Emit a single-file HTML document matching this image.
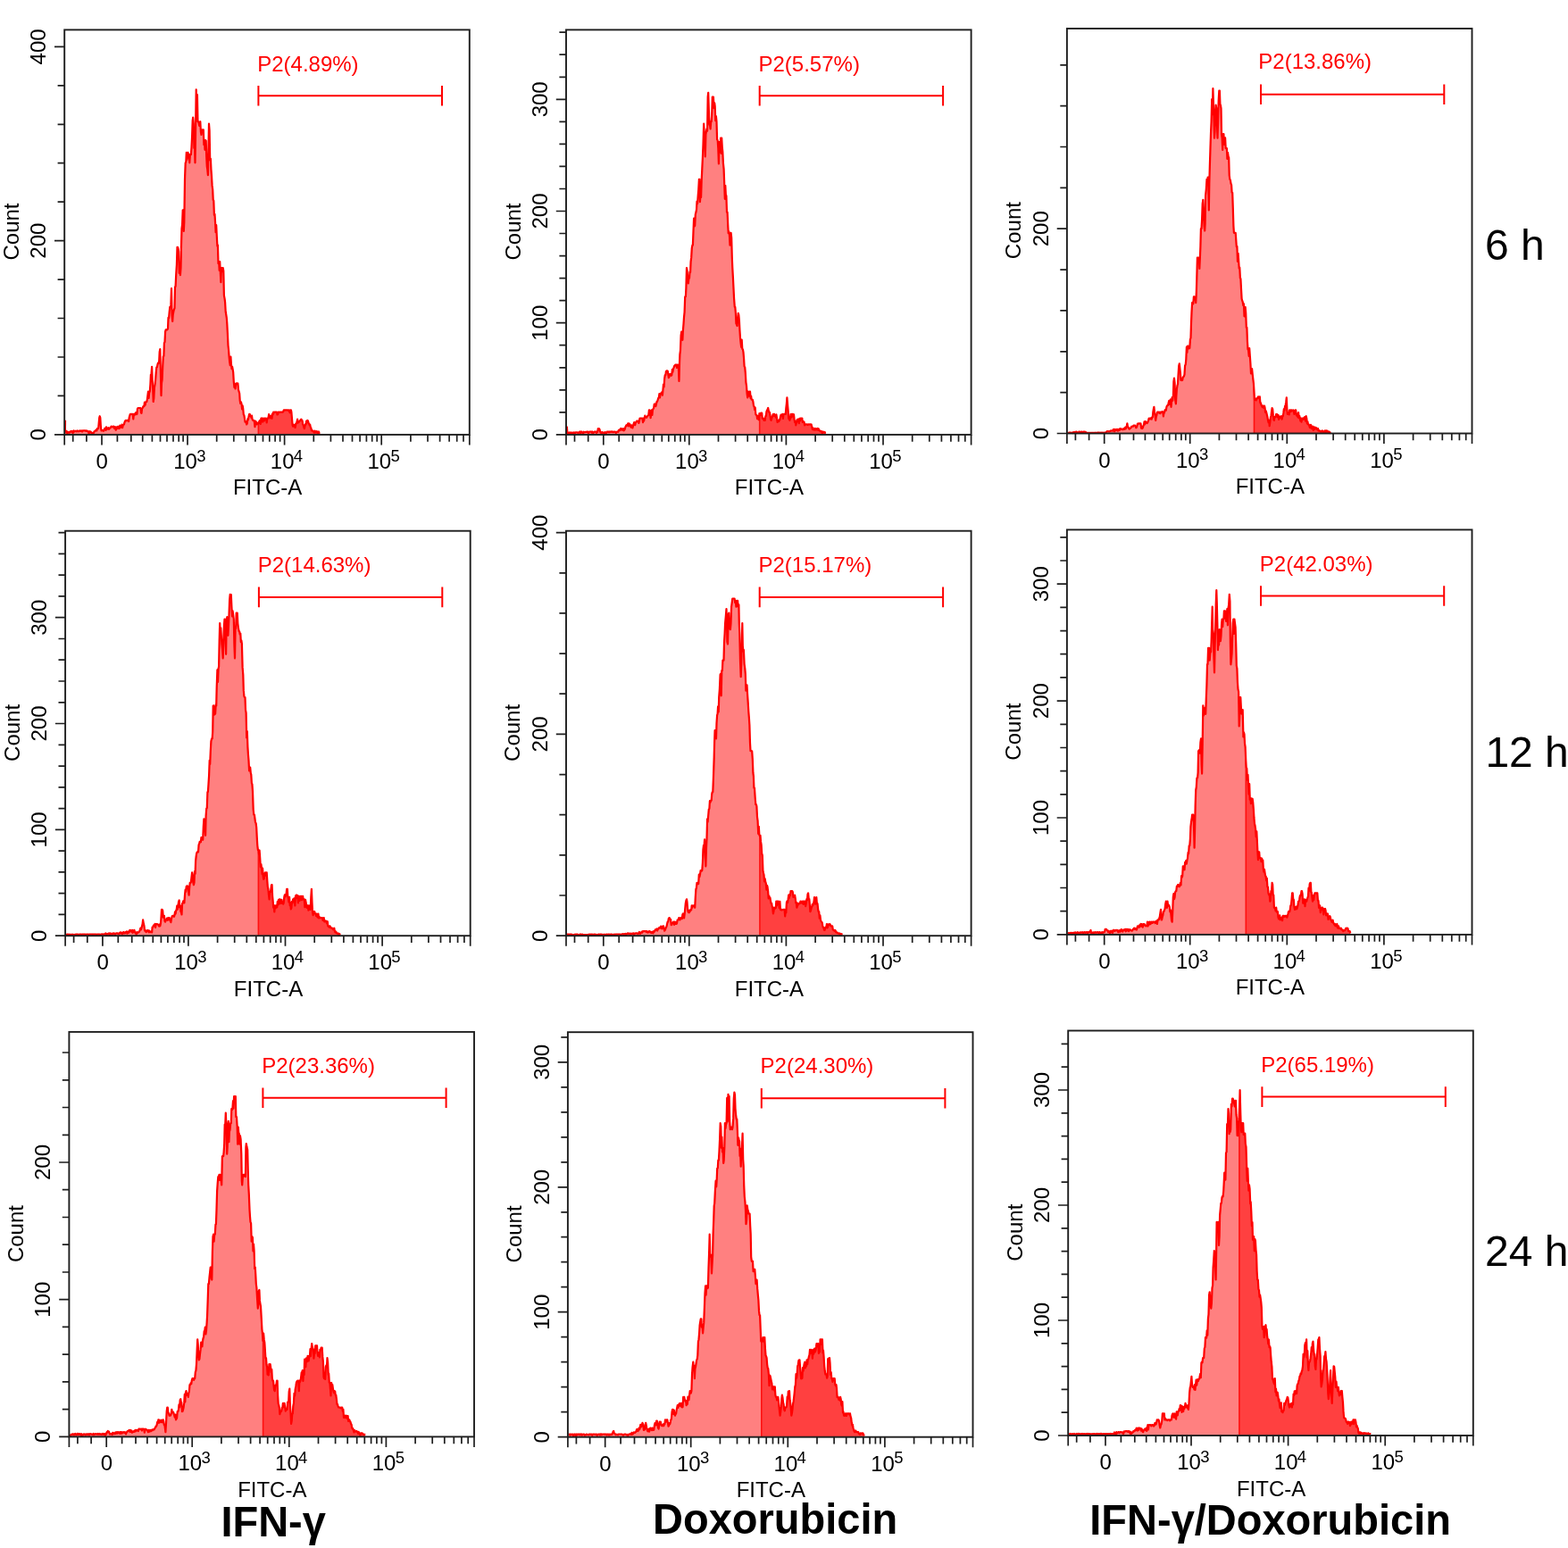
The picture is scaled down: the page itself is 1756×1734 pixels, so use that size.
<!DOCTYPE html>
<html><head><meta charset="utf-8"><title>Flow cytometry histograms</title>
<style>html,body{margin:0;padding:0;background:#fff;}svg{display:block;}.t{font-family:"Liberation Sans", Arial, sans-serif;font-size:24px;fill:#000;}.s{font-family:"Liberation Sans", Arial, sans-serif;font-size:18.5px;fill:#000;}.r{fill:#ff0000;}.b{font-family:"Liberation Sans", Arial, sans-serif;font-size:47px;font-weight:bold;fill:#000;}.h{font-family:"Liberation Sans", Arial, sans-serif;font-size:48px;fill:#000;}</style></head><body>
<svg width="1756" height="1734" viewBox="0 0 1756 1734">
<rect width="1756" height="1734" fill="#fff"/>
<!-- panel 1 -->
<clipPath id="c1"><polygon points="73,486.4 73,470.8 72.9,482.3 73.6,482.3 74.3,484.6 74.9,483.3 75.5,485.1 76.1,484 76.7,484.6 77.3,484.2 77.9,484.6 78.5,483.5 79.1,483.2 79.6,483.7 80.2,482.9 80.8,483 81.4,484.8 82,484.7 82.6,482.4 83.2,483.5 83.8,483.2 84.4,483 85,482.6 85.6,483.3 86.2,483.2 86.8,482.3 87.4,483.1 88,483.3 88.6,482.9 89.1,482.5 89.7,482.3 90.3,482.8 90.9,482.9 91.5,482.3 92.1,483.5 92.7,482.3 93.3,482.3 93.9,482.3 94.5,482.5 95.1,482.3 95.7,482.3 96.3,482.9 96.9,482.4 97.5,482.5 98.2,483.4 98.8,483.2 99.4,485.1 100,484.9 100.6,483.2 101.2,483.6 101.8,483.6 102.5,485.4 103.1,485.2 103.7,485 104.3,484.6 104.9,484.9 105.5,483.4 106,483.3 106.6,482.6 107.2,482.1 107.8,481.4 108.3,482.4 108.9,480 109.5,480.3 110.1,480 110.6,475.2 111.2,468.1 111.7,466.2 112.3,467.8 112.9,478 113.5,482.3 114.1,482.2 114.8,482 115.4,482.6 116,482.8 116.6,481.6 117.2,479.9 117.8,481.1 118.4,481.8 119,478.3 119.6,481.2 120.2,479.5 120.8,480.2 121.4,479.2 122,480.8 122.7,479.7 123.3,479.6 123.9,478.7 124.5,477.7 125.1,477.7 125.7,478.3 126.2,478.1 126.8,477.7 127.4,477.7 128,479.9 128.5,479.9 129.1,478.2 129.7,481.7 130.3,480.5 130.9,478.5 131.4,477.9 132,480 132.6,477.9 133.2,479.2 133.7,479.9 134.3,476.7 134.9,478.1 135.5,476.8 136,478.8 136.6,475.5 137.2,479.1 137.8,476.1 138.4,475.8 138.9,475.4 139.5,473.1 140.1,471.6 140.7,471 141.2,470.8 141.8,471.3 142.4,470.8 143,470.8 143.5,470.8 144.1,472 144.7,467.6 145.3,465.5 145.9,463.9 146.4,463.9 147,463.9 147.6,463.9 148.2,464 148.7,463.9 149.3,469.4 149.9,463.9 150.5,463.9 151,464.6 151.6,463 152.2,462.1 152.8,464.2 153.4,463.8 153.9,458.1 154.5,457 155.1,457 155.7,457 156.2,457 156.8,457 157.4,457 158,462.4 158.5,462.8 159.1,457.5 159.7,457 160.3,455.5 160.9,454.8 161.4,455.2 162,450.5 162.6,453.7 163.2,450.4 163.7,450 164.3,450 164.9,447.1 165.5,442.5 166,438.5 166.6,446 167.2,439.9 167.8,438.5 168.4,430.5 168.9,419.7 169.5,419.1 170.1,410.8 170.6,424.5 171.2,434.6 171.7,450 172.3,446.1 172.9,434.3 173.5,430.6 174.1,425.8 174.7,417.7 175.3,411.6 175.9,411.3 176.4,408.6 177,406.7 177.6,406.9 178.2,404.3 178.7,394.3 179.3,391.2 179.9,415.7 180.5,443.1 181,429.1 181.6,425.4 182.2,410.4 182.8,399.3 183.4,398.8 183.9,384.2 184.5,383.3 185.1,371.6 185.7,369.3 186.2,369.3 186.8,369.3 187.4,369.3 188,368.1 188.5,355.8 189.1,356.3 189.7,349.3 190.3,343.9 190.9,343.9 191.4,341.4 192,323.1 192.6,353.1 193.2,360 193.7,352.7 194.3,349.3 194.9,346.7 195.5,345.3 196,321.3 196.6,320.8 197.2,307.9 197.9,296.5 198.5,276.9 199,276.9 199.5,278.3 200.1,281.6 200.7,305.9 201.3,298.6 201.9,308.1 202.5,300 203,274.4 203.5,256.2 204.1,251.3 204.7,235.4 205.2,235.4 205.8,259 206.3,249.2 207,200.8 207.7,182.3 208.3,181.5 208.8,170.8 209.4,178.9 209.9,174.1 210.5,170.8 211.1,176.6 211.7,172.9 212.3,182.3 212.9,173.1 213.4,173.1 213.9,173.1 214.5,165.1 215.1,152.7 215.7,134.8 216.2,131.5 216.8,138.4 217.4,165.9 218,161.4 218.5,182.3 219.1,143.2 219.7,100.4 220.3,127.9 220.9,106.1 221.5,136.2 222.1,136.2 222.6,137.9 223.2,140.8 223.7,137.5 224.3,136.2 224.9,147.8 225.5,151 226.1,145.7 226.6,145.4 227.2,145.4 227.8,145.4 228.4,162.1 228.9,156.9 229.5,167.8 230.1,156.9 230.7,157.6 231.2,175.4 231.8,186.6 232.3,189.8 232.9,196.2 233.4,167.9 234,138.5 234.6,146.1 235.2,179.5 235.9,177.7 236.4,189.3 237,197.1 237.6,207.9 238.2,212.3 238.7,223.9 239.3,224.9 239.9,240.9 240.5,240 241.1,249.7 241.6,260.2 242.2,252.2 242.8,264.7 243.4,275.6 243.9,274.6 244.5,295.2 245.1,292.8 245.7,302.9 246.2,293 246.8,305 247.4,316.2 248,300 248.6,300 249.1,304.2 249.7,300 250.3,303.5 250.9,330.9 251.6,334.6 252.1,338.6 252.7,349.2 253.2,352 253.8,356 254.3,362.3 254.9,373.9 255.5,387 256.1,392.6 256.6,399.3 257.2,405.6 257.8,409.2 258.4,399.5 258.9,407.3 259.5,413.1 260.1,410.8 260.7,414 261.2,417.2 261.8,427.6 262.4,433.9 263,430.5 263.6,435.5 264.1,429.9 264.7,429.3 265.3,430 265.9,429.3 266.4,429.6 267,436.6 267.6,438.5 268.2,440.8 268.7,448.6 269.3,452 269.9,450.2 270.5,452.3 271.1,458.3 271.6,454.3 272.2,457.5 272.8,464.3 273.4,465.1 273.9,468.5 274.5,472.7 275.1,471.8 275.7,473.2 276.2,475.4 276.8,474.4 277.4,469 278,470.2 278.6,466.4 279.1,464.1 279.7,463.9 280.3,465.9 280.9,465.9 281.4,467.8 282,465.6 282.6,469.8 283.2,470.8 283.7,470.8 284.3,470.8 284.9,472.9 285.5,478.2 286.1,471.7 286.6,473.6 287.2,472.6 287.8,475.4 288.4,474.1 288.9,474.5 289.5,474.4 290.1,472.6 290.7,471.3 291.2,470.8 291.8,475 292.4,468.5 293,470.5 293.6,468.5 294.1,472.6 294.7,470.7 295.3,468.5 295.9,471.5 296.4,468.8 297,468.5 297.6,468.5 298.2,469 298.7,473.3 299.3,468.5 299.9,468.5 300.5,468.5 301.1,464.2 301.6,466.4 302.2,466.1 302.8,468.3 303.4,465.7 303.9,466.7 304.5,468.8 305.1,463.3 305.7,464.4 306.2,461.6 306.8,462.3 307.4,461.6 308,461.6 308.6,461.6 309.2,461.6 309.9,461.6 310.5,464.4 311.1,464.2 311.7,461.6 312.3,461.6 312.9,462 313.6,461.6 314.2,461.6 314.8,461.6 315.4,461.6 316,461.6 316.6,461.6 317.2,461.1 317.8,459.3 318.4,459.3 318.9,459.3 319.5,459.3 320.1,459.3 320.7,459.3 321.2,459.3 321.8,459.3 322.4,459.3 323,459.8 323.6,459.3 324.1,461 324.7,462.3 325.3,459.3 325.9,459.3 326.4,461.8 327,469 327.6,476.3 328.2,477.7 328.8,475.7 329.4,476.6 330,475.9 330.6,479 331.3,474.8 331.9,474.1 332.5,472.5 333.1,469.6 333.7,473.6 334.3,472.7 334.9,472.7 335.6,471.5 336.2,471.1 336.8,470.1 337.4,469.6 338,470.6 338.6,471.3 339.1,475 339.7,476.1 340.3,478.5 340.9,480 341.4,477.6 342,475.2 342.6,475.3 343.2,471.5 343.8,473.3 344.3,470.8 344.9,471.5 345.5,473.4 346.1,474.7 346.6,476.1 347.2,475.7 347.8,478.6 348.4,479.5 348.9,482.3 349.6,482.3 350.2,482.3 350.8,483.5 351.4,483.5 352,484.6 352.6,482.6 353.3,483.4 353.9,484.4 354.5,483.2 355.1,483.3 355.7,485.2 356.3,484.4 356.9,483.5 357.6,485.3 358.2,485.1 358.2,486.4"/></clipPath>
<g clip-path="url(#c1)">
<rect x="72.2" y="33.4" width="217.2" height="453.5" fill="#ff8080"/>
<rect x="289.4" y="33.4" width="236.4" height="453.5" fill="#ff4040"/>
<line x1="289.4" y1="33.4" x2="289.4" y2="486.9" stroke="#ff1010" stroke-width="1.6"/>
</g>
<polyline points="73,470.8 72.9,482.3 73.6,482.3 74.3,484.6 74.9,483.3 75.5,485.1 76.1,484 76.7,484.6 77.3,484.2 77.9,484.6 78.5,483.5 79.1,483.2 79.6,483.7 80.2,482.9 80.8,483 81.4,484.8 82,484.7 82.6,482.4 83.2,483.5 83.8,483.2 84.4,483 85,482.6 85.6,483.3 86.2,483.2 86.8,482.3 87.4,483.1 88,483.3 88.6,482.9 89.1,482.5 89.7,482.3 90.3,482.8 90.9,482.9 91.5,482.3 92.1,483.5 92.7,482.3 93.3,482.3 93.9,482.3 94.5,482.5 95.1,482.3 95.7,482.3 96.3,482.9 96.9,482.4 97.5,482.5 98.2,483.4 98.8,483.2 99.4,485.1 100,484.9 100.6,483.2 101.2,483.6 101.8,483.6 102.5,485.4 103.1,485.2 103.7,485 104.3,484.6 104.9,484.9 105.5,483.4 106,483.3 106.6,482.6 107.2,482.1 107.8,481.4 108.3,482.4 108.9,480 109.5,480.3 110.1,480 110.6,475.2 111.2,468.1 111.7,466.2 112.3,467.8 112.9,478 113.5,482.3 114.1,482.2 114.8,482 115.4,482.6 116,482.8 116.6,481.6 117.2,479.9 117.8,481.1 118.4,481.8 119,478.3 119.6,481.2 120.2,479.5 120.8,480.2 121.4,479.2 122,480.8 122.7,479.7 123.3,479.6 123.9,478.7 124.5,477.7 125.1,477.7 125.7,478.3 126.2,478.1 126.8,477.7 127.4,477.7 128,479.9 128.5,479.9 129.1,478.2 129.7,481.7 130.3,480.5 130.9,478.5 131.4,477.9 132,480 132.6,477.9 133.2,479.2 133.7,479.9 134.3,476.7 134.9,478.1 135.5,476.8 136,478.8 136.6,475.5 137.2,479.1 137.8,476.1 138.4,475.8 138.9,475.4 139.5,473.1 140.1,471.6 140.7,471 141.2,470.8 141.8,471.3 142.4,470.8 143,470.8 143.5,470.8 144.1,472 144.7,467.6 145.3,465.5 145.9,463.9 146.4,463.9 147,463.9 147.6,463.9 148.2,464 148.7,463.9 149.3,469.4 149.9,463.9 150.5,463.9 151,464.6 151.6,463 152.2,462.1 152.8,464.2 153.4,463.8 153.9,458.1 154.5,457 155.1,457 155.7,457 156.2,457 156.8,457 157.4,457 158,462.4 158.5,462.8 159.1,457.5 159.7,457 160.3,455.5 160.9,454.8 161.4,455.2 162,450.5 162.6,453.7 163.2,450.4 163.7,450 164.3,450 164.9,447.1 165.5,442.5 166,438.5 166.6,446 167.2,439.9 167.8,438.5 168.4,430.5 168.9,419.7 169.5,419.1 170.1,410.8 170.6,424.5 171.2,434.6 171.7,450 172.3,446.1 172.9,434.3 173.5,430.6 174.1,425.8 174.7,417.7 175.3,411.6 175.9,411.3 176.4,408.6 177,406.7 177.6,406.9 178.2,404.3 178.7,394.3 179.3,391.2 179.9,415.7 180.5,443.1 181,429.1 181.6,425.4 182.2,410.4 182.8,399.3 183.4,398.8 183.9,384.2 184.5,383.3 185.1,371.6 185.7,369.3 186.2,369.3 186.8,369.3 187.4,369.3 188,368.1 188.5,355.8 189.1,356.3 189.7,349.3 190.3,343.9 190.9,343.9 191.4,341.4 192,323.1 192.6,353.1 193.2,360 193.7,352.7 194.3,349.3 194.9,346.7 195.5,345.3 196,321.3 196.6,320.8 197.2,307.9 197.9,296.5 198.5,276.9 199,276.9 199.5,278.3 200.1,281.6 200.7,305.9 201.3,298.6 201.9,308.1 202.5,300 203,274.4 203.5,256.2 204.1,251.3 204.7,235.4 205.2,235.4 205.8,259 206.3,249.2 207,200.8 207.7,182.3 208.3,181.5 208.8,170.8 209.4,178.9 209.9,174.1 210.5,170.8 211.1,176.6 211.7,172.9 212.3,182.3 212.9,173.1 213.4,173.1 213.9,173.1 214.5,165.1 215.1,152.7 215.7,134.8 216.2,131.5 216.8,138.4 217.4,165.9 218,161.4 218.5,182.3 219.1,143.2 219.7,100.4 220.3,127.9 220.9,106.1 221.5,136.2 222.1,136.2 222.6,137.9 223.2,140.8 223.7,137.5 224.3,136.2 224.9,147.8 225.5,151 226.1,145.7 226.6,145.4 227.2,145.4 227.8,145.4 228.4,162.1 228.9,156.9 229.5,167.8 230.1,156.9 230.7,157.6 231.2,175.4 231.8,186.6 232.3,189.8 232.9,196.2 233.4,167.9 234,138.5 234.6,146.1 235.2,179.5 235.9,177.7 236.4,189.3 237,197.1 237.6,207.9 238.2,212.3 238.7,223.9 239.3,224.9 239.9,240.9 240.5,240 241.1,249.7 241.6,260.2 242.2,252.2 242.8,264.7 243.4,275.6 243.9,274.6 244.5,295.2 245.1,292.8 245.7,302.9 246.2,293 246.8,305 247.4,316.2 248,300 248.6,300 249.1,304.2 249.7,300 250.3,303.5 250.9,330.9 251.6,334.6 252.1,338.6 252.7,349.2 253.2,352 253.8,356 254.3,362.3 254.9,373.9 255.5,387 256.1,392.6 256.6,399.3 257.2,405.6 257.8,409.2 258.4,399.5 258.9,407.3 259.5,413.1 260.1,410.8 260.7,414 261.2,417.2 261.8,427.6 262.4,433.9 263,430.5 263.6,435.5 264.1,429.9 264.7,429.3 265.3,430 265.9,429.3 266.4,429.6 267,436.6 267.6,438.5 268.2,440.8 268.7,448.6 269.3,452 269.9,450.2 270.5,452.3 271.1,458.3 271.6,454.3 272.2,457.5 272.8,464.3 273.4,465.1 273.9,468.5 274.5,472.7 275.1,471.8 275.7,473.2 276.2,475.4 276.8,474.4 277.4,469 278,470.2 278.6,466.4 279.1,464.1 279.7,463.9 280.3,465.9 280.9,465.9 281.4,467.8 282,465.6 282.6,469.8 283.2,470.8 283.7,470.8 284.3,470.8 284.9,472.9 285.5,478.2 286.1,471.7 286.6,473.6 287.2,472.6 287.8,475.4 288.4,474.1 288.9,474.5 289.5,474.4 290.1,472.6 290.7,471.3 291.2,470.8 291.8,475 292.4,468.5 293,470.5 293.6,468.5 294.1,472.6 294.7,470.7 295.3,468.5 295.9,471.5 296.4,468.8 297,468.5 297.6,468.5 298.2,469 298.7,473.3 299.3,468.5 299.9,468.5 300.5,468.5 301.1,464.2 301.6,466.4 302.2,466.1 302.8,468.3 303.4,465.7 303.9,466.7 304.5,468.8 305.1,463.3 305.7,464.4 306.2,461.6 306.8,462.3 307.4,461.6 308,461.6 308.6,461.6 309.2,461.6 309.9,461.6 310.5,464.4 311.1,464.2 311.7,461.6 312.3,461.6 312.9,462 313.6,461.6 314.2,461.6 314.8,461.6 315.4,461.6 316,461.6 316.6,461.6 317.2,461.1 317.8,459.3 318.4,459.3 318.9,459.3 319.5,459.3 320.1,459.3 320.7,459.3 321.2,459.3 321.8,459.3 322.4,459.3 323,459.8 323.6,459.3 324.1,461 324.7,462.3 325.3,459.3 325.9,459.3 326.4,461.8 327,469 327.6,476.3 328.2,477.7 328.8,475.7 329.4,476.6 330,475.9 330.6,479 331.3,474.8 331.9,474.1 332.5,472.5 333.1,469.6 333.7,473.6 334.3,472.7 334.9,472.7 335.6,471.5 336.2,471.1 336.8,470.1 337.4,469.6 338,470.6 338.6,471.3 339.1,475 339.7,476.1 340.3,478.5 340.9,480 341.4,477.6 342,475.2 342.6,475.3 343.2,471.5 343.8,473.3 344.3,470.8 344.9,471.5 345.5,473.4 346.1,474.7 346.6,476.1 347.2,475.7 347.8,478.6 348.4,479.5 348.9,482.3 349.6,482.3 350.2,482.3 350.8,483.5 351.4,483.5 352,484.6 352.6,482.6 353.3,483.4 353.9,484.4 354.5,483.2 355.1,483.3 355.7,485.2 356.3,484.4 356.9,483.5 357.6,485.3 358.2,485.1" fill="none" stroke="#ff0000" stroke-width="2.2" stroke-linejoin="round"/>
<rect x="72.2" y="33.4" width="453.6" height="453.5" fill="none" stroke="#1e1e1e" stroke-width="1.9"/>
<path d="M61 486.9H72.2 M64.6 443.4H72.2 M64.6 400H72.2 M64.6 356.5H72.2 M64.6 313.1H72.2 M61 269.6H72.2 M64.6 226.2H72.2 M64.6 182.7H72.2 M64.6 139.3H72.2 M64.6 95.8H72.2 M61 52.4H72.2 M72.2 486.9V498.4 M81.7 486.9V494.7 M96.9 486.9V494.7 M114 486.9V498.4 M131.4 486.9V494.7 M146.8 486.9V494.7 M159.7 486.9V494.7 M170.4 486.9V494.7 M179.5 486.9V494.7 M187 486.9V494.7 M194 486.9V494.7 M200.2 486.9V494.7 M205.1 486.9V494.7 M210 486.9V498.4 M242.7 486.9V494.7 M261.8 486.9V494.7 M275.4 486.9V494.7 M285.9 486.9V494.7 M294.5 486.9V494.7 M301.8 486.9V494.7 M308.1 486.9V494.7 M313.6 486.9V494.7 M318.6 486.9V498.4 M351.3 486.9V494.7 M370.4 486.9V494.7 M384 486.9V494.7 M394.5 486.9V494.7 M403.1 486.9V494.7 M410.4 486.9V494.7 M416.7 486.9V494.7 M422.2 486.9V494.7 M427.2 486.9V498.4 M459.9 486.9V494.7 M479 486.9V494.7 M492.6 486.9V494.7 M503.1 486.9V494.7 M511.7 486.9V494.7 M519 486.9V494.7 M525.8 486.9V498.4" stroke="#1e1e1e" stroke-width="1.7" fill="none"/>
<text x="51.2" y="486.9" transform="rotate(-90 51.2 486.9)" text-anchor="middle" class="t">0</text>
<text x="51.2" y="269.6" transform="rotate(-90 51.2 269.6)" text-anchor="middle" class="t">200</text>
<text x="51.2" y="52.4" transform="rotate(-90 51.2 52.4)" text-anchor="middle" class="t">400</text>
<text x="20.7" y="259.5" transform="rotate(-90 20.7 259.5)" text-anchor="middle" class="t">Count</text>
<text x="114.2" y="524.9" text-anchor="middle" class="t">0</text>
<text x="207.6" y="524.9" text-anchor="middle" class="t">10</text>
<text x="225.4" y="516.5" text-anchor="middle" class="s">3</text>
<text x="316.2" y="524.9" text-anchor="middle" class="t">10</text>
<text x="334" y="516.5" text-anchor="middle" class="s">4</text>
<text x="424.8" y="524.9" text-anchor="middle" class="t">10</text>
<text x="442.6" y="516.5" text-anchor="middle" class="s">5</text>
<text x="299.6" y="554.4" text-anchor="middle" class="t">FITC-A</text>
<path d="M289.4 107.3H495 M289.4 96V118.6 M495 96V118.6" stroke="#ff0000" stroke-width="2" fill="none"/>
<text x="288.2" y="79.5" class="t r">P2(4.89%)</text>
<!-- panel 2 -->
<clipPath id="c2"><polygon points="634.8,486.4 634.8,477.7 635.4,485.1 636,485.9 636.6,486.2 637.2,484.5 637.8,484.4 638.4,485.2 639,485.4 639.6,484.3 640.2,485.1 640.8,485.8 641.4,485.5 642,484.4 642.6,486.4 643.2,484.5 643.8,485.5 644.4,484.4 645.1,484.5 645.7,484.3 646.3,484.5 646.9,484.4 647.5,485.2 648.1,484.7 648.7,484 649.3,483.5 649.9,485.2 650.5,484.5 651.1,483.5 651.7,484.4 652.3,484.8 652.9,485.8 653.5,483.7 654.1,484 654.7,484.3 655.3,484 655.9,483.9 656.5,483.9 657.1,483.9 657.7,483.5 658.3,483.5 659,485.6 659.6,484.1 660.2,483.5 660.8,483.5 661.4,483.5 662,483.5 662.6,484.7 663.2,483.5 663.8,484 664.4,485.1 665,484.1 665.6,483.9 666.2,483.5 666.8,483.5 667.4,483.9 668,484.8 668.6,483.5 669.2,484 669.8,480 670.3,480 670.9,480 671.5,481.1 672.1,483.6 672.7,484.7 673.2,484.2 673.8,485.5 674.4,484.1 675,484.4 675.6,484.5 676.2,484.9 676.8,486.4 677.4,484.2 678,484.3 678.6,485 679.2,484.9 679.8,483.5 680.4,483.5 681,483.5 681.6,484.2 682.2,483.5 682.8,484.1 683.4,483.6 684,483.5 684.5,483.8 685.1,483.5 685.7,483.8 686.3,483.5 686.9,484.1 687.5,483.8 688.1,483.6 688.7,483.5 689.3,484.3 689.9,485 690.5,484.1 691.1,483.5 691.7,483.5 692.3,483.8 692.9,481.8 693.4,481.7 694,482.2 694.6,481.3 695.2,480 695.7,481.4 696.3,480.3 696.9,481.7 697.5,481.2 698,480.1 698.6,482.3 699.2,481.7 699.8,480.7 700.4,478.2 700.9,477.5 701.5,476.2 702.1,476.6 702.7,476.5 703.2,474.3 703.8,477.4 704.4,474.3 705,476.7 705.5,475.4 706.1,477.9 706.7,478.7 707.3,476.3 707.9,477.7 708.4,479.4 709,477.1 709.6,474.9 710.2,473.1 710.7,475.2 711.3,476 711.9,473.1 712.5,473.1 713,471.6 713.6,471.6 714.2,471.8 714.8,471.7 715.4,474 715.9,472.2 716.5,468.5 717.1,468.5 717.7,468.5 718.2,468.5 718.8,468.5 719.4,468.5 720,473.1 720.5,468.5 721.1,471.6 721.7,468.5 722.3,465.6 722.9,466.9 723.4,467.1 724,467.8 724.6,466.8 725.2,466 725.7,465.5 726.3,465 726.9,459.3 727.5,459.3 728,461.1 728.6,468.1 729.2,464.2 729.8,459.3 730.4,464.9 730.9,459.3 731.5,458.1 732.1,457.2 732.7,453 733.2,452.3 733.8,454.7 734.4,455 735,452.4 735.5,450 736.1,449.7 736.7,447.7 737.3,445.8 737.9,445.1 738.4,441.2 739,445.4 739.6,441.2 740.2,440.8 740.7,439.9 741.3,439.2 741.9,442.7 742.5,436.2 743,430.5 743.6,433.4 744.2,424 744.8,420 745.4,420.1 745.9,416.2 746.5,415.4 747.1,415.4 747.7,415.5 748.2,418.5 748.8,423.1 749.4,422.3 750,419 750.5,419.7 751.1,418.8 751.7,420.8 752.3,420.2 752.9,413.8 753.4,416.8 754,413.1 754.6,411.7 755.2,409.8 755.7,409.7 756.3,408.5 756.9,408.5 757.5,408.5 758,412 758.6,408.5 759.2,408.5 759.8,409.6 760.5,426.9 760.9,409.9 761.4,396.9 762,392.3 762.6,376 763.2,371.6 763.8,373.1 764.4,380.8 764.9,370.2 765.5,362.8 766,355.4 766.6,349.6 767.2,332.3 767.9,332.3 768.4,322.3 769,300 769.6,303.3 770.2,311.6 770.8,317.3 771.4,311.6 772,311.6 772.5,304.5 773.1,304.9 773.6,293.1 774.2,288.4 774.8,277.9 775.4,274.6 775.9,274.6 776.5,259.1 777.1,244.6 777.7,253.5 778.2,252.9 778.8,240.2 779.4,237.7 780,235 780.5,225.6 781.1,228 781.7,219.2 782.3,212.1 782.9,200.8 783.4,200.8 783.9,226.2 784.5,219.2 785.1,221 785.7,201.7 786.3,189.2 786.9,176.7 787.5,161.5 788.2,138.5 788.7,147.6 789.2,153.9 789.8,175.4 790.4,150.9 790.9,147.7 791.5,144.4 792.1,146.7 792.7,108.3 793.2,103.8 793.9,124.4 794.5,139.8 795.1,140.8 795.6,144.3 796.2,136.2 796.7,136.2 797.2,129 797.8,108.5 798.3,108.5 798.9,108.5 799.6,121.2 800.2,115.4 800.7,119.2 801.3,135.2 801.9,130.2 802.5,136.2 803.1,156.4 803.7,157.2 804.3,166.2 804.9,183.4 805.4,159.2 805.9,159.2 806.5,170.3 807.1,154.6 807.7,171.9 808.2,154.6 808.8,165.2 809.3,169.9 809.9,182.3 810.6,189.4 811.2,205.4 811.8,222.8 812.3,207.9 812.9,219.2 813.4,219.2 814,237.7 814.6,237.7 815.2,251.6 815.7,261.1 816.3,259.4 816.9,263.3 817.5,274.6 818.1,270 818.6,260.8 819.2,266.4 819.8,288.5 820.3,300.2 820.9,310.6 821.4,320.8 822.1,334.6 822.8,343.9 823.3,343.9 823.9,350.9 824.4,362.3 825,363.6 825.6,365.1 826.1,357.9 826.7,350.8 827.3,352.5 827.9,359.4 828.4,369.3 829,378.5 829.6,384.3 830.2,388.8 830.7,380.6 831.3,390.8 831.9,391.3 832.5,394.6 833.1,401.9 833.6,410.5 834.2,411.2 834.8,417.7 835.4,428.1 836,432.3 836.6,440.8 837.2,445.3 837.7,438.5 838.3,440.6 838.8,443.7 839.4,438.5 840,438.5 840.6,446.2 841.1,443.5 841.7,447.7 842.3,447.7 842.9,447.9 843.4,450 844,454.6 844.6,455.2 845.2,459 845.7,456.6 846.3,463.9 846.9,464.9 847.5,465 848.1,469.2 848.6,466.2 849.2,467 849.8,470.2 850.4,463.1 850.9,465.3 851.5,464.9 852.1,462.7 852.7,462.7 853.2,462.7 853.8,468.6 854.4,468.2 855,469 855.6,470.8 856.1,470.3 856.7,470.9 857.3,466.2 857.9,465.9 858.4,461.2 859,459.5 859.6,458.6 860.2,457 860.7,459.9 861.3,462 861.9,461.6 862.5,464.9 863.1,469.9 863.6,470.8 864.2,468.7 864.8,467.1 865.4,465.2 865.9,463.9 866.5,465.8 867.1,463.9 867.7,466 868.2,466.1 868.8,467.7 869.4,464.4 870,468.2 870.6,472.9 871.1,471.2 871.7,470.8 872.3,472 872.9,469.8 873.4,470.2 874,466.9 874.6,464.5 875.2,465.1 875.7,466 876.3,463.9 876.9,468.8 877.5,464.2 878.1,463.9 878.6,463.9 879.2,463.9 879.8,463.9 880.3,457.4 880.9,452.1 881.4,445.4 882,452.9 882.6,459.7 883.2,468.5 883.8,469.6 884.4,470.8 885,468.4 885.6,463.9 886.1,463.9 886.7,467.3 887.3,463.9 887.9,463.9 888.4,465.5 889,464.3 889.6,469.9 890.2,473.1 890.8,472.1 891.3,476.3 891.9,473.7 892.5,470.3 893.1,472.2 893.6,469.6 894.2,470.3 894.8,474.2 895.4,468.8 895.9,471.5 896.5,468.5 897.1,468.5 897.7,468.5 898.3,468.5 898.8,472.8 899.4,471.9 900,472.4 900.6,472.9 901.1,476.3 901.7,475.4 902.3,475.4 902.9,475.4 903.4,475.4 904,475.4 904.6,475.9 905.2,475.4 905.8,475.4 906.3,475.5 906.9,475.4 907.5,475.4 908.1,475.6 908.6,475.4 909.2,478.1 909.8,480.7 910.4,479.3 910.9,481.2 911.5,480.8 912.1,481.5 912.7,480 913.3,481.4 913.8,480.1 914.4,480.8 915,481.4 915.6,480 916.1,481.7 916.7,480.2 917.3,481.9 917.9,482.5 918.4,482.6 919,483.4 919.6,482.9 920.2,483.5 920.8,485.5 921.3,483.5 921.9,483.5 922.5,484.2 923.1,484.4 923.6,484 924.2,484.8 924.8,485.1 924.8,486.4"/></clipPath>
<g clip-path="url(#c2)">
<rect x="634" y="33.4" width="216.7" height="453.5" fill="#ff8080"/>
<rect x="850.7" y="33.4" width="236.9" height="453.5" fill="#ff4040"/>
<line x1="850.7" y1="33.4" x2="850.7" y2="486.9" stroke="#ff1010" stroke-width="1.6"/>
</g>
<polyline points="634.8,477.7 635.4,485.1 636,485.9 636.6,486.2 637.2,484.5 637.8,484.4 638.4,485.2 639,485.4 639.6,484.3 640.2,485.1 640.8,485.8 641.4,485.5 642,484.4 642.6,486.4 643.2,484.5 643.8,485.5 644.4,484.4 645.1,484.5 645.7,484.3 646.3,484.5 646.9,484.4 647.5,485.2 648.1,484.7 648.7,484 649.3,483.5 649.9,485.2 650.5,484.5 651.1,483.5 651.7,484.4 652.3,484.8 652.9,485.8 653.5,483.7 654.1,484 654.7,484.3 655.3,484 655.9,483.9 656.5,483.9 657.1,483.9 657.7,483.5 658.3,483.5 659,485.6 659.6,484.1 660.2,483.5 660.8,483.5 661.4,483.5 662,483.5 662.6,484.7 663.2,483.5 663.8,484 664.4,485.1 665,484.1 665.6,483.9 666.2,483.5 666.8,483.5 667.4,483.9 668,484.8 668.6,483.5 669.2,484 669.8,480 670.3,480 670.9,480 671.5,481.1 672.1,483.6 672.7,484.7 673.2,484.2 673.8,485.5 674.4,484.1 675,484.4 675.6,484.5 676.2,484.9 676.8,486.4 677.4,484.2 678,484.3 678.6,485 679.2,484.9 679.8,483.5 680.4,483.5 681,483.5 681.6,484.2 682.2,483.5 682.8,484.1 683.4,483.6 684,483.5 684.5,483.8 685.1,483.5 685.7,483.8 686.3,483.5 686.9,484.1 687.5,483.8 688.1,483.6 688.7,483.5 689.3,484.3 689.9,485 690.5,484.1 691.1,483.5 691.7,483.5 692.3,483.8 692.9,481.8 693.4,481.7 694,482.2 694.6,481.3 695.2,480 695.7,481.4 696.3,480.3 696.9,481.7 697.5,481.2 698,480.1 698.6,482.3 699.2,481.7 699.8,480.7 700.4,478.2 700.9,477.5 701.5,476.2 702.1,476.6 702.7,476.5 703.2,474.3 703.8,477.4 704.4,474.3 705,476.7 705.5,475.4 706.1,477.9 706.7,478.7 707.3,476.3 707.9,477.7 708.4,479.4 709,477.1 709.6,474.9 710.2,473.1 710.7,475.2 711.3,476 711.9,473.1 712.5,473.1 713,471.6 713.6,471.6 714.2,471.8 714.8,471.7 715.4,474 715.9,472.2 716.5,468.5 717.1,468.5 717.7,468.5 718.2,468.5 718.8,468.5 719.4,468.5 720,473.1 720.5,468.5 721.1,471.6 721.7,468.5 722.3,465.6 722.9,466.9 723.4,467.1 724,467.8 724.6,466.8 725.2,466 725.7,465.5 726.3,465 726.9,459.3 727.5,459.3 728,461.1 728.6,468.1 729.2,464.2 729.8,459.3 730.4,464.9 730.9,459.3 731.5,458.1 732.1,457.2 732.7,453 733.2,452.3 733.8,454.7 734.4,455 735,452.4 735.5,450 736.1,449.7 736.7,447.7 737.3,445.8 737.9,445.1 738.4,441.2 739,445.4 739.6,441.2 740.2,440.8 740.7,439.9 741.3,439.2 741.9,442.7 742.5,436.2 743,430.5 743.6,433.4 744.2,424 744.8,420 745.4,420.1 745.9,416.2 746.5,415.4 747.1,415.4 747.7,415.5 748.2,418.5 748.8,423.1 749.4,422.3 750,419 750.5,419.7 751.1,418.8 751.7,420.8 752.3,420.2 752.9,413.8 753.4,416.8 754,413.1 754.6,411.7 755.2,409.8 755.7,409.7 756.3,408.5 756.9,408.5 757.5,408.5 758,412 758.6,408.5 759.2,408.5 759.8,409.6 760.5,426.9 760.9,409.9 761.4,396.9 762,392.3 762.6,376 763.2,371.6 763.8,373.1 764.4,380.8 764.9,370.2 765.5,362.8 766,355.4 766.6,349.6 767.2,332.3 767.9,332.3 768.4,322.3 769,300 769.6,303.3 770.2,311.6 770.8,317.3 771.4,311.6 772,311.6 772.5,304.5 773.1,304.9 773.6,293.1 774.2,288.4 774.8,277.9 775.4,274.6 775.9,274.6 776.5,259.1 777.1,244.6 777.7,253.5 778.2,252.9 778.8,240.2 779.4,237.7 780,235 780.5,225.6 781.1,228 781.7,219.2 782.3,212.1 782.9,200.8 783.4,200.8 783.9,226.2 784.5,219.2 785.1,221 785.7,201.7 786.3,189.2 786.9,176.7 787.5,161.5 788.2,138.5 788.7,147.6 789.2,153.9 789.8,175.4 790.4,150.9 790.9,147.7 791.5,144.4 792.1,146.7 792.7,108.3 793.2,103.8 793.9,124.4 794.5,139.8 795.1,140.8 795.6,144.3 796.2,136.2 796.7,136.2 797.2,129 797.8,108.5 798.3,108.5 798.9,108.5 799.6,121.2 800.2,115.4 800.7,119.2 801.3,135.2 801.9,130.2 802.5,136.2 803.1,156.4 803.7,157.2 804.3,166.2 804.9,183.4 805.4,159.2 805.9,159.2 806.5,170.3 807.1,154.6 807.7,171.9 808.2,154.6 808.8,165.2 809.3,169.9 809.9,182.3 810.6,189.4 811.2,205.4 811.8,222.8 812.3,207.9 812.9,219.2 813.4,219.2 814,237.7 814.6,237.7 815.2,251.6 815.7,261.1 816.3,259.4 816.9,263.3 817.5,274.6 818.1,270 818.6,260.8 819.2,266.4 819.8,288.5 820.3,300.2 820.9,310.6 821.4,320.8 822.1,334.6 822.8,343.9 823.3,343.9 823.9,350.9 824.4,362.3 825,363.6 825.6,365.1 826.1,357.9 826.7,350.8 827.3,352.5 827.9,359.4 828.4,369.3 829,378.5 829.6,384.3 830.2,388.8 830.7,380.6 831.3,390.8 831.9,391.3 832.5,394.6 833.1,401.9 833.6,410.5 834.2,411.2 834.8,417.7 835.4,428.1 836,432.3 836.6,440.8 837.2,445.3 837.7,438.5 838.3,440.6 838.8,443.7 839.4,438.5 840,438.5 840.6,446.2 841.1,443.5 841.7,447.7 842.3,447.7 842.9,447.9 843.4,450 844,454.6 844.6,455.2 845.2,459 845.7,456.6 846.3,463.9 846.9,464.9 847.5,465 848.1,469.2 848.6,466.2 849.2,467 849.8,470.2 850.4,463.1 850.9,465.3 851.5,464.9 852.1,462.7 852.7,462.7 853.2,462.7 853.8,468.6 854.4,468.2 855,469 855.6,470.8 856.1,470.3 856.7,470.9 857.3,466.2 857.9,465.9 858.4,461.2 859,459.5 859.6,458.6 860.2,457 860.7,459.9 861.3,462 861.9,461.6 862.5,464.9 863.1,469.9 863.6,470.8 864.2,468.7 864.8,467.1 865.4,465.2 865.9,463.9 866.5,465.8 867.1,463.9 867.7,466 868.2,466.1 868.8,467.7 869.4,464.4 870,468.2 870.6,472.9 871.1,471.2 871.7,470.8 872.3,472 872.9,469.8 873.4,470.2 874,466.9 874.6,464.5 875.2,465.1 875.7,466 876.3,463.9 876.9,468.8 877.5,464.2 878.1,463.9 878.6,463.9 879.2,463.9 879.8,463.9 880.3,457.4 880.9,452.1 881.4,445.4 882,452.9 882.6,459.7 883.2,468.5 883.8,469.6 884.4,470.8 885,468.4 885.6,463.9 886.1,463.9 886.7,467.3 887.3,463.9 887.9,463.9 888.4,465.5 889,464.3 889.6,469.9 890.2,473.1 890.8,472.1 891.3,476.3 891.9,473.7 892.5,470.3 893.1,472.2 893.6,469.6 894.2,470.3 894.8,474.2 895.4,468.8 895.9,471.5 896.5,468.5 897.1,468.5 897.7,468.5 898.3,468.5 898.8,472.8 899.4,471.9 900,472.4 900.6,472.9 901.1,476.3 901.7,475.4 902.3,475.4 902.9,475.4 903.4,475.4 904,475.4 904.6,475.9 905.2,475.4 905.8,475.4 906.3,475.5 906.9,475.4 907.5,475.4 908.1,475.6 908.6,475.4 909.2,478.1 909.8,480.7 910.4,479.3 910.9,481.2 911.5,480.8 912.1,481.5 912.7,480 913.3,481.4 913.8,480.1 914.4,480.8 915,481.4 915.6,480 916.1,481.7 916.7,480.2 917.3,481.9 917.9,482.5 918.4,482.6 919,483.4 919.6,482.9 920.2,483.5 920.8,485.5 921.3,483.5 921.9,483.5 922.5,484.2 923.1,484.4 923.6,484 924.2,484.8 924.8,485.1" fill="none" stroke="#ff0000" stroke-width="2.2" stroke-linejoin="round"/>
<rect x="634" y="33.4" width="453.6" height="453.5" fill="none" stroke="#1e1e1e" stroke-width="1.9"/>
<path d="M622.8 486.9H634 M626.4 461.9H634 M626.4 436.8H634 M626.4 411.8H634 M626.4 386.7H634 M622.8 361.7H634 M626.4 336.7H634 M626.4 311.6H634 M626.4 286.6H634 M626.4 261.5H634 M622.8 236.5H634 M626.4 211.5H634 M626.4 186.4H634 M626.4 161.4H634 M626.4 136.3H634 M622.8 111.3H634 M626.4 86.3H634 M626.4 61.2H634 M626.4 36.2H634 M634 486.9V498.4 M643.5 486.9V494.7 M658.7 486.9V494.7 M675.8 486.9V498.4 M693.2 486.9V494.7 M708.6 486.9V494.7 M721.5 486.9V494.7 M732.2 486.9V494.7 M741.3 486.9V494.7 M748.8 486.9V494.7 M755.8 486.9V494.7 M762 486.9V494.7 M766.9 486.9V494.7 M771.8 486.9V498.4 M804.5 486.9V494.7 M823.6 486.9V494.7 M837.2 486.9V494.7 M847.7 486.9V494.7 M856.3 486.9V494.7 M863.6 486.9V494.7 M869.9 486.9V494.7 M875.4 486.9V494.7 M880.4 486.9V498.4 M913.1 486.9V494.7 M932.2 486.9V494.7 M945.8 486.9V494.7 M956.3 486.9V494.7 M964.9 486.9V494.7 M972.2 486.9V494.7 M978.5 486.9V494.7 M984 486.9V494.7 M989 486.9V498.4 M1021.7 486.9V494.7 M1040.8 486.9V494.7 M1054.4 486.9V494.7 M1064.9 486.9V494.7 M1073.5 486.9V494.7 M1080.8 486.9V494.7 M1087.6 486.9V498.4" stroke="#1e1e1e" stroke-width="1.7" fill="none"/>
<text x="613" y="486.9" transform="rotate(-90 613 486.9)" text-anchor="middle" class="t">0</text>
<text x="613" y="361.7" transform="rotate(-90 613 361.7)" text-anchor="middle" class="t">100</text>
<text x="613" y="236.5" transform="rotate(-90 613 236.5)" text-anchor="middle" class="t">200</text>
<text x="613" y="111.3" transform="rotate(-90 613 111.3)" text-anchor="middle" class="t">300</text>
<text x="582.5" y="259.5" transform="rotate(-90 582.5 259.5)" text-anchor="middle" class="t">Count</text>
<text x="676" y="524.9" text-anchor="middle" class="t">0</text>
<text x="769.4" y="524.9" text-anchor="middle" class="t">10</text>
<text x="787.2" y="516.5" text-anchor="middle" class="s">3</text>
<text x="878" y="524.9" text-anchor="middle" class="t">10</text>
<text x="895.8" y="516.5" text-anchor="middle" class="s">4</text>
<text x="986.6" y="524.9" text-anchor="middle" class="t">10</text>
<text x="1004.4" y="516.5" text-anchor="middle" class="s">5</text>
<text x="861.4" y="554.4" text-anchor="middle" class="t">FITC-A</text>
<path d="M850.7 107.3H1056.1 M850.7 96V118.6 M1056.1 96V118.6" stroke="#ff0000" stroke-width="2" fill="none"/>
<text x="849.5" y="79.5" class="t r">P2(5.57%)</text>
<!-- panel 3 -->
<clipPath id="c3"><polygon points="1195.7,485 1195.7,485 1196.3,484.9 1196.9,484.9 1197.5,484.7 1198.1,484.4 1198.7,485 1199.3,485 1199.8,484.8 1200.4,484.7 1201,484.7 1201.6,485 1202.2,484.2 1202.8,484.1 1203.4,484.5 1204,484.2 1204.6,483.9 1205.2,483.6 1205.8,483.8 1206.4,484.3 1206.9,484.8 1207.5,484.8 1208.1,483.9 1208.7,483.5 1209.3,484 1209.9,484.6 1210.5,483.8 1211.1,483.5 1211.7,484 1212.3,483.9 1212.9,484.2 1213.5,483.5 1214,483.5 1214.6,483.7 1215.2,483.8 1215.8,483.9 1216.3,484.8 1216.9,484.9 1217.5,484.8 1218.1,485 1218.7,484.9 1219.3,485 1219.9,484.9 1220.5,484.9 1221.1,485 1221.7,484.9 1222.2,485 1222.8,484.8 1223.4,484.9 1224,484.8 1224.6,484.9 1225.2,485 1225.8,484.8 1226.4,484.8 1227,484.7 1227.6,485 1228.2,485 1228.8,484.7 1229.4,484.6 1230,484.9 1230.6,484.6 1231.2,484.7 1231.8,484.9 1232.4,484.6 1233,485 1233.6,484.6 1234.2,484.6 1234.8,484.8 1235.4,485 1235.9,484.9 1236.5,484.6 1237.2,484.9 1237.8,484.8 1238.4,484.3 1239,483.8 1239.6,483.3 1240.2,483 1240.8,483 1241.5,483.3 1242.1,483.3 1242.7,483.4 1243.3,482.6 1243.9,482.8 1244.5,482.5 1245.2,482.3 1245.8,482.3 1246.4,482.7 1247,480.8 1247.6,481.3 1248.2,483.3 1248.9,481 1249.5,481.6 1250.1,482 1250.7,480.8 1251.3,480.8 1251.9,482.6 1252.5,481.6 1253.2,480.9 1253.8,481.8 1254.4,480 1255,480 1255.6,481 1256.2,480.8 1256.7,480.6 1257.3,481.2 1257.9,481 1258.5,480 1259,480.9 1259.6,480 1260.2,478.6 1260.7,480.4 1261.3,478.9 1261.8,477 1262.4,474.3 1263,478.4 1263.6,478.6 1264.2,480 1264.8,480.6 1265.4,479.8 1266,479.5 1266.5,479.2 1267.1,477.9 1267.7,477.7 1268.3,477.7 1268.9,477.7 1269.4,476.6 1270,476.6 1270.6,476.6 1271.2,476.6 1271.7,477.8 1272.3,479.2 1272.9,478.8 1273.5,476.6 1274,474.5 1274.6,475 1275.2,474.3 1275.8,474.3 1276.4,474.3 1276.9,474.3 1277.5,474.3 1278.1,479.6 1278.7,477.8 1279.2,480 1279.8,479.3 1280.4,477.1 1281,475.7 1281.5,472.4 1282.1,475.4 1282.7,472 1283.3,472.6 1283.9,473 1284.4,474 1285,473.7 1285.6,472.4 1286.2,470.4 1286.7,468.5 1287.3,468.5 1287.9,469.4 1288.5,468.5 1289,468.3 1289.6,469.6 1290.2,467.3 1290.8,467.3 1291.3,461.6 1291.9,458 1292.4,455.8 1293,461.7 1293.6,465.4 1294.2,470.8 1294.8,466.8 1295.4,464.9 1296,461.6 1296.5,461.6 1297.1,461.6 1297.7,461.6 1298.3,462.9 1298.9,461.6 1299.4,463.1 1300,461.6 1300.6,461.6 1301.2,461.6 1301.7,461 1302.3,461.7 1302.9,466.3 1303.5,461.3 1304,462.4 1304.6,459.3 1305.2,459.1 1305.8,459.7 1306.4,455.8 1306.9,454.6 1307.5,454.1 1308.1,453.9 1308.7,451.1 1309.2,448.9 1309.8,452.9 1310.4,448.9 1311,447.5 1311.5,455.8 1312.1,449.4 1312.7,445 1313.3,448.6 1313.9,443.1 1314.4,427.4 1315,423.5 1315.6,428.9 1316.2,448.4 1316.9,452.3 1317.4,443 1317.9,435.8 1318.5,431.6 1319,430.4 1319.6,419.2 1320.2,409.8 1320.8,407.3 1321.3,412.2 1321.9,417.6 1322.4,425.8 1323,424.9 1323.6,426 1324.2,425.7 1324.8,422.3 1325.4,422.3 1326,421.3 1326.5,419.4 1327.1,409.2 1327.7,408.5 1328.3,402.5 1328.9,388.7 1329.4,395 1330,387.7 1330.6,387.7 1331.2,389.9 1331.7,390.3 1332.3,390 1332.9,380.4 1333.5,378.5 1334,362.1 1334.5,350.2 1335.1,339.2 1335.7,338.7 1336.3,340.4 1336.9,332.3 1337.5,332.3 1338.1,335.6 1338.7,334.6 1339.2,339.2 1339.8,327.9 1340.3,311.5 1340.9,288.5 1341.5,288.5 1342.1,292.1 1342.7,288.5 1343.3,301 1343.9,288.5 1344.4,275.8 1344.9,256.2 1345.5,256.2 1346.1,245.5 1346.7,228.1 1347.3,223.9 1347.9,238.2 1348.6,253.7 1349.2,258.5 1349.6,251 1350.1,219.2 1350.8,212.1 1351.5,200.8 1352,204.4 1352.6,198.5 1353.1,198.5 1353.8,235.4 1354.3,206.1 1354.9,183.7 1355.4,168.5 1356,149.6 1356.6,136.2 1357.2,111 1357.8,128.1 1358.4,99.2 1358.9,115.3 1359.5,136 1360,154.6 1360.6,147.1 1361.1,126.2 1361.6,117.7 1362.2,120.6 1362.9,137.9 1363.5,154.6 1364.1,136 1364.7,112.6 1365.3,101.5 1365.9,101.5 1366.4,116.9 1366.9,117.7 1367.5,121.4 1368,150.3 1368.6,154.6 1369.2,168 1369.8,150 1370.4,150 1371,161.8 1371.6,160.9 1372.1,154.3 1372.7,166.2 1373.3,166.2 1373.9,166.2 1374.4,177.9 1375,170.8 1375.6,175.1 1376.2,176.7 1376.7,196.3 1377.3,200.8 1377.9,201.8 1378.5,205.7 1379.1,207.2 1379.6,215.8 1380.2,215.8 1380.8,233.1 1381.4,253 1381.9,260.8 1382.5,260.8 1383.1,260.8 1383.7,260.8 1384.2,267.7 1384.8,276.5 1385.4,276 1386,293 1386.6,283.9 1387.1,291.1 1387.7,300.6 1388.3,299.7 1388.9,311.6 1389.4,312 1390,323.5 1390.6,334.5 1391.2,336.9 1391.7,338 1392.3,342.2 1392.9,340.2 1393.5,354.3 1394.1,344.1 1394.6,343.9 1395.2,350.4 1395.8,366.9 1396.4,366.9 1396.9,381.9 1397.5,391.2 1398.1,392.3 1398.7,398.8 1399.2,390 1399.8,398.3 1400.4,407 1401,418.4 1401.6,413.1 1402.1,413.1 1402.7,419.2 1403.3,424.4 1403.9,429.3 1404.4,437.2 1405,447.7 1405.6,447.8 1406.2,446.6 1406.7,448.4 1407.3,446.3 1407.9,446.5 1408.5,445.4 1409.1,444.3 1409.6,445.1 1410.2,446.1 1410.8,444.3 1411.4,451.5 1411.9,451.2 1412.5,453.5 1413.1,454.6 1413.7,456 1414.2,454.6 1414.8,454.6 1415.4,457 1416,454.6 1416.6,457 1417.1,462 1417.7,460.2 1418.3,462.3 1418.9,464.9 1419.4,467 1420,470.8 1420.6,473.2 1421.2,470.8 1421.7,477.2 1422.3,473.1 1422.9,467.8 1423.5,465.7 1424.1,460.5 1424.6,457 1425.2,458.2 1425.8,465.4 1426.4,470.2 1426.9,470.8 1427.5,466.9 1428.1,466.8 1428.7,467.1 1429.2,463.9 1429.8,464.4 1430.4,464.2 1431,467.3 1431.6,465 1432.1,469.8 1432.7,468.5 1433.3,466.6 1433.9,466.9 1434.4,467.7 1435,466.2 1435.6,469.6 1436.2,466.2 1436.7,466.2 1437.3,462.9 1437.9,458 1438.5,459.5 1439.1,454.8 1439.6,454.6 1440.2,450.5 1440.8,445.4 1441.4,459.2 1441.9,463.9 1442.5,462 1443.1,462.9 1443.7,464.4 1444.2,459.3 1444.8,459.3 1445.4,461.2 1446,459.3 1446.6,459.3 1447.1,460.3 1447.7,459.8 1448.3,459.3 1448.9,460.8 1449.4,463.9 1450,461.8 1450.6,459.3 1451.2,459.3 1451.8,464.9 1452.3,465.7 1452.9,463.8 1453.5,467.3 1454.1,462.1 1454.6,468.2 1455.2,465.8 1455.8,468.5 1456.4,471.5 1456.9,468.5 1457.5,472.7 1458.1,468.5 1458.7,469.1 1459.3,468.5 1459.8,469.9 1460.4,468.5 1461,467.3 1461.6,467 1462.1,471.7 1462.7,466.2 1463.3,468.7 1463.9,474.4 1464.4,472.2 1465,475.4 1465.6,475.4 1466.2,476.5 1466.8,478.7 1467.3,479.2 1467.9,475.8 1468.5,478.4 1469.1,480.2 1469.6,477.7 1470.2,477.7 1470.8,481.8 1471.4,481.1 1471.9,478.4 1472.5,480.7 1473.1,480.3 1473.7,478.9 1474.3,480 1474.8,480.7 1475.4,481.4 1476,480 1476.6,482.4 1477.1,482.7 1477.7,482.3 1478.3,482.9 1478.9,483.5 1479.4,483.9 1480,483.1 1480.6,482.3 1481.2,482.7 1481.8,484.3 1482.3,483.9 1482.9,483.5 1483.5,482.5 1484.1,482.3 1484.6,485 1485.2,483 1485.8,482.3 1486.4,483.6 1486.9,483 1487.5,483.9 1488.1,483.5 1488.7,483.5 1489.3,485 1489.8,484.7 1490.4,485 1490.4,485"/></clipPath>
<g clip-path="url(#c3)">
<rect x="1194.9" y="32" width="209.6" height="453.5" fill="#ff8080"/>
<rect x="1404.5" y="32" width="244" height="453.5" fill="#ff4040"/>
<line x1="1404.5" y1="32" x2="1404.5" y2="485.5" stroke="#ff1010" stroke-width="1.6"/>
</g>
<polyline points="1195.7,485 1196.3,484.9 1196.9,484.9 1197.5,484.7 1198.1,484.4 1198.7,485 1199.3,485 1199.8,484.8 1200.4,484.7 1201,484.7 1201.6,485 1202.2,484.2 1202.8,484.1 1203.4,484.5 1204,484.2 1204.6,483.9 1205.2,483.6 1205.8,483.8 1206.4,484.3 1206.9,484.8 1207.5,484.8 1208.1,483.9 1208.7,483.5 1209.3,484 1209.9,484.6 1210.5,483.8 1211.1,483.5 1211.7,484 1212.3,483.9 1212.9,484.2 1213.5,483.5 1214,483.5 1214.6,483.7 1215.2,483.8 1215.8,483.9 1216.3,484.8 1216.9,484.9 1217.5,484.8 1218.1,485 1218.7,484.9 1219.3,485 1219.9,484.9 1220.5,484.9 1221.1,485 1221.7,484.9 1222.2,485 1222.8,484.8 1223.4,484.9 1224,484.8 1224.6,484.9 1225.2,485 1225.8,484.8 1226.4,484.8 1227,484.7 1227.6,485 1228.2,485 1228.8,484.7 1229.4,484.6 1230,484.9 1230.6,484.6 1231.2,484.7 1231.8,484.9 1232.4,484.6 1233,485 1233.6,484.6 1234.2,484.6 1234.8,484.8 1235.4,485 1235.9,484.9 1236.5,484.6 1237.2,484.9 1237.8,484.8 1238.4,484.3 1239,483.8 1239.6,483.3 1240.2,483 1240.8,483 1241.5,483.3 1242.1,483.3 1242.7,483.4 1243.3,482.6 1243.9,482.8 1244.5,482.5 1245.2,482.3 1245.8,482.3 1246.4,482.7 1247,480.8 1247.6,481.3 1248.2,483.3 1248.9,481 1249.5,481.6 1250.1,482 1250.7,480.8 1251.3,480.8 1251.9,482.6 1252.5,481.6 1253.2,480.9 1253.8,481.8 1254.4,480 1255,480 1255.6,481 1256.2,480.8 1256.7,480.6 1257.3,481.2 1257.9,481 1258.5,480 1259,480.9 1259.6,480 1260.2,478.6 1260.7,480.4 1261.3,478.9 1261.8,477 1262.4,474.3 1263,478.4 1263.6,478.6 1264.2,480 1264.8,480.6 1265.4,479.8 1266,479.5 1266.5,479.2 1267.1,477.9 1267.7,477.7 1268.3,477.7 1268.9,477.7 1269.4,476.6 1270,476.6 1270.6,476.6 1271.2,476.6 1271.7,477.8 1272.3,479.2 1272.9,478.8 1273.5,476.6 1274,474.5 1274.6,475 1275.2,474.3 1275.8,474.3 1276.4,474.3 1276.9,474.3 1277.5,474.3 1278.1,479.6 1278.7,477.8 1279.2,480 1279.8,479.3 1280.4,477.1 1281,475.7 1281.5,472.4 1282.1,475.4 1282.7,472 1283.3,472.6 1283.9,473 1284.4,474 1285,473.7 1285.6,472.4 1286.2,470.4 1286.7,468.5 1287.3,468.5 1287.9,469.4 1288.5,468.5 1289,468.3 1289.6,469.6 1290.2,467.3 1290.8,467.3 1291.3,461.6 1291.9,458 1292.4,455.8 1293,461.7 1293.6,465.4 1294.2,470.8 1294.8,466.8 1295.4,464.9 1296,461.6 1296.5,461.6 1297.1,461.6 1297.7,461.6 1298.3,462.9 1298.9,461.6 1299.4,463.1 1300,461.6 1300.6,461.6 1301.2,461.6 1301.7,461 1302.3,461.7 1302.9,466.3 1303.5,461.3 1304,462.4 1304.6,459.3 1305.2,459.1 1305.8,459.7 1306.4,455.8 1306.9,454.6 1307.5,454.1 1308.1,453.9 1308.7,451.1 1309.2,448.9 1309.8,452.9 1310.4,448.9 1311,447.5 1311.5,455.8 1312.1,449.4 1312.7,445 1313.3,448.6 1313.9,443.1 1314.4,427.4 1315,423.5 1315.6,428.9 1316.2,448.4 1316.9,452.3 1317.4,443 1317.9,435.8 1318.5,431.6 1319,430.4 1319.6,419.2 1320.2,409.8 1320.8,407.3 1321.3,412.2 1321.9,417.6 1322.4,425.8 1323,424.9 1323.6,426 1324.2,425.7 1324.8,422.3 1325.4,422.3 1326,421.3 1326.5,419.4 1327.1,409.2 1327.7,408.5 1328.3,402.5 1328.9,388.7 1329.4,395 1330,387.7 1330.6,387.7 1331.2,389.9 1331.7,390.3 1332.3,390 1332.9,380.4 1333.5,378.5 1334,362.1 1334.5,350.2 1335.1,339.2 1335.7,338.7 1336.3,340.4 1336.9,332.3 1337.5,332.3 1338.1,335.6 1338.7,334.6 1339.2,339.2 1339.8,327.9 1340.3,311.5 1340.9,288.5 1341.5,288.5 1342.1,292.1 1342.7,288.5 1343.3,301 1343.9,288.5 1344.4,275.8 1344.9,256.2 1345.5,256.2 1346.1,245.5 1346.7,228.1 1347.3,223.9 1347.9,238.2 1348.6,253.7 1349.2,258.5 1349.6,251 1350.1,219.2 1350.8,212.1 1351.5,200.8 1352,204.4 1352.6,198.5 1353.1,198.5 1353.8,235.4 1354.3,206.1 1354.9,183.7 1355.4,168.5 1356,149.6 1356.6,136.2 1357.2,111 1357.8,128.1 1358.4,99.2 1358.9,115.3 1359.5,136 1360,154.6 1360.6,147.1 1361.1,126.2 1361.6,117.7 1362.2,120.6 1362.9,137.9 1363.5,154.6 1364.1,136 1364.7,112.6 1365.3,101.5 1365.9,101.5 1366.4,116.9 1366.9,117.7 1367.5,121.4 1368,150.3 1368.6,154.6 1369.2,168 1369.8,150 1370.4,150 1371,161.8 1371.6,160.9 1372.1,154.3 1372.7,166.2 1373.3,166.2 1373.9,166.2 1374.4,177.9 1375,170.8 1375.6,175.1 1376.2,176.7 1376.7,196.3 1377.3,200.8 1377.9,201.8 1378.5,205.7 1379.1,207.2 1379.6,215.8 1380.2,215.8 1380.8,233.1 1381.4,253 1381.9,260.8 1382.5,260.8 1383.1,260.8 1383.7,260.8 1384.2,267.7 1384.8,276.5 1385.4,276 1386,293 1386.6,283.9 1387.1,291.1 1387.7,300.6 1388.3,299.7 1388.9,311.6 1389.4,312 1390,323.5 1390.6,334.5 1391.2,336.9 1391.7,338 1392.3,342.2 1392.9,340.2 1393.5,354.3 1394.1,344.1 1394.6,343.9 1395.2,350.4 1395.8,366.9 1396.4,366.9 1396.9,381.9 1397.5,391.2 1398.1,392.3 1398.7,398.8 1399.2,390 1399.8,398.3 1400.4,407 1401,418.4 1401.6,413.1 1402.1,413.1 1402.7,419.2 1403.3,424.4 1403.9,429.3 1404.4,437.2 1405,447.7 1405.6,447.8 1406.2,446.6 1406.7,448.4 1407.3,446.3 1407.9,446.5 1408.5,445.4 1409.1,444.3 1409.6,445.1 1410.2,446.1 1410.8,444.3 1411.4,451.5 1411.9,451.2 1412.5,453.5 1413.1,454.6 1413.7,456 1414.2,454.6 1414.8,454.6 1415.4,457 1416,454.6 1416.6,457 1417.1,462 1417.7,460.2 1418.3,462.3 1418.9,464.9 1419.4,467 1420,470.8 1420.6,473.2 1421.2,470.8 1421.7,477.2 1422.3,473.1 1422.9,467.8 1423.5,465.7 1424.1,460.5 1424.6,457 1425.2,458.2 1425.8,465.4 1426.4,470.2 1426.9,470.8 1427.5,466.9 1428.1,466.8 1428.7,467.1 1429.2,463.9 1429.8,464.4 1430.4,464.2 1431,467.3 1431.6,465 1432.1,469.8 1432.7,468.5 1433.3,466.6 1433.9,466.9 1434.4,467.7 1435,466.2 1435.6,469.6 1436.2,466.2 1436.7,466.2 1437.3,462.9 1437.9,458 1438.5,459.5 1439.1,454.8 1439.6,454.6 1440.2,450.5 1440.8,445.4 1441.4,459.2 1441.9,463.9 1442.5,462 1443.1,462.9 1443.7,464.4 1444.2,459.3 1444.8,459.3 1445.4,461.2 1446,459.3 1446.6,459.3 1447.1,460.3 1447.7,459.8 1448.3,459.3 1448.9,460.8 1449.4,463.9 1450,461.8 1450.6,459.3 1451.2,459.3 1451.8,464.9 1452.3,465.7 1452.9,463.8 1453.5,467.3 1454.1,462.1 1454.6,468.2 1455.2,465.8 1455.8,468.5 1456.4,471.5 1456.9,468.5 1457.5,472.7 1458.1,468.5 1458.7,469.1 1459.3,468.5 1459.8,469.9 1460.4,468.5 1461,467.3 1461.6,467 1462.1,471.7 1462.7,466.2 1463.3,468.7 1463.9,474.4 1464.4,472.2 1465,475.4 1465.6,475.4 1466.2,476.5 1466.8,478.7 1467.3,479.2 1467.9,475.8 1468.5,478.4 1469.1,480.2 1469.6,477.7 1470.2,477.7 1470.8,481.8 1471.4,481.1 1471.9,478.4 1472.5,480.7 1473.1,480.3 1473.7,478.9 1474.3,480 1474.8,480.7 1475.4,481.4 1476,480 1476.6,482.4 1477.1,482.7 1477.7,482.3 1478.3,482.9 1478.9,483.5 1479.4,483.9 1480,483.1 1480.6,482.3 1481.2,482.7 1481.8,484.3 1482.3,483.9 1482.9,483.5 1483.5,482.5 1484.1,482.3 1484.6,485 1485.2,483 1485.8,482.3 1486.4,483.6 1486.9,483 1487.5,483.9 1488.1,483.5 1488.7,483.5 1489.3,485 1489.8,484.7 1490.4,485" fill="none" stroke="#ff0000" stroke-width="2.2" stroke-linejoin="round"/>
<rect x="1194.9" y="32" width="453.6" height="453.5" fill="none" stroke="#1e1e1e" stroke-width="1.9"/>
<path d="M1183.7 485.5H1194.9 M1187.3 439.6H1194.9 M1187.3 393.8H1194.9 M1187.3 347.9H1194.9 M1187.3 302.1H1194.9 M1183.7 256.2H1194.9 M1187.3 210.3H1194.9 M1187.3 164.5H1194.9 M1187.3 118.6H1194.9 M1187.3 72.8H1194.9 M1194.9 485.5V497 M1204.4 485.5V493.3 M1219.6 485.5V493.3 M1236.7 485.5V497 M1254.1 485.5V493.3 M1269.5 485.5V493.3 M1282.4 485.5V493.3 M1293.1 485.5V493.3 M1302.2 485.5V493.3 M1309.7 485.5V493.3 M1316.7 485.5V493.3 M1322.9 485.5V493.3 M1327.8 485.5V493.3 M1332.7 485.5V497 M1365.4 485.5V493.3 M1384.5 485.5V493.3 M1398.1 485.5V493.3 M1408.6 485.5V493.3 M1417.2 485.5V493.3 M1424.5 485.5V493.3 M1430.8 485.5V493.3 M1436.3 485.5V493.3 M1441.3 485.5V497 M1474 485.5V493.3 M1493.1 485.5V493.3 M1506.7 485.5V493.3 M1517.2 485.5V493.3 M1525.8 485.5V493.3 M1533.1 485.5V493.3 M1539.4 485.5V493.3 M1544.9 485.5V493.3 M1549.9 485.5V497 M1582.6 485.5V493.3 M1601.7 485.5V493.3 M1615.3 485.5V493.3 M1625.8 485.5V493.3 M1634.4 485.5V493.3 M1641.7 485.5V493.3 M1648.5 485.5V497" stroke="#1e1e1e" stroke-width="1.7" fill="none"/>
<text x="1173.9" y="485.5" transform="rotate(-90 1173.9 485.5)" text-anchor="middle" class="t">0</text>
<text x="1173.9" y="256.2" transform="rotate(-90 1173.9 256.2)" text-anchor="middle" class="t">200</text>
<text x="1143.4" y="258.1" transform="rotate(-90 1143.4 258.1)" text-anchor="middle" class="t">Count</text>
<text x="1236.9" y="523.5" text-anchor="middle" class="t">0</text>
<text x="1330.3" y="523.5" text-anchor="middle" class="t">10</text>
<text x="1348.1" y="515.1" text-anchor="middle" class="s">3</text>
<text x="1438.9" y="523.5" text-anchor="middle" class="t">10</text>
<text x="1456.7" y="515.1" text-anchor="middle" class="s">4</text>
<text x="1547.5" y="523.5" text-anchor="middle" class="t">10</text>
<text x="1565.3" y="515.1" text-anchor="middle" class="s">5</text>
<text x="1422.3" y="553" text-anchor="middle" class="t">FITC-A</text>
<path d="M1412 105.8H1617.3 M1412 94.5V117.1 M1617.3 94.5V117.1" stroke="#ff0000" stroke-width="2" fill="none"/>
<text x="1409.3" y="77.2" class="t r">P2(13.86%)</text>
<!-- panel 4 -->
<clipPath id="c4"><polygon points="73.9,1047.7 73.9,1047 74.5,1047.2 75.1,1046.6 75.7,1046.6 76.3,1047 76.9,1046.6 77.5,1046.9 78.1,1046.8 78.7,1047.1 79.3,1047.3 79.9,1046.6 80.5,1047.7 81.1,1047.5 81.7,1046.6 82.3,1047.6 82.9,1047.6 83.5,1047.3 84.1,1046.6 84.7,1047.2 85.3,1046.6 85.9,1046.6 86.5,1046.6 87.1,1046.6 87.7,1047.2 88.3,1047 88.9,1046.6 89.5,1046.7 90.1,1046.6 90.7,1046.8 91.3,1047 91.9,1046.6 92.5,1046.6 93.1,1046.6 93.7,1046.8 94.3,1046.7 94.9,1046.6 95.5,1046.6 96.1,1047 96.7,1046.6 97.3,1046.7 97.9,1046.6 98.5,1046.6 99.1,1047.1 99.7,1046.6 100.3,1046.6 100.9,1046.6 101.5,1046.6 102.1,1046.6 102.7,1046.6 103.3,1046.6 103.9,1046.9 104.5,1046.6 105.1,1046.6 105.7,1046.6 106.3,1046.6 106.9,1046.6 107.5,1046.7 108.1,1047.1 108.7,1046.6 109.3,1046.6 109.9,1046.6 110.5,1046.6 111.1,1046.6 111.7,1046.6 112.3,1047.3 112.9,1046.6 113.5,1046.6 114.1,1046.4 114.7,1046.9 115.3,1046.4 115.9,1046.7 116.5,1046.5 117.1,1046.4 117.7,1046.3 118.3,1045.4 118.9,1046 119.5,1047.7 120.1,1046 120.7,1046 121.3,1045.7 121.9,1045.4 122.5,1047 123.1,1045.4 123.7,1046.2 124.3,1046.6 124.8,1045.7 125.4,1046 126,1046.6 126.6,1045.4 127.2,1046 127.8,1045.4 128.4,1045.9 129,1047.1 129.6,1045.7 130.2,1045.4 130.8,1045.4 131.4,1045.4 132,1045.4 132.6,1046.3 133.2,1046.4 133.8,1045.3 134.5,1044.5 135.1,1045.4 135.7,1044.4 136.3,1045.2 136.9,1046.4 137.5,1045.8 138.1,1044.2 138.8,1044.2 139.4,1045.4 140,1045.3 140.6,1044.2 141.2,1044.2 141.8,1043.4 142.4,1045.6 143,1044 143.5,1045.1 144.1,1043.3 144.7,1044.3 145.3,1041.9 145.8,1041.9 146.4,1042.4 147,1043.2 147.6,1044 148.1,1041.9 148.7,1044.8 149.3,1042.3 149.9,1043.9 150.4,1041.9 151,1043.6 151.6,1045.4 152.2,1045.2 152.8,1046.9 153.3,1044.2 153.9,1044.3 154.5,1044.8 155.1,1044.2 155.6,1044 156.2,1043.2 156.8,1041.6 157.4,1039.6 157.9,1041.5 158.5,1039.6 159.1,1037 159.6,1035 160.1,1030.4 160.8,1034.4 161.4,1036.7 162,1041.9 162.6,1043.1 163.1,1042.2 163.7,1044.2 164.3,1042.6 164.9,1042.9 165.4,1041.9 166,1042.3 166.6,1044.3 167.2,1042.5 167.8,1044 168.3,1043.5 168.9,1044.2 169.5,1043.9 170.1,1044.3 170.6,1038.7 171.2,1038.8 171.8,1036.9 172.4,1036.2 172.9,1036.1 173.5,1035 174.1,1038.8 174.7,1035 175.3,1035 175.8,1035 176.4,1035.3 177,1035.5 177.6,1036.7 178.1,1037.5 178.7,1035.7 179.3,1037.3 179.9,1034.6 180.4,1029.3 181,1018.9 181.6,1018.9 182.2,1020 182.8,1027.7 183.3,1026.1 183.9,1025.8 184.5,1031.9 185.1,1032.7 185.6,1030.6 186.2,1030.7 186.8,1028.7 187.4,1028.7 187.9,1030.8 188.5,1028.1 189.1,1028.4 189.7,1028.1 190.3,1030.8 190.8,1031.6 191.4,1033.2 192,1029.2 192.6,1026.8 193.1,1025.8 193.7,1025.8 194.3,1025.8 194.9,1026.8 195.4,1025.6 196,1021.4 196.6,1023.6 197.2,1019.8 197.7,1018.9 198.3,1014.5 198.9,1018.6 199.5,1013.9 200.1,1010 200.7,1008.5 201.3,1016.3 201.8,1014.2 202.4,1021.2 202.9,1021.9 203.5,1024.5 204.1,1011.9 204.7,1011.9 205.2,1009.4 205.8,1009.8 206.4,1011.4 207,1002.7 207.6,996.7 208.1,998.9 208.7,993.2 209.3,992.3 209.9,992.3 210.4,993.2 211,998.6 211.6,1002.7 212.1,995.1 212.7,988.9 213.2,988.9 213.8,988.6 214.4,983.5 215.1,977.3 215.7,980.5 216.3,988.6 216.9,991.2 217.5,988.7 218,976.1 218.6,978.8 219.1,964.3 219.7,958.9 220.2,955.8 220.8,954.3 221.4,954.3 222,954.3 222.6,946.2 223.1,945.2 223.7,942.9 224.3,942.7 224.9,943.3 225.4,938.1 226,939.2 226.6,938.1 227.2,940.8 227.8,926.4 228.4,917.3 229,922.9 229.5,926.3 230.1,935.8 230.6,914 231.2,905.8 231.8,905.1 232.4,887.3 232.9,887 233.5,878.1 234.1,868.5 234.7,851.9 235.2,856 235.8,841.2 236.4,830.2 237.1,827.4 237.7,827.4 238.2,819.7 238.7,790.6 239.3,790.4 239.9,800.7 240.5,793.4 241.1,799.7 241.7,789.4 242.2,790.6 242.7,769.7 243.4,750.3 244,764 244.6,748.9 245.1,746.6 245.7,716.4 246.2,698.1 246.7,707.4 247.3,703.4 247.8,712 248.4,722.1 249,727.8 249.7,737.4 250.3,715.9 250.9,701.2 251.5,693.5 252,693.5 252.6,721 253.1,732.8 253.7,695.4 254.3,691.2 254.8,701.7 255.4,711.8 255.9,702.8 256.5,689.1 257.1,672.3 257.7,665.8 258.3,669.3 258.8,666.2 259.4,679.7 260,690.4 260.6,684.3 261.2,688.9 261.8,693.7 262.4,722.2 263,737.4 263.6,702 264.1,704.3 264.7,686.6 265.2,686.6 265.7,686.6 266.3,698.1 267,703.8 267.7,707.4 268.2,707.4 268.7,710.5 269.3,709.7 269.8,719.1 270.4,717.6 270.9,721.2 271.6,747.4 272.3,755.8 272.8,773.4 273.4,779.9 273.9,781.2 274.5,781.2 275,795.1 275.6,798.4 276.2,826.4 276.8,819.2 277.4,836.6 277.9,844.6 278.5,851.8 279.1,863.4 279.7,859.7 280.2,859.7 280.8,866.1 281.3,867.7 281.9,877.5 282.4,878.1 283,886.7 283.7,907.1 284.3,912.7 284.9,912.7 285.4,916.5 286,921.1 286.6,922 287.2,926.8 287.7,937.1 288.3,947.1 288.9,952 289.5,952 290,957 290.6,952.5 291.2,961.2 291.8,971.2 292.4,968 293,972.7 293.6,979.2 294.1,972.7 294.7,981.9 295.2,984.8 295.8,984.2 296.4,978.7 297,977.3 297.5,977.3 298.1,980.8 298.7,977.3 299.3,986.6 299.8,993.3 300.4,995.7 301,1002.7 301.6,1007.3 302.2,998.8 302.8,999.3 303.4,996.1 304,991.3 304.6,991.2 305.1,1003.6 305.7,1009.6 306.2,1016.6 306.8,1014.3 307.3,1021.4 307.9,1014.3 308.5,1017.5 309.1,1014.3 309.7,1014.3 310.2,1016.3 310.8,1009.9 311.4,1013.5 312,1007.8 312.5,1012.5 313.1,1007.3 313.7,1007.3 314.3,1012 314.8,1009.8 315.4,1007.9 316,1011.9 316.6,1011.9 317.2,1012.7 317.7,1011.3 318.3,1004.7 318.9,1002.3 319.5,1004.5 320,1002.8 320.6,1001.1 321.2,995.8 321.8,995.8 322.3,1003.8 322.9,1006.2 323.5,1010.5 324.1,1004.9 324.7,1014.3 325.2,1010.8 325.8,1018.3 326.4,1017 327,1009.9 327.5,1011.7 328.1,1007.3 328.7,1008.2 329.3,1006.4 329.8,1009.9 330.4,1014.5 331,1003.7 331.6,1002.7 332.2,1002.7 332.7,1006.1 333.3,1003.1 333.9,1011.3 334.5,1004.7 335,1003.9 335.6,1008.9 336.2,1004.2 336.8,1003.9 337.3,1003.9 337.9,1008.2 338.5,1006.1 339.1,1003.9 339.7,1007.3 340.2,1007.3 340.8,1007.3 341.4,1016.2 342,1007.8 342.5,1010.2 343.1,1013.5 343.7,1016.8 344.3,1014.3 344.8,1014.3 345.4,1019.7 346,1014.3 346.6,1014.8 347.1,1018.7 347.7,1018.9 348.3,1004.7 348.9,995.8 349.5,1011.1 350,1021.2 350.6,1025.2 351.2,1021.2 351.8,1021.2 352.3,1021.2 352.9,1023.4 353.5,1023.5 354.1,1025.9 354.6,1023.5 355.2,1026.9 355.8,1027.6 356.4,1023.5 357,1028.3 357.5,1026.7 358.1,1028.1 358.7,1028.1 359.3,1028.1 359.8,1028.1 360.4,1028.1 361,1028.1 361.6,1031 362.1,1029.4 362.7,1028.1 363.3,1032.4 363.9,1032.4 364.5,1031.4 365,1031.6 365.6,1031.8 366.2,1034.5 366.8,1032.4 367.3,1037.3 367.9,1037.3 368.5,1038.5 369.1,1037.3 369.6,1037.3 370.2,1039.2 370.8,1039 371.4,1039.7 372,1039.6 372.5,1040 373.1,1041.1 373.7,1040.7 374.3,1039.6 374.8,1042.7 375.4,1044.4 376,1043.4 376.6,1044.2 377.1,1045.4 377.7,1045.3 378.3,1045.9 378.9,1045.4 379.5,1047.2 380,1046.1 380.6,1046.5 381.2,1047 381.2,1047.7"/></clipPath>
<g clip-path="url(#c4)">
<rect x="73.1" y="594.7" width="216.3" height="453.5" fill="#ff8080"/>
<rect x="289.4" y="594.7" width="237.3" height="453.5" fill="#ff4040"/>
<line x1="289.4" y1="594.7" x2="289.4" y2="1048.2" stroke="#ff1010" stroke-width="1.6"/>
</g>
<polyline points="73.9,1047 74.5,1047.2 75.1,1046.6 75.7,1046.6 76.3,1047 76.9,1046.6 77.5,1046.9 78.1,1046.8 78.7,1047.1 79.3,1047.3 79.9,1046.6 80.5,1047.7 81.1,1047.5 81.7,1046.6 82.3,1047.6 82.9,1047.6 83.5,1047.3 84.1,1046.6 84.7,1047.2 85.3,1046.6 85.9,1046.6 86.5,1046.6 87.1,1046.6 87.7,1047.2 88.3,1047 88.9,1046.6 89.5,1046.7 90.1,1046.6 90.7,1046.8 91.3,1047 91.9,1046.6 92.5,1046.6 93.1,1046.6 93.7,1046.8 94.3,1046.7 94.9,1046.6 95.5,1046.6 96.1,1047 96.7,1046.6 97.3,1046.7 97.9,1046.6 98.5,1046.6 99.1,1047.1 99.7,1046.6 100.3,1046.6 100.9,1046.6 101.5,1046.6 102.1,1046.6 102.7,1046.6 103.3,1046.6 103.9,1046.9 104.5,1046.6 105.1,1046.6 105.7,1046.6 106.3,1046.6 106.9,1046.6 107.5,1046.7 108.1,1047.1 108.7,1046.6 109.3,1046.6 109.9,1046.6 110.5,1046.6 111.1,1046.6 111.7,1046.6 112.3,1047.3 112.9,1046.6 113.5,1046.6 114.1,1046.4 114.7,1046.9 115.3,1046.4 115.9,1046.7 116.5,1046.5 117.1,1046.4 117.7,1046.3 118.3,1045.4 118.9,1046 119.5,1047.7 120.1,1046 120.7,1046 121.3,1045.7 121.9,1045.4 122.5,1047 123.1,1045.4 123.7,1046.2 124.3,1046.6 124.8,1045.7 125.4,1046 126,1046.6 126.6,1045.4 127.2,1046 127.8,1045.4 128.4,1045.9 129,1047.1 129.6,1045.7 130.2,1045.4 130.8,1045.4 131.4,1045.4 132,1045.4 132.6,1046.3 133.2,1046.4 133.8,1045.3 134.5,1044.5 135.1,1045.4 135.7,1044.4 136.3,1045.2 136.9,1046.4 137.5,1045.8 138.1,1044.2 138.8,1044.2 139.4,1045.4 140,1045.3 140.6,1044.2 141.2,1044.2 141.8,1043.4 142.4,1045.6 143,1044 143.5,1045.1 144.1,1043.3 144.7,1044.3 145.3,1041.9 145.8,1041.9 146.4,1042.4 147,1043.2 147.6,1044 148.1,1041.9 148.7,1044.8 149.3,1042.3 149.9,1043.9 150.4,1041.9 151,1043.6 151.6,1045.4 152.2,1045.2 152.8,1046.9 153.3,1044.2 153.9,1044.3 154.5,1044.8 155.1,1044.2 155.6,1044 156.2,1043.2 156.8,1041.6 157.4,1039.6 157.9,1041.5 158.5,1039.6 159.1,1037 159.6,1035 160.1,1030.4 160.8,1034.4 161.4,1036.7 162,1041.9 162.6,1043.1 163.1,1042.2 163.7,1044.2 164.3,1042.6 164.9,1042.9 165.4,1041.9 166,1042.3 166.6,1044.3 167.2,1042.5 167.8,1044 168.3,1043.5 168.9,1044.2 169.5,1043.9 170.1,1044.3 170.6,1038.7 171.2,1038.8 171.8,1036.9 172.4,1036.2 172.9,1036.1 173.5,1035 174.1,1038.8 174.7,1035 175.3,1035 175.8,1035 176.4,1035.3 177,1035.5 177.6,1036.7 178.1,1037.5 178.7,1035.7 179.3,1037.3 179.9,1034.6 180.4,1029.3 181,1018.9 181.6,1018.9 182.2,1020 182.8,1027.7 183.3,1026.1 183.9,1025.8 184.5,1031.9 185.1,1032.7 185.6,1030.6 186.2,1030.7 186.8,1028.7 187.4,1028.7 187.9,1030.8 188.5,1028.1 189.1,1028.4 189.7,1028.1 190.3,1030.8 190.8,1031.6 191.4,1033.2 192,1029.2 192.6,1026.8 193.1,1025.8 193.7,1025.8 194.3,1025.8 194.9,1026.8 195.4,1025.6 196,1021.4 196.6,1023.6 197.2,1019.8 197.7,1018.9 198.3,1014.5 198.9,1018.6 199.5,1013.9 200.1,1010 200.7,1008.5 201.3,1016.3 201.8,1014.2 202.4,1021.2 202.9,1021.9 203.5,1024.5 204.1,1011.9 204.7,1011.9 205.2,1009.4 205.8,1009.8 206.4,1011.4 207,1002.7 207.6,996.7 208.1,998.9 208.7,993.2 209.3,992.3 209.9,992.3 210.4,993.2 211,998.6 211.6,1002.7 212.1,995.1 212.7,988.9 213.2,988.9 213.8,988.6 214.4,983.5 215.1,977.3 215.7,980.5 216.3,988.6 216.9,991.2 217.5,988.7 218,976.1 218.6,978.8 219.1,964.3 219.7,958.9 220.2,955.8 220.8,954.3 221.4,954.3 222,954.3 222.6,946.2 223.1,945.2 223.7,942.9 224.3,942.7 224.9,943.3 225.4,938.1 226,939.2 226.6,938.1 227.2,940.8 227.8,926.4 228.4,917.3 229,922.9 229.5,926.3 230.1,935.8 230.6,914 231.2,905.8 231.8,905.1 232.4,887.3 232.9,887 233.5,878.1 234.1,868.5 234.7,851.9 235.2,856 235.8,841.2 236.4,830.2 237.1,827.4 237.7,827.4 238.2,819.7 238.7,790.6 239.3,790.4 239.9,800.7 240.5,793.4 241.1,799.7 241.7,789.4 242.2,790.6 242.7,769.7 243.4,750.3 244,764 244.6,748.9 245.1,746.6 245.7,716.4 246.2,698.1 246.7,707.4 247.3,703.4 247.8,712 248.4,722.1 249,727.8 249.7,737.4 250.3,715.9 250.9,701.2 251.5,693.5 252,693.5 252.6,721 253.1,732.8 253.7,695.4 254.3,691.2 254.8,701.7 255.4,711.8 255.9,702.8 256.5,689.1 257.1,672.3 257.7,665.8 258.3,669.3 258.8,666.2 259.4,679.7 260,690.4 260.6,684.3 261.2,688.9 261.8,693.7 262.4,722.2 263,737.4 263.6,702 264.1,704.3 264.7,686.6 265.2,686.6 265.7,686.6 266.3,698.1 267,703.8 267.7,707.4 268.2,707.4 268.7,710.5 269.3,709.7 269.8,719.1 270.4,717.6 270.9,721.2 271.6,747.4 272.3,755.8 272.8,773.4 273.4,779.9 273.9,781.2 274.5,781.2 275,795.1 275.6,798.4 276.2,826.4 276.8,819.2 277.4,836.6 277.9,844.6 278.5,851.8 279.1,863.4 279.7,859.7 280.2,859.7 280.8,866.1 281.3,867.7 281.9,877.5 282.4,878.1 283,886.7 283.7,907.1 284.3,912.7 284.9,912.7 285.4,916.5 286,921.1 286.6,922 287.2,926.8 287.7,937.1 288.3,947.1 288.9,952 289.5,952 290,957 290.6,952.5 291.2,961.2 291.8,971.2 292.4,968 293,972.7 293.6,979.2 294.1,972.7 294.7,981.9 295.2,984.8 295.8,984.2 296.4,978.7 297,977.3 297.5,977.3 298.1,980.8 298.7,977.3 299.3,986.6 299.8,993.3 300.4,995.7 301,1002.7 301.6,1007.3 302.2,998.8 302.8,999.3 303.4,996.1 304,991.3 304.6,991.2 305.1,1003.6 305.7,1009.6 306.2,1016.6 306.8,1014.3 307.3,1021.4 307.9,1014.3 308.5,1017.5 309.1,1014.3 309.7,1014.3 310.2,1016.3 310.8,1009.9 311.4,1013.5 312,1007.8 312.5,1012.5 313.1,1007.3 313.7,1007.3 314.3,1012 314.8,1009.8 315.4,1007.9 316,1011.9 316.6,1011.9 317.2,1012.7 317.7,1011.3 318.3,1004.7 318.9,1002.3 319.5,1004.5 320,1002.8 320.6,1001.1 321.2,995.8 321.8,995.8 322.3,1003.8 322.9,1006.2 323.5,1010.5 324.1,1004.9 324.7,1014.3 325.2,1010.8 325.8,1018.3 326.4,1017 327,1009.9 327.5,1011.7 328.1,1007.3 328.7,1008.2 329.3,1006.4 329.8,1009.9 330.4,1014.5 331,1003.7 331.6,1002.7 332.2,1002.7 332.7,1006.1 333.3,1003.1 333.9,1011.3 334.5,1004.7 335,1003.9 335.6,1008.9 336.2,1004.2 336.8,1003.9 337.3,1003.9 337.9,1008.2 338.5,1006.1 339.1,1003.9 339.7,1007.3 340.2,1007.3 340.8,1007.3 341.4,1016.2 342,1007.8 342.5,1010.2 343.1,1013.5 343.7,1016.8 344.3,1014.3 344.8,1014.3 345.4,1019.7 346,1014.3 346.6,1014.8 347.1,1018.7 347.7,1018.9 348.3,1004.7 348.9,995.8 349.5,1011.1 350,1021.2 350.6,1025.2 351.2,1021.2 351.8,1021.2 352.3,1021.2 352.9,1023.4 353.5,1023.5 354.1,1025.9 354.6,1023.5 355.2,1026.9 355.8,1027.6 356.4,1023.5 357,1028.3 357.5,1026.7 358.1,1028.1 358.7,1028.1 359.3,1028.1 359.8,1028.1 360.4,1028.1 361,1028.1 361.6,1031 362.1,1029.4 362.7,1028.1 363.3,1032.4 363.9,1032.4 364.5,1031.4 365,1031.6 365.6,1031.8 366.2,1034.5 366.8,1032.4 367.3,1037.3 367.9,1037.3 368.5,1038.5 369.1,1037.3 369.6,1037.3 370.2,1039.2 370.8,1039 371.4,1039.7 372,1039.6 372.5,1040 373.1,1041.1 373.7,1040.7 374.3,1039.6 374.8,1042.7 375.4,1044.4 376,1043.4 376.6,1044.2 377.1,1045.4 377.7,1045.3 378.3,1045.9 378.9,1045.4 379.5,1047.2 380,1046.1 380.6,1046.5 381.2,1047" fill="none" stroke="#ff0000" stroke-width="2.2" stroke-linejoin="round"/>
<rect x="73.1" y="594.7" width="453.6" height="453.5" fill="none" stroke="#1e1e1e" stroke-width="1.9"/>
<path d="M61.9 1048.2H73.1 M65.5 1024.4H73.1 M65.5 1000.7H73.1 M65.5 976.9H73.1 M65.5 953.1H73.1 M61.9 929.4H73.1 M65.5 905.6H73.1 M65.5 881.8H73.1 M65.5 858.1H73.1 M65.5 834.3H73.1 M61.9 810.5H73.1 M65.5 786.8H73.1 M65.5 763H73.1 M65.5 739.2H73.1 M65.5 715.5H73.1 M61.9 691.7H73.1 M65.5 667.9H73.1 M65.5 644.2H73.1 M65.5 620.4H73.1 M65.5 596.6H73.1 M73.1 1048.2V1059.7 M82.6 1048.2V1056 M97.8 1048.2V1056 M114.9 1048.2V1059.7 M132.3 1048.2V1056 M147.7 1048.2V1056 M160.6 1048.2V1056 M171.3 1048.2V1056 M180.4 1048.2V1056 M187.9 1048.2V1056 M194.9 1048.2V1056 M201.1 1048.2V1056 M206 1048.2V1056 M210.9 1048.2V1059.7 M243.6 1048.2V1056 M262.7 1048.2V1056 M276.3 1048.2V1056 M286.8 1048.2V1056 M295.4 1048.2V1056 M302.7 1048.2V1056 M309 1048.2V1056 M314.5 1048.2V1056 M319.5 1048.2V1059.7 M352.2 1048.2V1056 M371.3 1048.2V1056 M384.9 1048.2V1056 M395.4 1048.2V1056 M404 1048.2V1056 M411.3 1048.2V1056 M417.6 1048.2V1056 M423.1 1048.2V1056 M428.1 1048.2V1059.7 M460.8 1048.2V1056 M479.9 1048.2V1056 M493.5 1048.2V1056 M504 1048.2V1056 M512.6 1048.2V1056 M519.9 1048.2V1056 M526.7 1048.2V1059.7" stroke="#1e1e1e" stroke-width="1.7" fill="none"/>
<text x="52.1" y="1048.2" transform="rotate(-90 52.1 1048.2)" text-anchor="middle" class="t">0</text>
<text x="52.1" y="929.4" transform="rotate(-90 52.1 929.4)" text-anchor="middle" class="t">100</text>
<text x="52.1" y="810.5" transform="rotate(-90 52.1 810.5)" text-anchor="middle" class="t">200</text>
<text x="52.1" y="691.7" transform="rotate(-90 52.1 691.7)" text-anchor="middle" class="t">300</text>
<text x="21.6" y="820.9" transform="rotate(-90 21.6 820.9)" text-anchor="middle" class="t">Count</text>
<text x="115.1" y="1086.2" text-anchor="middle" class="t">0</text>
<text x="208.5" y="1086.2" text-anchor="middle" class="t">10</text>
<text x="226.3" y="1077.8" text-anchor="middle" class="s">3</text>
<text x="317.1" y="1086.2" text-anchor="middle" class="t">10</text>
<text x="334.9" y="1077.8" text-anchor="middle" class="s">4</text>
<text x="425.7" y="1086.2" text-anchor="middle" class="t">10</text>
<text x="443.5" y="1077.8" text-anchor="middle" class="s">5</text>
<text x="300.5" y="1115.7" text-anchor="middle" class="t">FITC-A</text>
<path d="M289.9 668.9H495.3 M289.9 657.6V680.2 M495.3 657.6V680.2" stroke="#ff0000" stroke-width="2" fill="none"/>
<text x="288.7" y="641.1" class="t r">P2(14.63%)</text>
<!-- panel 5 -->
<clipPath id="c5"><polygon points="634.8,1047.7 634.8,1047 635.4,1046.6 636,1046.6 636.6,1046.7 637.2,1047.5 637.8,1046.6 638.4,1046.7 639,1046.7 639.6,1046.8 640.2,1046.6 640.8,1047.5 641.4,1047.7 642,1047.1 642.6,1047.3 643.2,1047.4 643.8,1046.6 644.4,1046.6 645,1047.6 645.7,1046.7 646.3,1046.6 646.9,1046.6 647.5,1047.3 648.1,1047.7 648.7,1047.4 649.3,1046.6 649.9,1046.6 650.5,1046.6 651.1,1046.6 651.7,1047.3 652.3,1046.6 652.9,1047.3 653.5,1047.1 654.1,1047.2 654.7,1047.1 655.3,1047 655.9,1047 656.5,1047.4 657.1,1047.1 657.7,1047.7 658.3,1047 658.9,1046.9 659.5,1047.1 660.1,1046.7 660.7,1046.8 661.3,1046.7 661.9,1046.9 662.5,1046.6 663.1,1047 663.7,1046.6 664.3,1047 664.9,1047.2 665.5,1046.6 666.2,1046.6 666.8,1047.2 667.4,1046.9 668,1047.1 668.6,1047.2 669.2,1046.9 669.8,1047.6 670.4,1046.6 671,1046.7 671.6,1047.4 672.2,1046.6 672.8,1046.6 673.4,1046.6 674,1047.2 674.6,1046.8 675.2,1047.1 675.8,1047.1 676.4,1046.9 677,1046.7 677.6,1047.7 678.2,1047 678.8,1046.8 679.4,1046.7 680,1046.6 680.6,1047.4 681.2,1046.6 681.8,1046.7 682.4,1046.6 683,1047.3 683.6,1046.6 684.2,1046.6 684.8,1047 685.4,1046.7 686,1047 686.7,1047.2 687.3,1046.8 687.9,1046.6 688.5,1047.1 689.1,1046.6 689.7,1046.6 690.3,1046.6 690.9,1046.6 691.5,1046.6 692.1,1046.6 692.7,1046.6 693.3,1046.9 693.9,1046.6 694.5,1046.6 695.1,1047 695.7,1046.6 696.3,1046.6 696.9,1046.4 697.5,1046.3 698.1,1046.1 698.7,1047.1 699.3,1046.4 699.9,1046.5 700.5,1045.9 701.1,1047.2 701.7,1046.3 702.3,1046.1 702.8,1045.4 703.4,1045.8 704,1045.4 704.6,1045.8 705.2,1046.4 705.8,1045.7 706.4,1046.5 707,1045.7 707.6,1046 708.2,1046.1 708.8,1045.4 709.4,1045.4 710,1047 710.6,1045.7 711.2,1045.7 711.8,1045.4 712.4,1045.4 713,1045.4 713.6,1045.4 714.2,1046.1 714.8,1045.4 715.3,1045.7 715.9,1044 716.5,1045.3 717.1,1046 717.6,1044.5 718.2,1044.6 718.8,1043.6 719.4,1044.5 719.9,1043.1 720.5,1043.1 721.1,1043.1 721.7,1043.1 722.3,1043.1 722.8,1043.3 723.4,1043.1 724,1044.1 724.6,1043.1 725.1,1044 725.7,1044.6 726.3,1044.2 726.9,1043.1 727.4,1043.1 728,1043.4 728.6,1044.7 729.2,1043.8 729.8,1045 730.3,1044.7 730.9,1043.7 731.5,1045.3 732.1,1043.1 732.6,1043.8 733.2,1043.1 733.8,1041.4 734.4,1041.9 734.9,1041.3 735.5,1040.5 736.1,1042.5 736.7,1041 737.3,1040.6 737.8,1039.6 738.4,1039 739,1039.7 739.6,1039.3 740.1,1037.5 740.7,1038.9 741.3,1040.3 741.9,1039.7 742.4,1037.3 743,1037.3 743.6,1040.3 744.2,1042.6 744.8,1041.9 745.3,1040.3 745.9,1039 746.5,1037.8 747.1,1035 747.6,1032.7 748.2,1032.7 748.8,1028.9 749.4,1028.1 749.9,1028.3 750.5,1029.9 751.1,1029.8 751.7,1036.2 752.3,1036 752.8,1034.4 753.4,1033.7 754,1032.7 754.6,1032.7 755.1,1035.9 755.7,1032.7 756.3,1034.9 756.9,1033.1 757.4,1035 758,1034.4 758.6,1030.6 759.2,1030.4 759.7,1030.4 760.3,1028.1 760.9,1029.8 761.5,1030.4 762.1,1028.3 762.6,1028.1 763.2,1028.1 763.8,1029.2 764.4,1024.3 764.9,1023.5 765.5,1026.4 766.1,1028.5 766.7,1023.5 767.2,1018.4 767.8,1011.9 768.4,1008.6 769,1007.3 769.5,1010.4 770.1,1018.3 770.6,1021.2 771.2,1022.1 771.8,1022.2 772.4,1019.7 773,1020.6 773.6,1018.9 774.2,1019.2 774.7,1014.3 775.3,1016.6 775.9,1014.3 776.5,1015 777.1,1014.3 777.6,1014.3 778.2,1016.6 778.8,1005 779.4,995.8 779.9,994.9 780.5,988.9 781.1,990.2 781.7,988.9 782.2,990.1 782.8,979.6 783.4,982.3 784,979.6 784.6,975.2 785.1,975.5 785.7,975.6 786.3,975 786.9,966.5 787.4,952 788,946.9 788.5,948.8 789.1,940.4 789.7,960 790.4,970.4 791,949.4 791.5,939.7 792.1,917.3 792.6,920.6 793.2,913.5 793.8,906.6 794.4,905.8 794.9,897.2 795.5,898.7 796.1,896.6 796.7,896.6 797.2,889.5 797.7,887.3 798.3,887.3 799,869.4 799.7,848.1 800.1,831.7 800.6,818.1 801.3,826.5 802,827.4 802.5,810.3 803.1,801.2 803.6,799.7 804.1,791.3 804.7,797.5 805.2,781.2 805.9,771.9 806.6,755.8 807.2,754.6 807.7,779.3 808.3,751.2 808.9,751.2 809.4,739.7 810,739.7 810.5,739.7 811,719.7 811.6,710 812.1,698.1 812.8,690.5 813.5,682 814,697 814.4,718.9 815,721.4 815.7,688.4 816.3,686.6 816.8,704.1 817.4,700.8 817.9,705.1 818.5,698.4 819.1,679.9 819.7,675.1 820.3,670.5 820.8,670.5 821.4,670.5 822,670.5 822.6,670.5 823.2,675.1 823.8,672.8 824.4,679.7 824.9,679.5 825.5,672.8 826.1,672.8 826.7,679.4 827.4,677.4 827.8,698.6 828.3,709.7 829,740.4 829.7,758.1 830.2,745.3 830.7,725.8 831.3,698.1 831.8,723.6 832.4,729.4 832.9,728.1 833.6,743.8 834.3,748.9 834.8,754.8 835.4,773.7 835.9,767.4 836.5,767.4 837,776.6 837.7,786.8 838.3,797 838.9,804.3 839.4,812.5 840,832.2 840.5,841.2 841.1,841.2 841.7,841.2 842.2,841.5 842.8,850.4 843.4,865.7 843.9,869.5 844.4,882.7 845,882.7 845.7,893.8 846.3,901.2 846.9,901.2 847.4,903.3 848,915.1 848.6,919.7 849.2,934 849.8,925.9 850.4,935.8 851,935.8 851.5,935.8 852,942.7 852.6,946.3 853.2,956.2 853.8,958.1 854.4,975 854.9,977.5 855.5,979.9 856.1,987.5 856.7,984.3 857.2,987.7 857.8,989.3 858.4,996.7 859,991.8 859.5,993.4 860.1,998.1 860.7,1006.3 861.3,1003.5 861.8,1006.1 862.4,1005.5 863,1009.3 863.6,1011.9 864.2,1011.9 864.7,1015.3 865.3,1017.4 865.9,1023.5 866.5,1020.7 867,1016.6 867.6,1018.1 868.2,1016.6 868.8,1017.1 869.3,1009.6 869.9,1014.4 870.5,1009.6 871.1,1012.9 871.7,1009.6 872.2,1012.4 872.8,1017.2 873.4,1009.9 874,1018.9 874.5,1018.9 875.1,1019.5 875.7,1018.9 876.3,1019.2 876.8,1018.9 877.4,1018.9 878,1018.9 878.6,1018.9 879.2,1026.4 879.7,1021.2 880.3,1022.5 880.9,1011.2 881.5,1009.4 882,1011.1 882.6,1007.5 883.2,1002.7 883.8,1005.9 884.3,1002 884.9,1003.3 885.5,998.1 886.1,998.1 886.7,998.1 887.2,998.1 887.8,999.3 888.4,1005 889,1002.7 889.5,1003.3 890.1,1002.7 890.7,1006.2 891.3,1011.5 891.8,1010.7 892.4,1016.6 893,1014.6 893.6,1011.9 894.2,1013.2 894.7,1012.1 895.3,1011.9 895.9,1011.9 896.5,1009.6 897,1011.4 897.6,1010.6 898.2,1009.6 898.8,1011.9 899.3,1009.6 899.9,1013 900.5,1009.6 901.1,1009.6 901.7,1009.6 902.2,1015.1 902.8,1011.9 903.4,1007.2 904,1008.2 904.5,1001.8 905.1,1000.4 905.7,1006.6 906.3,1007.1 906.8,1013 907.4,1021.2 908,1020 908.6,1017.3 909.1,1015.9 909.7,1013 910.3,1014.3 910.9,1011.9 911.5,1010 912,1005 912.6,1007.9 913.2,1012.6 913.8,1011 914.3,1005 914.9,1012.3 915.5,1012.1 916.1,1017.8 916.6,1021.2 917.2,1021.2 917.8,1028.7 918.4,1025.4 919,1030.6 919.5,1031.7 920.1,1032.7 920.7,1033.5 921.3,1037 921.8,1038.7 922.4,1039 923,1041.8 923.6,1041.9 924.1,1039.5 924.7,1038.5 925.3,1039.1 925.9,1035 926.5,1039.3 927,1038.8 927.6,1035.3 928.2,1036.1 928.8,1035.6 929.3,1035 929.9,1035.9 930.5,1037.3 931.1,1037.3 931.6,1037.3 932.2,1037.3 932.8,1041.4 933.4,1041.8 934,1041.9 934.5,1042.8 935.1,1041.9 935.7,1042.3 936.3,1044.4 936.8,1044.4 937.4,1044.6 938,1044.6 938.6,1045.4 939.1,1045.5 939.7,1045.9 940.3,1045.4 940.9,1046.7 941.5,1046.1 942,1046.4 942.6,1046.2 943.2,1047 943.2,1047.7"/></clipPath>
<g clip-path="url(#c5)">
<rect x="634" y="594.7" width="216.9" height="453.5" fill="#ff8080"/>
<rect x="850.9" y="594.7" width="236.7" height="453.5" fill="#ff4040"/>
<line x1="850.9" y1="594.7" x2="850.9" y2="1048.2" stroke="#ff1010" stroke-width="1.6"/>
</g>
<polyline points="634.8,1047 635.4,1046.6 636,1046.6 636.6,1046.7 637.2,1047.5 637.8,1046.6 638.4,1046.7 639,1046.7 639.6,1046.8 640.2,1046.6 640.8,1047.5 641.4,1047.7 642,1047.1 642.6,1047.3 643.2,1047.4 643.8,1046.6 644.4,1046.6 645,1047.6 645.7,1046.7 646.3,1046.6 646.9,1046.6 647.5,1047.3 648.1,1047.7 648.7,1047.4 649.3,1046.6 649.9,1046.6 650.5,1046.6 651.1,1046.6 651.7,1047.3 652.3,1046.6 652.9,1047.3 653.5,1047.1 654.1,1047.2 654.7,1047.1 655.3,1047 655.9,1047 656.5,1047.4 657.1,1047.1 657.7,1047.7 658.3,1047 658.9,1046.9 659.5,1047.1 660.1,1046.7 660.7,1046.8 661.3,1046.7 661.9,1046.9 662.5,1046.6 663.1,1047 663.7,1046.6 664.3,1047 664.9,1047.2 665.5,1046.6 666.2,1046.6 666.8,1047.2 667.4,1046.9 668,1047.1 668.6,1047.2 669.2,1046.9 669.8,1047.6 670.4,1046.6 671,1046.7 671.6,1047.4 672.2,1046.6 672.8,1046.6 673.4,1046.6 674,1047.2 674.6,1046.8 675.2,1047.1 675.8,1047.1 676.4,1046.9 677,1046.7 677.6,1047.7 678.2,1047 678.8,1046.8 679.4,1046.7 680,1046.6 680.6,1047.4 681.2,1046.6 681.8,1046.7 682.4,1046.6 683,1047.3 683.6,1046.6 684.2,1046.6 684.8,1047 685.4,1046.7 686,1047 686.7,1047.2 687.3,1046.8 687.9,1046.6 688.5,1047.1 689.1,1046.6 689.7,1046.6 690.3,1046.6 690.9,1046.6 691.5,1046.6 692.1,1046.6 692.7,1046.6 693.3,1046.9 693.9,1046.6 694.5,1046.6 695.1,1047 695.7,1046.6 696.3,1046.6 696.9,1046.4 697.5,1046.3 698.1,1046.1 698.7,1047.1 699.3,1046.4 699.9,1046.5 700.5,1045.9 701.1,1047.2 701.7,1046.3 702.3,1046.1 702.8,1045.4 703.4,1045.8 704,1045.4 704.6,1045.8 705.2,1046.4 705.8,1045.7 706.4,1046.5 707,1045.7 707.6,1046 708.2,1046.1 708.8,1045.4 709.4,1045.4 710,1047 710.6,1045.7 711.2,1045.7 711.8,1045.4 712.4,1045.4 713,1045.4 713.6,1045.4 714.2,1046.1 714.8,1045.4 715.3,1045.7 715.9,1044 716.5,1045.3 717.1,1046 717.6,1044.5 718.2,1044.6 718.8,1043.6 719.4,1044.5 719.9,1043.1 720.5,1043.1 721.1,1043.1 721.7,1043.1 722.3,1043.1 722.8,1043.3 723.4,1043.1 724,1044.1 724.6,1043.1 725.1,1044 725.7,1044.6 726.3,1044.2 726.9,1043.1 727.4,1043.1 728,1043.4 728.6,1044.7 729.2,1043.8 729.8,1045 730.3,1044.7 730.9,1043.7 731.5,1045.3 732.1,1043.1 732.6,1043.8 733.2,1043.1 733.8,1041.4 734.4,1041.9 734.9,1041.3 735.5,1040.5 736.1,1042.5 736.7,1041 737.3,1040.6 737.8,1039.6 738.4,1039 739,1039.7 739.6,1039.3 740.1,1037.5 740.7,1038.9 741.3,1040.3 741.9,1039.7 742.4,1037.3 743,1037.3 743.6,1040.3 744.2,1042.6 744.8,1041.9 745.3,1040.3 745.9,1039 746.5,1037.8 747.1,1035 747.6,1032.7 748.2,1032.7 748.8,1028.9 749.4,1028.1 749.9,1028.3 750.5,1029.9 751.1,1029.8 751.7,1036.2 752.3,1036 752.8,1034.4 753.4,1033.7 754,1032.7 754.6,1032.7 755.1,1035.9 755.7,1032.7 756.3,1034.9 756.9,1033.1 757.4,1035 758,1034.4 758.6,1030.6 759.2,1030.4 759.7,1030.4 760.3,1028.1 760.9,1029.8 761.5,1030.4 762.1,1028.3 762.6,1028.1 763.2,1028.1 763.8,1029.2 764.4,1024.3 764.9,1023.5 765.5,1026.4 766.1,1028.5 766.7,1023.5 767.2,1018.4 767.8,1011.9 768.4,1008.6 769,1007.3 769.5,1010.4 770.1,1018.3 770.6,1021.2 771.2,1022.1 771.8,1022.2 772.4,1019.7 773,1020.6 773.6,1018.9 774.2,1019.2 774.7,1014.3 775.3,1016.6 775.9,1014.3 776.5,1015 777.1,1014.3 777.6,1014.3 778.2,1016.6 778.8,1005 779.4,995.8 779.9,994.9 780.5,988.9 781.1,990.2 781.7,988.9 782.2,990.1 782.8,979.6 783.4,982.3 784,979.6 784.6,975.2 785.1,975.5 785.7,975.6 786.3,975 786.9,966.5 787.4,952 788,946.9 788.5,948.8 789.1,940.4 789.7,960 790.4,970.4 791,949.4 791.5,939.7 792.1,917.3 792.6,920.6 793.2,913.5 793.8,906.6 794.4,905.8 794.9,897.2 795.5,898.7 796.1,896.6 796.7,896.6 797.2,889.5 797.7,887.3 798.3,887.3 799,869.4 799.7,848.1 800.1,831.7 800.6,818.1 801.3,826.5 802,827.4 802.5,810.3 803.1,801.2 803.6,799.7 804.1,791.3 804.7,797.5 805.2,781.2 805.9,771.9 806.6,755.8 807.2,754.6 807.7,779.3 808.3,751.2 808.9,751.2 809.4,739.7 810,739.7 810.5,739.7 811,719.7 811.6,710 812.1,698.1 812.8,690.5 813.5,682 814,697 814.4,718.9 815,721.4 815.7,688.4 816.3,686.6 816.8,704.1 817.4,700.8 817.9,705.1 818.5,698.4 819.1,679.9 819.7,675.1 820.3,670.5 820.8,670.5 821.4,670.5 822,670.5 822.6,670.5 823.2,675.1 823.8,672.8 824.4,679.7 824.9,679.5 825.5,672.8 826.1,672.8 826.7,679.4 827.4,677.4 827.8,698.6 828.3,709.7 829,740.4 829.7,758.1 830.2,745.3 830.7,725.8 831.3,698.1 831.8,723.6 832.4,729.4 832.9,728.1 833.6,743.8 834.3,748.9 834.8,754.8 835.4,773.7 835.9,767.4 836.5,767.4 837,776.6 837.7,786.8 838.3,797 838.9,804.3 839.4,812.5 840,832.2 840.5,841.2 841.1,841.2 841.7,841.2 842.2,841.5 842.8,850.4 843.4,865.7 843.9,869.5 844.4,882.7 845,882.7 845.7,893.8 846.3,901.2 846.9,901.2 847.4,903.3 848,915.1 848.6,919.7 849.2,934 849.8,925.9 850.4,935.8 851,935.8 851.5,935.8 852,942.7 852.6,946.3 853.2,956.2 853.8,958.1 854.4,975 854.9,977.5 855.5,979.9 856.1,987.5 856.7,984.3 857.2,987.7 857.8,989.3 858.4,996.7 859,991.8 859.5,993.4 860.1,998.1 860.7,1006.3 861.3,1003.5 861.8,1006.1 862.4,1005.5 863,1009.3 863.6,1011.9 864.2,1011.9 864.7,1015.3 865.3,1017.4 865.9,1023.5 866.5,1020.7 867,1016.6 867.6,1018.1 868.2,1016.6 868.8,1017.1 869.3,1009.6 869.9,1014.4 870.5,1009.6 871.1,1012.9 871.7,1009.6 872.2,1012.4 872.8,1017.2 873.4,1009.9 874,1018.9 874.5,1018.9 875.1,1019.5 875.7,1018.9 876.3,1019.2 876.8,1018.9 877.4,1018.9 878,1018.9 878.6,1018.9 879.2,1026.4 879.7,1021.2 880.3,1022.5 880.9,1011.2 881.5,1009.4 882,1011.1 882.6,1007.5 883.2,1002.7 883.8,1005.9 884.3,1002 884.9,1003.3 885.5,998.1 886.1,998.1 886.7,998.1 887.2,998.1 887.8,999.3 888.4,1005 889,1002.7 889.5,1003.3 890.1,1002.7 890.7,1006.2 891.3,1011.5 891.8,1010.7 892.4,1016.6 893,1014.6 893.6,1011.9 894.2,1013.2 894.7,1012.1 895.3,1011.9 895.9,1011.9 896.5,1009.6 897,1011.4 897.6,1010.6 898.2,1009.6 898.8,1011.9 899.3,1009.6 899.9,1013 900.5,1009.6 901.1,1009.6 901.7,1009.6 902.2,1015.1 902.8,1011.9 903.4,1007.2 904,1008.2 904.5,1001.8 905.1,1000.4 905.7,1006.6 906.3,1007.1 906.8,1013 907.4,1021.2 908,1020 908.6,1017.3 909.1,1015.9 909.7,1013 910.3,1014.3 910.9,1011.9 911.5,1010 912,1005 912.6,1007.9 913.2,1012.6 913.8,1011 914.3,1005 914.9,1012.3 915.5,1012.1 916.1,1017.8 916.6,1021.2 917.2,1021.2 917.8,1028.7 918.4,1025.4 919,1030.6 919.5,1031.7 920.1,1032.7 920.7,1033.5 921.3,1037 921.8,1038.7 922.4,1039 923,1041.8 923.6,1041.9 924.1,1039.5 924.7,1038.5 925.3,1039.1 925.9,1035 926.5,1039.3 927,1038.8 927.6,1035.3 928.2,1036.1 928.8,1035.6 929.3,1035 929.9,1035.9 930.5,1037.3 931.1,1037.3 931.6,1037.3 932.2,1037.3 932.8,1041.4 933.4,1041.8 934,1041.9 934.5,1042.8 935.1,1041.9 935.7,1042.3 936.3,1044.4 936.8,1044.4 937.4,1044.6 938,1044.6 938.6,1045.4 939.1,1045.5 939.7,1045.9 940.3,1045.4 940.9,1046.7 941.5,1046.1 942,1046.4 942.6,1046.2 943.2,1047" fill="none" stroke="#ff0000" stroke-width="2.2" stroke-linejoin="round"/>
<rect x="634" y="594.7" width="453.6" height="453.5" fill="none" stroke="#1e1e1e" stroke-width="1.9"/>
<path d="M622.8 1048.2H634 M626.4 1003H634 M626.4 957.9H634 M626.4 912.7H634 M626.4 867.6H634 M622.8 822.4H634 M626.4 777.2H634 M626.4 732.1H634 M626.4 686.9H634 M626.4 641.8H634 M622.8 596.6H634 M634 1048.2V1059.7 M643.5 1048.2V1056 M658.7 1048.2V1056 M675.8 1048.2V1059.7 M693.2 1048.2V1056 M708.6 1048.2V1056 M721.5 1048.2V1056 M732.2 1048.2V1056 M741.3 1048.2V1056 M748.8 1048.2V1056 M755.8 1048.2V1056 M762 1048.2V1056 M766.9 1048.2V1056 M771.8 1048.2V1059.7 M804.5 1048.2V1056 M823.6 1048.2V1056 M837.2 1048.2V1056 M847.7 1048.2V1056 M856.3 1048.2V1056 M863.6 1048.2V1056 M869.9 1048.2V1056 M875.4 1048.2V1056 M880.4 1048.2V1059.7 M913.1 1048.2V1056 M932.2 1048.2V1056 M945.8 1048.2V1056 M956.3 1048.2V1056 M964.9 1048.2V1056 M972.2 1048.2V1056 M978.5 1048.2V1056 M984 1048.2V1056 M989 1048.2V1059.7 M1021.7 1048.2V1056 M1040.8 1048.2V1056 M1054.4 1048.2V1056 M1064.9 1048.2V1056 M1073.5 1048.2V1056 M1080.8 1048.2V1056 M1087.6 1048.2V1059.7" stroke="#1e1e1e" stroke-width="1.7" fill="none"/>
<text x="613" y="1048.2" transform="rotate(-90 613 1048.2)" text-anchor="middle" class="t">0</text>
<text x="613" y="822.4" transform="rotate(-90 613 822.4)" text-anchor="middle" class="t">200</text>
<text x="613" y="596.6" transform="rotate(-90 613 596.6)" text-anchor="middle" class="t">400</text>
<text x="582.5" y="820.9" transform="rotate(-90 582.5 820.9)" text-anchor="middle" class="t">Count</text>
<text x="676" y="1086.2" text-anchor="middle" class="t">0</text>
<text x="769.4" y="1086.2" text-anchor="middle" class="t">10</text>
<text x="787.2" y="1077.8" text-anchor="middle" class="s">3</text>
<text x="878" y="1086.2" text-anchor="middle" class="t">10</text>
<text x="895.8" y="1077.8" text-anchor="middle" class="s">4</text>
<text x="986.6" y="1086.2" text-anchor="middle" class="t">10</text>
<text x="1004.4" y="1077.8" text-anchor="middle" class="s">5</text>
<text x="861.4" y="1115.7" text-anchor="middle" class="t">FITC-A</text>
<path d="M850.7 668.9H1056.1 M850.7 657.6V680.2 M1056.1 657.6V680.2" stroke="#ff0000" stroke-width="2" fill="none"/>
<text x="849.5" y="641.1" class="t r">P2(15.17%)</text>
<!-- panel 6 -->
<clipPath id="c6"><polygon points="1195.7,1046.4 1195.7,1045.4 1196.3,1045.6 1196.9,1045.1 1197.5,1045.3 1198.1,1045.7 1198.7,1044.9 1199.3,1045.5 1199.9,1044.9 1200.5,1046.4 1201.1,1044.9 1201.7,1045.7 1202.3,1045 1202.9,1044.6 1203.5,1045.5 1204.1,1044.3 1204.7,1045.7 1205.3,1045.9 1205.9,1044.8 1206.5,1044.2 1207.1,1044.7 1207.7,1045.7 1208.3,1044.5 1208.9,1044.6 1209.5,1044.7 1210.1,1044.9 1210.7,1044.2 1211.4,1044.6 1212,1044.6 1212.6,1044.2 1213.2,1045.5 1213.8,1044.9 1214.4,1044.2 1215,1044.2 1215.6,1044.8 1216.2,1044.7 1216.8,1044.2 1217.4,1044.2 1218,1045 1218.6,1044.2 1219.2,1044.3 1219.8,1044.2 1220.4,1044.2 1221,1043.1 1221.5,1041.9 1222.1,1045 1222.7,1044.7 1223.3,1045.4 1223.9,1044.5 1224.5,1044.3 1225.1,1045.3 1225.7,1044.7 1226.3,1044.2 1226.9,1044.3 1227.5,1044.8 1228.1,1044.5 1228.7,1044.2 1229.3,1044.2 1229.9,1044.6 1230.5,1045.8 1231.1,1044.2 1231.7,1044.2 1232.3,1044.6 1232.9,1045.3 1233.5,1044.6 1234.1,1044.2 1234.7,1045.2 1235.3,1044.2 1235.9,1044.4 1236.5,1044.2 1237.1,1043.7 1237.7,1040.8 1238.3,1040.8 1238.8,1040.8 1239.4,1041.5 1240,1042.4 1240.6,1042.4 1241.1,1044.2 1241.8,1043 1242.4,1044.2 1243,1045.2 1243.6,1043.2 1244.2,1042.7 1244.8,1044.4 1245.5,1042.8 1246.1,1044.9 1246.7,1041.9 1247.3,1041.9 1247.9,1041.9 1248.5,1042.9 1249.1,1042.5 1249.8,1041.9 1250.4,1041.9 1251,1042.5 1251.5,1041.9 1252.1,1044 1252.7,1044.1 1253.3,1042.6 1253.8,1042.2 1254.4,1043.7 1255,1043.1 1255.6,1041.2 1256.1,1041.1 1256.7,1041.8 1257.3,1043.6 1257.9,1042.3 1258.5,1041.4 1259,1041.4 1259.6,1042.2 1260.2,1040.8 1260.8,1043.3 1261.3,1041 1261.9,1040.8 1262.5,1042.4 1263.1,1040.8 1263.6,1042.2 1264.2,1043.1 1264.8,1041.3 1265.4,1041.1 1266,1042 1266.5,1041.9 1267.1,1042.6 1267.7,1042.6 1268.3,1042.1 1268.8,1040.8 1269.4,1040.8 1270,1039.6 1270.6,1039.6 1271.1,1041.2 1271.7,1040.3 1272.3,1040.4 1272.9,1041.5 1273.4,1039.6 1274,1037.4 1274.6,1037.4 1275.2,1038.4 1275.8,1038.7 1276.3,1036.2 1276.9,1036.2 1277.5,1035 1278.1,1037.7 1278.6,1035 1279.2,1035.5 1279.8,1038.6 1280.4,1035 1280.9,1035 1281.5,1035 1282.1,1036.1 1282.7,1037.2 1283.3,1037.1 1283.8,1037.3 1284.4,1036.9 1285,1032.7 1285.6,1037.5 1286.1,1033 1286.7,1035.9 1287.3,1032.7 1287.9,1032.7 1288.4,1035.2 1289,1034.2 1289.6,1032.7 1290.2,1032.7 1290.8,1033.9 1291.3,1032.7 1291.9,1032.7 1292.5,1032.7 1293.1,1032.7 1293.6,1034.2 1294.2,1032.7 1294.8,1031.7 1295.4,1032.7 1295.9,1035 1296.5,1030.4 1297.1,1030.4 1297.7,1030.4 1298.3,1028.4 1298.8,1026.9 1299.4,1022.7 1300,1018.9 1300.6,1030.4 1301.1,1030.4 1301.7,1027.2 1302.3,1025.3 1302.9,1021.2 1303.4,1021.2 1304,1019.5 1304.6,1017.8 1305.2,1012.6 1305.8,1009.6 1306.3,1011.1 1306.9,1016.9 1307.5,1009.6 1308.1,1014.7 1308.6,1013.5 1309.2,1014.3 1309.8,1016 1310.4,1021.4 1310.9,1019.2 1311.5,1025.4 1312.1,1031.4 1312.7,1032.7 1313.3,1019.2 1313.8,1005 1314.4,1001.2 1315,1007.1 1315.6,1005 1316.1,999.5 1316.7,998.1 1317.3,998.1 1317.9,992.5 1318.4,993.6 1319,991.2 1319.6,991.2 1320.2,992.4 1320.7,993.2 1321.3,992 1321.9,988.9 1322.5,991.5 1323.1,981.2 1323.6,982.9 1324.2,981.3 1324.8,970.4 1325.4,970.4 1325.9,972.8 1326.5,974.3 1327.1,966.1 1327.7,965.8 1328.2,964 1328.8,967.7 1329.4,963.6 1330,961.2 1330.6,954.9 1331.1,956.2 1331.7,947.3 1332.3,947.3 1332.9,939.9 1333.4,926.1 1334,920.8 1334.6,917.3 1335.1,912.7 1335.7,912.7 1336.2,912.7 1336.9,921.8 1337.6,949.6 1338.1,929.3 1338.7,900.7 1339.2,885 1339.8,881.6 1340.4,871.5 1341.1,871.2 1341.6,865.5 1342.1,841.2 1342.7,841.2 1343.2,840 1343.8,843.6 1344.4,831.6 1345,827.4 1345.6,856.4 1346.1,866.6 1346.7,834.1 1347.3,790.4 1347.9,801.5 1348.4,798.6 1349,799 1349.6,792.7 1350.2,799.8 1350.8,782.2 1351.4,767.4 1352,744.2 1352.5,744.2 1353.1,725.8 1353.6,725.8 1354.1,725.8 1354.7,739.7 1355.4,730.4 1356.1,730.4 1356.6,719 1357.1,699.8 1357.7,679.7 1358.2,704.9 1358.8,709.7 1359.4,734.6 1360,753.5 1360.6,724.6 1361.1,705.1 1361.7,678 1362.3,661.2 1362.8,676 1363.4,701 1363.9,728.1 1364.5,720.9 1365.1,722.4 1365.7,705.1 1366.3,717.1 1366.9,718 1367.5,711.8 1368.1,698.1 1368.6,693.5 1369.2,702.2 1369.8,693.5 1370.4,693.5 1370.9,684.3 1371.5,684.3 1372,684.3 1372.6,692.4 1373.1,695.8 1373.7,694.6 1374.3,682 1374.9,700.3 1375.4,682 1376.1,677.7 1376.8,665.8 1377.4,673.5 1377.9,721 1378.4,744.3 1379,739 1379.6,731.7 1380.2,711.7 1380.7,698.1 1381.3,693.5 1381.8,709.9 1382.4,693.5 1383,698.2 1383.6,702.7 1384.2,721.2 1384.8,745.7 1385.4,748.9 1385.9,763.9 1386.5,772 1387.1,774.7 1387.7,813.5 1388.2,803.8 1388.7,781.2 1389.3,781.2 1389.9,793.1 1390.5,799.6 1391.1,795.1 1391.7,795.1 1392.4,825.4 1393,820.4 1393.5,822.4 1394,832.6 1394.6,836.6 1395.2,851.1 1395.7,859.7 1396.3,860.7 1396.9,873.8 1397.5,867.8 1398,878.1 1398.6,889.6 1399.2,878.2 1399.8,895.7 1400.4,894.3 1400.9,900.1 1401.5,894.3 1402.1,899 1402.7,894.9 1403.2,898.7 1403.8,905.8 1404.4,915.7 1405,922.8 1405.5,924.6 1406.1,928.9 1406.7,937.4 1407.3,931.3 1407.9,943.2 1408.4,954.3 1409,963.1 1409.6,954.3 1410.2,954.3 1410.7,961.2 1411.3,961.3 1411.9,961.2 1412.5,965.2 1413.1,961.5 1413.7,963.5 1414.3,963.5 1414.8,973 1415.4,976.6 1416,973.9 1416.5,977.3 1417.1,981.1 1417.7,981.8 1418.2,986.3 1418.8,983.7 1419.4,993.5 1420,993.5 1420.5,1000.5 1421.1,1002.4 1421.7,1001.6 1422.3,1009.6 1422.8,1008.7 1423.4,998.1 1424,999.4 1424.6,988.9 1425.2,990.9 1425.7,1002.8 1426.3,1002.6 1426.9,1016.6 1427.5,1017.3 1428,1017.6 1428.6,1020.2 1429.2,1016.6 1429.8,1021.7 1430.3,1021.2 1430.9,1021.2 1431.5,1027.6 1432.1,1029.4 1432.7,1028.8 1433.2,1025.3 1433.8,1030.4 1434.4,1028.3 1435,1029.2 1435.5,1027.7 1436.1,1031.2 1436.7,1025.8 1437.3,1025.8 1437.8,1025.8 1438.4,1026.9 1439,1025.8 1439.6,1025.9 1440.2,1026.7 1440.7,1025.8 1441.3,1027.6 1441.9,1025.6 1442.5,1023.5 1443,1021.2 1443.6,1021.2 1444.2,1021.2 1444.8,1018.6 1445.3,1014.3 1445.9,1013.9 1446.5,1008.2 1447.1,1000.4 1447.7,1000.4 1448.2,1007 1448.8,1007.7 1449.4,1015.5 1450,1018.9 1450.5,1017.5 1451.1,1018.3 1451.7,1015.5 1452.3,1018.1 1452.8,1016.4 1453.4,1014.3 1454,1009.9 1454.6,1009.8 1455.2,1007.5 1455.7,1004.2 1456.3,1002.7 1456.9,1003 1457.5,998.1 1458,998.1 1458.6,1001.3 1459.2,1011.7 1459.8,1011.3 1460.3,1011.9 1460.9,1007.3 1461.5,1015.2 1462.1,1007.9 1462.7,1009.9 1463.2,1009.6 1463.8,1007.3 1464.4,1005.5 1465,1003.6 1465.5,994.7 1466.1,998 1466.7,990.3 1467.3,988.9 1467.8,988.9 1468.4,999.5 1468.9,1000 1469.5,1005.8 1470,1009.6 1470.6,1003.2 1471.2,1008.1 1471.8,1003.7 1472.4,1000.4 1473,1000.4 1473.6,1000.4 1474.2,1000.4 1474.8,1000.4 1475.3,1000.4 1475.9,1008.7 1476.5,1009 1477.1,1016.8 1477.6,1014.3 1478.2,1014.3 1478.8,1022.2 1479.4,1019.7 1480,1018.6 1480.5,1016.6 1481.1,1016.6 1481.7,1018.4 1482.3,1024.5 1482.8,1018.2 1483.4,1018.6 1484,1017.8 1484.6,1020.1 1485.1,1025.3 1485.7,1023.5 1486.3,1025.1 1486.9,1023.5 1487.5,1030 1488,1028.5 1488.6,1028 1489.2,1026.1 1489.8,1027 1490.3,1030.4 1490.9,1030.4 1491.5,1032.8 1492.1,1031.4 1492.6,1030.7 1493.2,1033.8 1493.8,1034.5 1494.4,1035.8 1495,1035 1495.5,1037.2 1496.1,1036.9 1496.7,1035.6 1497.3,1035 1497.8,1038.8 1498.4,1039.7 1499,1037.3 1499.6,1039.6 1500.1,1039.6 1500.7,1039.9 1501.3,1040.5 1501.9,1039.6 1502.5,1041.4 1503,1041.6 1503.6,1041.5 1504.2,1043.1 1504.8,1042.2 1505.3,1042.5 1505.9,1042.3 1506.5,1041.4 1507.1,1040 1507.6,1040.2 1508.2,1039.6 1508.8,1039.6 1509.4,1040 1510,1042.6 1510.5,1043.1 1511.1,1043.1 1511.7,1043.2 1512.3,1045.4 1512.3,1046.4"/></clipPath>
<g clip-path="url(#c6)">
<rect x="1194.9" y="593.4" width="200.4" height="453.5" fill="#ff8080"/>
<rect x="1395.3" y="593.4" width="253.2" height="453.5" fill="#ff4040"/>
<line x1="1395.3" y1="593.4" x2="1395.3" y2="1046.9" stroke="#ff1010" stroke-width="1.6"/>
</g>
<polyline points="1195.7,1045.4 1196.3,1045.6 1196.9,1045.1 1197.5,1045.3 1198.1,1045.7 1198.7,1044.9 1199.3,1045.5 1199.9,1044.9 1200.5,1046.4 1201.1,1044.9 1201.7,1045.7 1202.3,1045 1202.9,1044.6 1203.5,1045.5 1204.1,1044.3 1204.7,1045.7 1205.3,1045.9 1205.9,1044.8 1206.5,1044.2 1207.1,1044.7 1207.7,1045.7 1208.3,1044.5 1208.9,1044.6 1209.5,1044.7 1210.1,1044.9 1210.7,1044.2 1211.4,1044.6 1212,1044.6 1212.6,1044.2 1213.2,1045.5 1213.8,1044.9 1214.4,1044.2 1215,1044.2 1215.6,1044.8 1216.2,1044.7 1216.8,1044.2 1217.4,1044.2 1218,1045 1218.6,1044.2 1219.2,1044.3 1219.8,1044.2 1220.4,1044.2 1221,1043.1 1221.5,1041.9 1222.1,1045 1222.7,1044.7 1223.3,1045.4 1223.9,1044.5 1224.5,1044.3 1225.1,1045.3 1225.7,1044.7 1226.3,1044.2 1226.9,1044.3 1227.5,1044.8 1228.1,1044.5 1228.7,1044.2 1229.3,1044.2 1229.9,1044.6 1230.5,1045.8 1231.1,1044.2 1231.7,1044.2 1232.3,1044.6 1232.9,1045.3 1233.5,1044.6 1234.1,1044.2 1234.7,1045.2 1235.3,1044.2 1235.9,1044.4 1236.5,1044.2 1237.1,1043.7 1237.7,1040.8 1238.3,1040.8 1238.8,1040.8 1239.4,1041.5 1240,1042.4 1240.6,1042.4 1241.1,1044.2 1241.8,1043 1242.4,1044.2 1243,1045.2 1243.6,1043.2 1244.2,1042.7 1244.8,1044.4 1245.5,1042.8 1246.1,1044.9 1246.7,1041.9 1247.3,1041.9 1247.9,1041.9 1248.5,1042.9 1249.1,1042.5 1249.8,1041.9 1250.4,1041.9 1251,1042.5 1251.5,1041.9 1252.1,1044 1252.7,1044.1 1253.3,1042.6 1253.8,1042.2 1254.4,1043.7 1255,1043.1 1255.6,1041.2 1256.1,1041.1 1256.7,1041.8 1257.3,1043.6 1257.9,1042.3 1258.5,1041.4 1259,1041.4 1259.6,1042.2 1260.2,1040.8 1260.8,1043.3 1261.3,1041 1261.9,1040.8 1262.5,1042.4 1263.1,1040.8 1263.6,1042.2 1264.2,1043.1 1264.8,1041.3 1265.4,1041.1 1266,1042 1266.5,1041.9 1267.1,1042.6 1267.7,1042.6 1268.3,1042.1 1268.8,1040.8 1269.4,1040.8 1270,1039.6 1270.6,1039.6 1271.1,1041.2 1271.7,1040.3 1272.3,1040.4 1272.9,1041.5 1273.4,1039.6 1274,1037.4 1274.6,1037.4 1275.2,1038.4 1275.8,1038.7 1276.3,1036.2 1276.9,1036.2 1277.5,1035 1278.1,1037.7 1278.6,1035 1279.2,1035.5 1279.8,1038.6 1280.4,1035 1280.9,1035 1281.5,1035 1282.1,1036.1 1282.7,1037.2 1283.3,1037.1 1283.8,1037.3 1284.4,1036.9 1285,1032.7 1285.6,1037.5 1286.1,1033 1286.7,1035.9 1287.3,1032.7 1287.9,1032.7 1288.4,1035.2 1289,1034.2 1289.6,1032.7 1290.2,1032.7 1290.8,1033.9 1291.3,1032.7 1291.9,1032.7 1292.5,1032.7 1293.1,1032.7 1293.6,1034.2 1294.2,1032.7 1294.8,1031.7 1295.4,1032.7 1295.9,1035 1296.5,1030.4 1297.1,1030.4 1297.7,1030.4 1298.3,1028.4 1298.8,1026.9 1299.4,1022.7 1300,1018.9 1300.6,1030.4 1301.1,1030.4 1301.7,1027.2 1302.3,1025.3 1302.9,1021.2 1303.4,1021.2 1304,1019.5 1304.6,1017.8 1305.2,1012.6 1305.8,1009.6 1306.3,1011.1 1306.9,1016.9 1307.5,1009.6 1308.1,1014.7 1308.6,1013.5 1309.2,1014.3 1309.8,1016 1310.4,1021.4 1310.9,1019.2 1311.5,1025.4 1312.1,1031.4 1312.7,1032.7 1313.3,1019.2 1313.8,1005 1314.4,1001.2 1315,1007.1 1315.6,1005 1316.1,999.5 1316.7,998.1 1317.3,998.1 1317.9,992.5 1318.4,993.6 1319,991.2 1319.6,991.2 1320.2,992.4 1320.7,993.2 1321.3,992 1321.9,988.9 1322.5,991.5 1323.1,981.2 1323.6,982.9 1324.2,981.3 1324.8,970.4 1325.4,970.4 1325.9,972.8 1326.5,974.3 1327.1,966.1 1327.7,965.8 1328.2,964 1328.8,967.7 1329.4,963.6 1330,961.2 1330.6,954.9 1331.1,956.2 1331.7,947.3 1332.3,947.3 1332.9,939.9 1333.4,926.1 1334,920.8 1334.6,917.3 1335.1,912.7 1335.7,912.7 1336.2,912.7 1336.9,921.8 1337.6,949.6 1338.1,929.3 1338.7,900.7 1339.2,885 1339.8,881.6 1340.4,871.5 1341.1,871.2 1341.6,865.5 1342.1,841.2 1342.7,841.2 1343.2,840 1343.8,843.6 1344.4,831.6 1345,827.4 1345.6,856.4 1346.1,866.6 1346.7,834.1 1347.3,790.4 1347.9,801.5 1348.4,798.6 1349,799 1349.6,792.7 1350.2,799.8 1350.8,782.2 1351.4,767.4 1352,744.2 1352.5,744.2 1353.1,725.8 1353.6,725.8 1354.1,725.8 1354.7,739.7 1355.4,730.4 1356.1,730.4 1356.6,719 1357.1,699.8 1357.7,679.7 1358.2,704.9 1358.8,709.7 1359.4,734.6 1360,753.5 1360.6,724.6 1361.1,705.1 1361.7,678 1362.3,661.2 1362.8,676 1363.4,701 1363.9,728.1 1364.5,720.9 1365.1,722.4 1365.7,705.1 1366.3,717.1 1366.9,718 1367.5,711.8 1368.1,698.1 1368.6,693.5 1369.2,702.2 1369.8,693.5 1370.4,693.5 1370.9,684.3 1371.5,684.3 1372,684.3 1372.6,692.4 1373.1,695.8 1373.7,694.6 1374.3,682 1374.9,700.3 1375.4,682 1376.1,677.7 1376.8,665.8 1377.4,673.5 1377.9,721 1378.4,744.3 1379,739 1379.6,731.7 1380.2,711.7 1380.7,698.1 1381.3,693.5 1381.8,709.9 1382.4,693.5 1383,698.2 1383.6,702.7 1384.2,721.2 1384.8,745.7 1385.4,748.9 1385.9,763.9 1386.5,772 1387.1,774.7 1387.7,813.5 1388.2,803.8 1388.7,781.2 1389.3,781.2 1389.9,793.1 1390.5,799.6 1391.1,795.1 1391.7,795.1 1392.4,825.4 1393,820.4 1393.5,822.4 1394,832.6 1394.6,836.6 1395.2,851.1 1395.7,859.7 1396.3,860.7 1396.9,873.8 1397.5,867.8 1398,878.1 1398.6,889.6 1399.2,878.2 1399.8,895.7 1400.4,894.3 1400.9,900.1 1401.5,894.3 1402.1,899 1402.7,894.9 1403.2,898.7 1403.8,905.8 1404.4,915.7 1405,922.8 1405.5,924.6 1406.1,928.9 1406.7,937.4 1407.3,931.3 1407.9,943.2 1408.4,954.3 1409,963.1 1409.6,954.3 1410.2,954.3 1410.7,961.2 1411.3,961.3 1411.9,961.2 1412.5,965.2 1413.1,961.5 1413.7,963.5 1414.3,963.5 1414.8,973 1415.4,976.6 1416,973.9 1416.5,977.3 1417.1,981.1 1417.7,981.8 1418.2,986.3 1418.8,983.7 1419.4,993.5 1420,993.5 1420.5,1000.5 1421.1,1002.4 1421.7,1001.6 1422.3,1009.6 1422.8,1008.7 1423.4,998.1 1424,999.4 1424.6,988.9 1425.2,990.9 1425.7,1002.8 1426.3,1002.6 1426.9,1016.6 1427.5,1017.3 1428,1017.6 1428.6,1020.2 1429.2,1016.6 1429.8,1021.7 1430.3,1021.2 1430.9,1021.2 1431.5,1027.6 1432.1,1029.4 1432.7,1028.8 1433.2,1025.3 1433.8,1030.4 1434.4,1028.3 1435,1029.2 1435.5,1027.7 1436.1,1031.2 1436.7,1025.8 1437.3,1025.8 1437.8,1025.8 1438.4,1026.9 1439,1025.8 1439.6,1025.9 1440.2,1026.7 1440.7,1025.8 1441.3,1027.6 1441.9,1025.6 1442.5,1023.5 1443,1021.2 1443.6,1021.2 1444.2,1021.2 1444.8,1018.6 1445.3,1014.3 1445.9,1013.9 1446.5,1008.2 1447.1,1000.4 1447.7,1000.4 1448.2,1007 1448.8,1007.7 1449.4,1015.5 1450,1018.9 1450.5,1017.5 1451.1,1018.3 1451.7,1015.5 1452.3,1018.1 1452.8,1016.4 1453.4,1014.3 1454,1009.9 1454.6,1009.8 1455.2,1007.5 1455.7,1004.2 1456.3,1002.7 1456.9,1003 1457.5,998.1 1458,998.1 1458.6,1001.3 1459.2,1011.7 1459.8,1011.3 1460.3,1011.9 1460.9,1007.3 1461.5,1015.2 1462.1,1007.9 1462.7,1009.9 1463.2,1009.6 1463.8,1007.3 1464.4,1005.5 1465,1003.6 1465.5,994.7 1466.1,998 1466.7,990.3 1467.3,988.9 1467.8,988.9 1468.4,999.5 1468.9,1000 1469.5,1005.8 1470,1009.6 1470.6,1003.2 1471.2,1008.1 1471.8,1003.7 1472.4,1000.4 1473,1000.4 1473.6,1000.4 1474.2,1000.4 1474.8,1000.4 1475.3,1000.4 1475.9,1008.7 1476.5,1009 1477.1,1016.8 1477.6,1014.3 1478.2,1014.3 1478.8,1022.2 1479.4,1019.7 1480,1018.6 1480.5,1016.6 1481.1,1016.6 1481.7,1018.4 1482.3,1024.5 1482.8,1018.2 1483.4,1018.6 1484,1017.8 1484.6,1020.1 1485.1,1025.3 1485.7,1023.5 1486.3,1025.1 1486.9,1023.5 1487.5,1030 1488,1028.5 1488.6,1028 1489.2,1026.1 1489.8,1027 1490.3,1030.4 1490.9,1030.4 1491.5,1032.8 1492.1,1031.4 1492.6,1030.7 1493.2,1033.8 1493.8,1034.5 1494.4,1035.8 1495,1035 1495.5,1037.2 1496.1,1036.9 1496.7,1035.6 1497.3,1035 1497.8,1038.8 1498.4,1039.7 1499,1037.3 1499.6,1039.6 1500.1,1039.6 1500.7,1039.9 1501.3,1040.5 1501.9,1039.6 1502.5,1041.4 1503,1041.6 1503.6,1041.5 1504.2,1043.1 1504.8,1042.2 1505.3,1042.5 1505.9,1042.3 1506.5,1041.4 1507.1,1040 1507.6,1040.2 1508.2,1039.6 1508.8,1039.6 1509.4,1040 1510,1042.6 1510.5,1043.1 1511.1,1043.1 1511.7,1043.2 1512.3,1045.4" fill="none" stroke="#ff0000" stroke-width="2.2" stroke-linejoin="round"/>
<rect x="1194.9" y="593.4" width="453.6" height="453.5" fill="none" stroke="#1e1e1e" stroke-width="1.9"/>
<path d="M1183.7 1046.9H1194.9 M1187.3 1020.7H1194.9 M1187.3 994.5H1194.9 M1187.3 968.4H1194.9 M1187.3 942.2H1194.9 M1183.7 916H1194.9 M1187.3 889.8H1194.9 M1187.3 863.6H1194.9 M1187.3 837.5H1194.9 M1187.3 811.3H1194.9 M1183.7 785.1H1194.9 M1187.3 758.9H1194.9 M1187.3 732.7H1194.9 M1187.3 706.6H1194.9 M1187.3 680.4H1194.9 M1183.7 654.2H1194.9 M1187.3 628H1194.9 M1187.3 601.8H1194.9 M1194.9 1046.9V1058.4 M1204.4 1046.9V1054.7 M1219.6 1046.9V1054.7 M1236.7 1046.9V1058.4 M1254.1 1046.9V1054.7 M1269.5 1046.9V1054.7 M1282.4 1046.9V1054.7 M1293.1 1046.9V1054.7 M1302.2 1046.9V1054.7 M1309.7 1046.9V1054.7 M1316.7 1046.9V1054.7 M1322.9 1046.9V1054.7 M1327.8 1046.9V1054.7 M1332.7 1046.9V1058.4 M1365.4 1046.9V1054.7 M1384.5 1046.9V1054.7 M1398.1 1046.9V1054.7 M1408.6 1046.9V1054.7 M1417.2 1046.9V1054.7 M1424.5 1046.9V1054.7 M1430.8 1046.9V1054.7 M1436.3 1046.9V1054.7 M1441.3 1046.9V1058.4 M1474 1046.9V1054.7 M1493.1 1046.9V1054.7 M1506.7 1046.9V1054.7 M1517.2 1046.9V1054.7 M1525.8 1046.9V1054.7 M1533.1 1046.9V1054.7 M1539.4 1046.9V1054.7 M1544.9 1046.9V1054.7 M1549.9 1046.9V1058.4 M1582.6 1046.9V1054.7 M1601.7 1046.9V1054.7 M1615.3 1046.9V1054.7 M1625.8 1046.9V1054.7 M1634.4 1046.9V1054.7 M1641.7 1046.9V1054.7 M1648.5 1046.9V1058.4" stroke="#1e1e1e" stroke-width="1.7" fill="none"/>
<text x="1173.9" y="1046.9" transform="rotate(-90 1173.9 1046.9)" text-anchor="middle" class="t">0</text>
<text x="1173.9" y="916" transform="rotate(-90 1173.9 916)" text-anchor="middle" class="t">100</text>
<text x="1173.9" y="785.1" transform="rotate(-90 1173.9 785.1)" text-anchor="middle" class="t">200</text>
<text x="1173.9" y="654.2" transform="rotate(-90 1173.9 654.2)" text-anchor="middle" class="t">300</text>
<text x="1143.4" y="819.6" transform="rotate(-90 1143.4 819.6)" text-anchor="middle" class="t">Count</text>
<text x="1236.9" y="1084.9" text-anchor="middle" class="t">0</text>
<text x="1330.3" y="1084.9" text-anchor="middle" class="t">10</text>
<text x="1348.1" y="1076.5" text-anchor="middle" class="s">3</text>
<text x="1438.9" y="1084.9" text-anchor="middle" class="t">10</text>
<text x="1456.7" y="1076.5" text-anchor="middle" class="s">4</text>
<text x="1547.5" y="1084.9" text-anchor="middle" class="t">10</text>
<text x="1565.3" y="1076.5" text-anchor="middle" class="s">5</text>
<text x="1422.3" y="1114.4" text-anchor="middle" class="t">FITC-A</text>
<path d="M1412 667.5H1617.2 M1412 656.2V678.8 M1617.2 656.2V678.8" stroke="#ff0000" stroke-width="2" fill="none"/>
<text x="1410.8" y="639.7" class="t r">P2(42.03%)</text>
<!-- panel 7 -->
<clipPath id="c7"><polygon points="78.2,1608.9 78.2,1606.9 78.8,1608.3 79.4,1607.1 80,1606.7 80.6,1607.2 81.2,1607 81.8,1606.2 82.4,1606.8 83,1607.5 83.6,1606.4 84.2,1606 84.8,1606.8 85.4,1607.5 86,1606.4 86.6,1606 87.2,1606.9 87.8,1606 88.4,1606.9 89,1606 89.6,1606 90.2,1607.2 90.8,1608 91.4,1606.2 92,1608.2 92.6,1607.9 93.2,1606.9 93.8,1606.4 94.4,1606.4 95.1,1607 95.7,1607.6 96.3,1606.3 96.9,1606.3 97.5,1606.9 98.1,1607.1 98.7,1606.2 99.3,1606.9 99.9,1607.6 100.5,1606 101.1,1606 101.7,1606.4 102.3,1606.3 102.9,1606.7 103.5,1606.6 104.1,1607.1 104.7,1606 105.3,1607.1 105.9,1606.4 106.5,1606.6 107.1,1606.3 107.7,1606.2 108.3,1606.5 108.9,1606.6 109.5,1606 110.1,1606.7 110.7,1606.1 111.3,1606.7 111.9,1606 112.5,1606.6 113.1,1606.8 113.7,1606.9 114.3,1606 114.9,1606.8 115.5,1606.4 116.1,1606 116.7,1606.9 117.3,1606.1 117.9,1607.9 118.5,1606 119.1,1606.4 119.7,1604 120.3,1604.3 120.8,1603 121.4,1603.6 122,1603.6 122.6,1605.6 123.1,1606.5 123.8,1606 124.4,1606.1 125,1606.3 125.6,1607.1 126.2,1604.8 126.8,1605 127.4,1605.3 128.1,1606.2 128.7,1605.8 129.3,1604.5 129.9,1605.8 130.5,1604.3 131.1,1604.2 131.7,1605.5 132.4,1604.2 133,1604.6 133.6,1605.4 134.2,1604.2 134.8,1605.9 135.4,1604.2 136.1,1604.2 136.7,1605.6 137.3,1604.4 137.9,1604.6 138.5,1604.2 139.1,1604.9 139.7,1604.2 140.4,1605.1 141,1606.4 141.6,1604.2 142.2,1604.2 142.7,1603.2 143.3,1603.1 143.9,1602.4 144.5,1602.5 145.1,1601.9 145.6,1604 146.2,1602 146.8,1603.8 147.4,1602.6 147.9,1604.7 148.5,1604.2 149.1,1603.9 149.7,1603.1 150.2,1603.9 150.8,1603.3 151.4,1601.9 152,1603.3 152.5,1601.9 153.1,1601.9 153.7,1602.5 154.3,1602.6 154.9,1603 155.4,1600.7 156,1600.7 156.6,1600.8 157.2,1600.7 157.7,1601.2 158.3,1600.7 158.9,1602.5 159.5,1600.7 160,1600.7 160.6,1600.7 161.2,1600.8 161.8,1604.7 162.4,1601.9 162.9,1600.7 163.5,1601.3 164.1,1601.3 164.7,1601.9 165.2,1602.2 165.8,1604.2 166.4,1601.9 167,1601.9 167.5,1603.7 168.1,1602.3 168.7,1601.9 169.3,1603 169.8,1602.3 170.4,1601.4 171,1602.2 171.6,1601.4 172.2,1601.1 172.7,1601.3 173.3,1599.8 173.9,1599.5 174.5,1597.7 175,1597.7 175.6,1596.3 176.2,1592.9 176.8,1594 177.3,1590.3 177.9,1590.3 178.5,1593.7 179.1,1592.7 179.7,1592.6 180.3,1590.7 180.9,1593.1 181.5,1590.9 182.1,1593.2 182.7,1590.3 183.2,1591.8 183.8,1596.2 184.3,1595.6 184.9,1599.9 185.4,1604.2 186,1594.3 186.7,1580.8 187.3,1576.5 187.8,1576.5 188.4,1582.3 189,1583.2 189.6,1585.7 190.1,1585.4 190.7,1585.7 191.2,1585.1 191.8,1582.9 192.3,1578.8 192.9,1582 193.5,1582.3 194.1,1581.7 194.6,1583.4 195.2,1585.5 195.8,1587.6 196.4,1584.7 197,1590.3 197.5,1589.4 198.1,1588.4 198.7,1581.1 199.3,1581.1 199.9,1579.4 200.5,1573.3 201.1,1576.4 201.7,1568.1 202.3,1567.2 202.8,1570.9 203.3,1571 203.9,1581.1 204.5,1581 205,1579.1 205.6,1576.7 206.2,1571.9 206.8,1561.9 207.3,1570.4 207.9,1560.1 208.5,1558 209.1,1562.6 209.6,1561.2 210.2,1561.6 210.8,1564.9 211.4,1560 211.9,1558.6 212.5,1551.1 213.1,1551.1 213.7,1549.1 214.3,1550 214.8,1546.2 215.4,1544.2 216,1544.2 216.5,1544.2 217.1,1545.8 217.6,1544.2 218.2,1544.2 218.8,1537 219.4,1535.4 220,1528 220.6,1513.9 221.2,1500.4 221.7,1505.5 222.3,1517.8 222.8,1523.4 223.4,1522.5 224,1516.7 224.6,1511.9 225.2,1503.7 225.8,1505.9 226.4,1508.3 226.9,1502.7 227.5,1499.2 228.1,1497.8 228.7,1491.1 229.2,1491.1 229.8,1486.6 230.4,1494.5 231,1490.3 231.6,1481.9 232.1,1473.2 232.7,1456.5 233.3,1438.1 233.9,1438.1 234.5,1430.8 235.1,1425.3 235.7,1419.6 236.2,1419.6 236.8,1432.5 237.3,1433.5 237.9,1402.8 238.5,1385 239.1,1382.7 239.6,1390.7 240.2,1382.7 240.8,1382.7 241.4,1371.8 241.9,1371.2 242.5,1355.3 243.1,1334.3 243.7,1325.5 244.3,1318.1 244.9,1318.1 245.5,1315.8 246,1321.9 246.6,1315.8 247.1,1316.3 247.6,1320.1 248.2,1327.3 248.9,1295.3 249.5,1295 250.1,1295.1 250.6,1290.8 251.2,1281.2 251.7,1259.6 252.2,1261.6 252.8,1246.6 253.5,1262.6 254.2,1292.7 254.7,1284.4 255.2,1261.2 255.8,1255.8 256.4,1279.1 256.9,1267.4 257.5,1265.8 258.2,1258.1 258.8,1258.1 259.3,1242 259.9,1243.3 260.4,1242 261,1233.2 261.5,1241.7 262.1,1228.1 262.7,1228.1 263.2,1235.1 263.8,1228.1 264.3,1251.2 265,1251.2 265.7,1262.7 266.2,1281.7 266.8,1262.7 267.3,1269.7 267.8,1269.7 268.4,1281.7 268.9,1272 269.6,1276.1 270.3,1292.7 270.8,1322.8 271.2,1327.3 271.8,1319.5 272.5,1315.8 273.1,1315.8 273.7,1315.8 274.3,1317.8 274.9,1318.1 275.4,1285.2 275.8,1281.2 276.5,1285.1 277.2,1288.1 277.7,1309.7 278.2,1327.3 278.8,1337.5 279.5,1355 280,1362.9 280.5,1368.9 281.1,1370.2 281.7,1390.6 282.3,1385 282.9,1386.2 283.5,1401.4 284,1393.6 284.6,1401.2 285.2,1421.2 285.8,1419.6 286.3,1428.3 286.8,1438.2 287.4,1442.7 288.1,1455.3 288.8,1465.7 289.3,1461.1 289.8,1446.2 290.4,1445 290.9,1456.9 291.5,1460.6 292,1463.4 292.7,1475.8 293.4,1488.8 294,1494.7 294.5,1502 295.1,1493.6 295.7,1500.4 296.3,1503.6 296.8,1511.3 297.4,1521.5 298,1521.1 298.5,1528.3 299.1,1531.3 299.6,1539.6 300.2,1533 300.8,1540.3 301.4,1528 302,1528 302.6,1528 303.2,1531.8 303.7,1537.2 304.3,1534.1 304.8,1543.8 305.4,1546.5 306,1546.5 306.5,1551.6 307.1,1557.2 307.7,1558 308.3,1552.8 308.8,1551.3 309.4,1551.5 310,1546.5 310.6,1546.5 311.1,1562.7 311.7,1572.5 312.3,1574.2 312.9,1577.2 313.4,1584.1 314,1581.2 314.6,1581.1 315.2,1580.6 315.8,1576.8 316.3,1577.1 316.9,1571.9 317.5,1571.9 318.1,1575.8 318.6,1571.9 319.2,1576.5 319.8,1580.6 320.4,1579 320.9,1578.4 321.5,1578.8 322.1,1570.5 322.6,1570.7 323.2,1570.3 323.7,1558.9 324.3,1555.7 324.9,1574.1 325.5,1582.4 326.1,1594.9 326.7,1591.6 327.2,1584.2 327.8,1583.4 328.3,1575.1 328.9,1571.9 329.5,1560.8 330.1,1563.4 330.7,1556.2 331.3,1553 331.9,1548.8 332.5,1547.4 333.1,1546.5 333.6,1546.5 334.2,1546.5 334.8,1558.1 335.4,1546.5 335.9,1548.1 336.5,1546.6 337.1,1542.8 337.7,1537.4 338.2,1537.4 338.8,1535 339.4,1547 340,1535 340.6,1540 341.1,1522.7 341.7,1526.8 342.3,1531.1 342.9,1521.5 343.4,1521.1 344,1525.2 344.6,1518.8 345.2,1521 345.7,1524.4 346.3,1518.8 346.9,1518.8 347.5,1511.2 348,1519.1 348.6,1511.6 349.2,1505 349.8,1508.8 350.3,1510.6 350.9,1511.8 351.4,1521.6 352,1516.5 352.6,1516.3 353.2,1507.3 353.8,1507.3 354.4,1507.3 355,1507.4 355.5,1514.7 356.1,1518.8 356.7,1515.4 357.3,1517.3 357.9,1520.3 358.4,1511.9 359,1512.5 359.6,1509.6 360.2,1509.6 360.7,1509.6 361.3,1519.9 361.9,1525.3 362.5,1542.5 363,1544.2 363.6,1539.5 364.2,1544.9 364.8,1531.2 365.4,1529.4 365.9,1531.3 366.5,1521.1 367.1,1525.9 367.7,1539.9 368.2,1538.5 368.8,1548.8 369.4,1548.8 370,1556.3 370.5,1563.4 371.1,1548.8 371.7,1551.4 372.3,1551.1 372.8,1554.6 373.4,1558.2 374,1560.3 374.6,1558 375.2,1558.5 375.7,1562.6 376.3,1562.6 376.9,1567.5 377.5,1573.2 378,1573 378.6,1575.1 379.2,1576.5 379.8,1576.5 380.3,1576.5 380.9,1576.9 381.5,1577.3 382.1,1576.5 382.7,1576.5 383.2,1576.5 383.8,1580.6 384.4,1578.9 385,1587.9 385.5,1585.6 386.1,1585.7 386.7,1588.1 387.3,1586.6 387.8,1585.7 388.4,1587.4 389,1589 389.6,1586 390.1,1591.8 390.7,1590.3 391.3,1590.3 391.9,1592.1 392.5,1592.7 393,1595 393.6,1595.6 394.2,1599.5 394.8,1600.4 395.3,1600.2 395.9,1602.2 396.5,1604.4 397.1,1602 397.6,1603 398.2,1603 398.8,1603.7 399.4,1603 400,1603.9 400.5,1603.8 401.1,1606 401.7,1604 402.3,1605.3 402.8,1605.3 403.4,1608.6 404,1605.3 404.6,1605.3 405.1,1605.3 405.7,1605.3 406.3,1606.3 406.9,1606.3 407.4,1607.4 408,1606.9 408.6,1606.8 409.2,1606.9 409.2,1608.9"/></clipPath>
<g clip-path="url(#c7)">
<rect x="77.4" y="1155.9" width="217.2" height="453.5" fill="#ff8080"/>
<rect x="294.6" y="1155.9" width="236.4" height="453.5" fill="#ff4040"/>
<line x1="294.6" y1="1155.9" x2="294.6" y2="1609.4" stroke="#ff1010" stroke-width="1.6"/>
</g>
<polyline points="78.2,1606.9 78.8,1608.3 79.4,1607.1 80,1606.7 80.6,1607.2 81.2,1607 81.8,1606.2 82.4,1606.8 83,1607.5 83.6,1606.4 84.2,1606 84.8,1606.8 85.4,1607.5 86,1606.4 86.6,1606 87.2,1606.9 87.8,1606 88.4,1606.9 89,1606 89.6,1606 90.2,1607.2 90.8,1608 91.4,1606.2 92,1608.2 92.6,1607.9 93.2,1606.9 93.8,1606.4 94.4,1606.4 95.1,1607 95.7,1607.6 96.3,1606.3 96.9,1606.3 97.5,1606.9 98.1,1607.1 98.7,1606.2 99.3,1606.9 99.9,1607.6 100.5,1606 101.1,1606 101.7,1606.4 102.3,1606.3 102.9,1606.7 103.5,1606.6 104.1,1607.1 104.7,1606 105.3,1607.1 105.9,1606.4 106.5,1606.6 107.1,1606.3 107.7,1606.2 108.3,1606.5 108.9,1606.6 109.5,1606 110.1,1606.7 110.7,1606.1 111.3,1606.7 111.9,1606 112.5,1606.6 113.1,1606.8 113.7,1606.9 114.3,1606 114.9,1606.8 115.5,1606.4 116.1,1606 116.7,1606.9 117.3,1606.1 117.9,1607.9 118.5,1606 119.1,1606.4 119.7,1604 120.3,1604.3 120.8,1603 121.4,1603.6 122,1603.6 122.6,1605.6 123.1,1606.5 123.8,1606 124.4,1606.1 125,1606.3 125.6,1607.1 126.2,1604.8 126.8,1605 127.4,1605.3 128.1,1606.2 128.7,1605.8 129.3,1604.5 129.9,1605.8 130.5,1604.3 131.1,1604.2 131.7,1605.5 132.4,1604.2 133,1604.6 133.6,1605.4 134.2,1604.2 134.8,1605.9 135.4,1604.2 136.1,1604.2 136.7,1605.6 137.3,1604.4 137.9,1604.6 138.5,1604.2 139.1,1604.9 139.7,1604.2 140.4,1605.1 141,1606.4 141.6,1604.2 142.2,1604.2 142.7,1603.2 143.3,1603.1 143.9,1602.4 144.5,1602.5 145.1,1601.9 145.6,1604 146.2,1602 146.8,1603.8 147.4,1602.6 147.9,1604.7 148.5,1604.2 149.1,1603.9 149.7,1603.1 150.2,1603.9 150.8,1603.3 151.4,1601.9 152,1603.3 152.5,1601.9 153.1,1601.9 153.7,1602.5 154.3,1602.6 154.9,1603 155.4,1600.7 156,1600.7 156.6,1600.8 157.2,1600.7 157.7,1601.2 158.3,1600.7 158.9,1602.5 159.5,1600.7 160,1600.7 160.6,1600.7 161.2,1600.8 161.8,1604.7 162.4,1601.9 162.9,1600.7 163.5,1601.3 164.1,1601.3 164.7,1601.9 165.2,1602.2 165.8,1604.2 166.4,1601.9 167,1601.9 167.5,1603.7 168.1,1602.3 168.7,1601.9 169.3,1603 169.8,1602.3 170.4,1601.4 171,1602.2 171.6,1601.4 172.2,1601.1 172.7,1601.3 173.3,1599.8 173.9,1599.5 174.5,1597.7 175,1597.7 175.6,1596.3 176.2,1592.9 176.8,1594 177.3,1590.3 177.9,1590.3 178.5,1593.7 179.1,1592.7 179.7,1592.6 180.3,1590.7 180.9,1593.1 181.5,1590.9 182.1,1593.2 182.7,1590.3 183.2,1591.8 183.8,1596.2 184.3,1595.6 184.9,1599.9 185.4,1604.2 186,1594.3 186.7,1580.8 187.3,1576.5 187.8,1576.5 188.4,1582.3 189,1583.2 189.6,1585.7 190.1,1585.4 190.7,1585.7 191.2,1585.1 191.8,1582.9 192.3,1578.8 192.9,1582 193.5,1582.3 194.1,1581.7 194.6,1583.4 195.2,1585.5 195.8,1587.6 196.4,1584.7 197,1590.3 197.5,1589.4 198.1,1588.4 198.7,1581.1 199.3,1581.1 199.9,1579.4 200.5,1573.3 201.1,1576.4 201.7,1568.1 202.3,1567.2 202.8,1570.9 203.3,1571 203.9,1581.1 204.5,1581 205,1579.1 205.6,1576.7 206.2,1571.9 206.8,1561.9 207.3,1570.4 207.9,1560.1 208.5,1558 209.1,1562.6 209.6,1561.2 210.2,1561.6 210.8,1564.9 211.4,1560 211.9,1558.6 212.5,1551.1 213.1,1551.1 213.7,1549.1 214.3,1550 214.8,1546.2 215.4,1544.2 216,1544.2 216.5,1544.2 217.1,1545.8 217.6,1544.2 218.2,1544.2 218.8,1537 219.4,1535.4 220,1528 220.6,1513.9 221.2,1500.4 221.7,1505.5 222.3,1517.8 222.8,1523.4 223.4,1522.5 224,1516.7 224.6,1511.9 225.2,1503.7 225.8,1505.9 226.4,1508.3 226.9,1502.7 227.5,1499.2 228.1,1497.8 228.7,1491.1 229.2,1491.1 229.8,1486.6 230.4,1494.5 231,1490.3 231.6,1481.9 232.1,1473.2 232.7,1456.5 233.3,1438.1 233.9,1438.1 234.5,1430.8 235.1,1425.3 235.7,1419.6 236.2,1419.6 236.8,1432.5 237.3,1433.5 237.9,1402.8 238.5,1385 239.1,1382.7 239.6,1390.7 240.2,1382.7 240.8,1382.7 241.4,1371.8 241.9,1371.2 242.5,1355.3 243.1,1334.3 243.7,1325.5 244.3,1318.1 244.9,1318.1 245.5,1315.8 246,1321.9 246.6,1315.8 247.1,1316.3 247.6,1320.1 248.2,1327.3 248.9,1295.3 249.5,1295 250.1,1295.1 250.6,1290.8 251.2,1281.2 251.7,1259.6 252.2,1261.6 252.8,1246.6 253.5,1262.6 254.2,1292.7 254.7,1284.4 255.2,1261.2 255.8,1255.8 256.4,1279.1 256.9,1267.4 257.5,1265.8 258.2,1258.1 258.8,1258.1 259.3,1242 259.9,1243.3 260.4,1242 261,1233.2 261.5,1241.7 262.1,1228.1 262.7,1228.1 263.2,1235.1 263.8,1228.1 264.3,1251.2 265,1251.2 265.7,1262.7 266.2,1281.7 266.8,1262.7 267.3,1269.7 267.8,1269.7 268.4,1281.7 268.9,1272 269.6,1276.1 270.3,1292.7 270.8,1322.8 271.2,1327.3 271.8,1319.5 272.5,1315.8 273.1,1315.8 273.7,1315.8 274.3,1317.8 274.9,1318.1 275.4,1285.2 275.8,1281.2 276.5,1285.1 277.2,1288.1 277.7,1309.7 278.2,1327.3 278.8,1337.5 279.5,1355 280,1362.9 280.5,1368.9 281.1,1370.2 281.7,1390.6 282.3,1385 282.9,1386.2 283.5,1401.4 284,1393.6 284.6,1401.2 285.2,1421.2 285.8,1419.6 286.3,1428.3 286.8,1438.2 287.4,1442.7 288.1,1455.3 288.8,1465.7 289.3,1461.1 289.8,1446.2 290.4,1445 290.9,1456.9 291.5,1460.6 292,1463.4 292.7,1475.8 293.4,1488.8 294,1494.7 294.5,1502 295.1,1493.6 295.7,1500.4 296.3,1503.6 296.8,1511.3 297.4,1521.5 298,1521.1 298.5,1528.3 299.1,1531.3 299.6,1539.6 300.2,1533 300.8,1540.3 301.4,1528 302,1528 302.6,1528 303.2,1531.8 303.7,1537.2 304.3,1534.1 304.8,1543.8 305.4,1546.5 306,1546.5 306.5,1551.6 307.1,1557.2 307.7,1558 308.3,1552.8 308.8,1551.3 309.4,1551.5 310,1546.5 310.6,1546.5 311.1,1562.7 311.7,1572.5 312.3,1574.2 312.9,1577.2 313.4,1584.1 314,1581.2 314.6,1581.1 315.2,1580.6 315.8,1576.8 316.3,1577.1 316.9,1571.9 317.5,1571.9 318.1,1575.8 318.6,1571.9 319.2,1576.5 319.8,1580.6 320.4,1579 320.9,1578.4 321.5,1578.8 322.1,1570.5 322.6,1570.7 323.2,1570.3 323.7,1558.9 324.3,1555.7 324.9,1574.1 325.5,1582.4 326.1,1594.9 326.7,1591.6 327.2,1584.2 327.8,1583.4 328.3,1575.1 328.9,1571.9 329.5,1560.8 330.1,1563.4 330.7,1556.2 331.3,1553 331.9,1548.8 332.5,1547.4 333.1,1546.5 333.6,1546.5 334.2,1546.5 334.8,1558.1 335.4,1546.5 335.9,1548.1 336.5,1546.6 337.1,1542.8 337.7,1537.4 338.2,1537.4 338.8,1535 339.4,1547 340,1535 340.6,1540 341.1,1522.7 341.7,1526.8 342.3,1531.1 342.9,1521.5 343.4,1521.1 344,1525.2 344.6,1518.8 345.2,1521 345.7,1524.4 346.3,1518.8 346.9,1518.8 347.5,1511.2 348,1519.1 348.6,1511.6 349.2,1505 349.8,1508.8 350.3,1510.6 350.9,1511.8 351.4,1521.6 352,1516.5 352.6,1516.3 353.2,1507.3 353.8,1507.3 354.4,1507.3 355,1507.4 355.5,1514.7 356.1,1518.8 356.7,1515.4 357.3,1517.3 357.9,1520.3 358.4,1511.9 359,1512.5 359.6,1509.6 360.2,1509.6 360.7,1509.6 361.3,1519.9 361.9,1525.3 362.5,1542.5 363,1544.2 363.6,1539.5 364.2,1544.9 364.8,1531.2 365.4,1529.4 365.9,1531.3 366.5,1521.1 367.1,1525.9 367.7,1539.9 368.2,1538.5 368.8,1548.8 369.4,1548.8 370,1556.3 370.5,1563.4 371.1,1548.8 371.7,1551.4 372.3,1551.1 372.8,1554.6 373.4,1558.2 374,1560.3 374.6,1558 375.2,1558.5 375.7,1562.6 376.3,1562.6 376.9,1567.5 377.5,1573.2 378,1573 378.6,1575.1 379.2,1576.5 379.8,1576.5 380.3,1576.5 380.9,1576.9 381.5,1577.3 382.1,1576.5 382.7,1576.5 383.2,1576.5 383.8,1580.6 384.4,1578.9 385,1587.9 385.5,1585.6 386.1,1585.7 386.7,1588.1 387.3,1586.6 387.8,1585.7 388.4,1587.4 389,1589 389.6,1586 390.1,1591.8 390.7,1590.3 391.3,1590.3 391.9,1592.1 392.5,1592.7 393,1595 393.6,1595.6 394.2,1599.5 394.8,1600.4 395.3,1600.2 395.9,1602.2 396.5,1604.4 397.1,1602 397.6,1603 398.2,1603 398.8,1603.7 399.4,1603 400,1603.9 400.5,1603.8 401.1,1606 401.7,1604 402.3,1605.3 402.8,1605.3 403.4,1608.6 404,1605.3 404.6,1605.3 405.1,1605.3 405.7,1605.3 406.3,1606.3 406.9,1606.3 407.4,1607.4 408,1606.9 408.6,1606.8 409.2,1606.9" fill="none" stroke="#ff0000" stroke-width="2.2" stroke-linejoin="round"/>
<rect x="77.4" y="1155.9" width="453.6" height="453.5" fill="none" stroke="#1e1e1e" stroke-width="1.9"/>
<path d="M66.2 1609.4H77.4 M69.8 1578.7H77.4 M69.8 1547.9H77.4 M69.8 1517.2H77.4 M69.8 1486.4H77.4 M66.2 1455.7H77.4 M69.8 1425H77.4 M69.8 1394.2H77.4 M69.8 1363.5H77.4 M69.8 1332.7H77.4 M66.2 1302H77.4 M69.8 1271.3H77.4 M69.8 1240.5H77.4 M69.8 1209.8H77.4 M69.8 1179H77.4 M77.4 1609.4V1620.9 M86.9 1609.4V1617.2 M102.1 1609.4V1617.2 M119.2 1609.4V1620.9 M136.6 1609.4V1617.2 M152 1609.4V1617.2 M164.9 1609.4V1617.2 M175.6 1609.4V1617.2 M184.7 1609.4V1617.2 M192.2 1609.4V1617.2 M199.2 1609.4V1617.2 M205.4 1609.4V1617.2 M210.3 1609.4V1617.2 M215.2 1609.4V1620.9 M247.9 1609.4V1617.2 M267 1609.4V1617.2 M280.6 1609.4V1617.2 M291.1 1609.4V1617.2 M299.7 1609.4V1617.2 M307 1609.4V1617.2 M313.3 1609.4V1617.2 M318.8 1609.4V1617.2 M323.8 1609.4V1620.9 M356.5 1609.4V1617.2 M375.6 1609.4V1617.2 M389.2 1609.4V1617.2 M399.7 1609.4V1617.2 M408.3 1609.4V1617.2 M415.6 1609.4V1617.2 M421.9 1609.4V1617.2 M427.4 1609.4V1617.2 M432.4 1609.4V1620.9 M465.1 1609.4V1617.2 M484.2 1609.4V1617.2 M497.8 1609.4V1617.2 M508.3 1609.4V1617.2 M516.9 1609.4V1617.2 M524.2 1609.4V1617.2 M531 1609.4V1620.9" stroke="#1e1e1e" stroke-width="1.7" fill="none"/>
<text x="56.4" y="1609.4" transform="rotate(-90 56.4 1609.4)" text-anchor="middle" class="t">0</text>
<text x="56.4" y="1455.7" transform="rotate(-90 56.4 1455.7)" text-anchor="middle" class="t">100</text>
<text x="56.4" y="1302" transform="rotate(-90 56.4 1302)" text-anchor="middle" class="t">200</text>
<text x="25.9" y="1382.1" transform="rotate(-90 25.9 1382.1)" text-anchor="middle" class="t">Count</text>
<text x="119.4" y="1647.4" text-anchor="middle" class="t">0</text>
<text x="212.8" y="1647.4" text-anchor="middle" class="t">10</text>
<text x="230.6" y="1639" text-anchor="middle" class="s">3</text>
<text x="321.4" y="1647.4" text-anchor="middle" class="t">10</text>
<text x="339.2" y="1639" text-anchor="middle" class="s">4</text>
<text x="430" y="1647.4" text-anchor="middle" class="t">10</text>
<text x="447.8" y="1639" text-anchor="middle" class="s">5</text>
<text x="304.8" y="1676.9" text-anchor="middle" class="t">FITC-A</text>
<path d="M294.4 1229.7H499.6 M294.4 1218.4V1241 M499.6 1218.4V1241" stroke="#ff0000" stroke-width="2" fill="none"/>
<text x="293.2" y="1201.9" class="t r">P2(23.36%)</text>
<!-- panel 8 -->
<clipPath id="c8"><polygon points="636.7,1609.2 636.7,1606.9 637.3,1606.7 637.9,1606.5 638.5,1607.7 639.1,1606.5 639.7,1606.5 640.3,1607 640.9,1606.5 641.5,1606.6 642.1,1608.4 642.7,1607.1 643.3,1606.5 643.9,1607.1 644.5,1608.1 645.2,1606.5 645.8,1607.8 646.4,1607.1 647,1606.5 647.6,1606.9 648.2,1606.5 648.8,1606.5 649.4,1607.4 650,1606.5 650.6,1607 651.2,1606.5 651.8,1607.6 652.4,1607 653,1606.5 653.6,1606.5 654.2,1606.5 654.8,1607.8 655.4,1607.5 656,1607.5 656.6,1606.5 657.2,1606.6 657.8,1607 658.4,1607 659,1607.4 659.6,1606.5 660.2,1606.5 660.8,1606.9 661.4,1607 662.1,1606.5 662.7,1606.9 663.3,1607.8 663.9,1606.5 664.5,1606.5 665.1,1606.5 665.7,1606.6 666.3,1606.8 666.9,1606.8 667.5,1606.5 668.1,1606.5 668.7,1608 669.3,1607.1 669.9,1606.8 670.5,1606.5 671.1,1606.5 671.7,1607.4 672.3,1606.5 672.9,1607.4 673.5,1606.5 674.1,1607.2 674.7,1606.5 675.3,1606.5 675.9,1606.5 676.5,1606.5 677.1,1606.8 677.7,1606.5 678.4,1606.7 679,1606.5 679.6,1607.6 680.2,1606.5 680.8,1606.5 681.4,1606.5 682,1607.7 682.6,1606.7 683.2,1607.3 683.8,1606.5 684.4,1606.5 685,1607 685.6,1606.5 686.1,1605.2 686.7,1603.4 687.2,1603 687.8,1605.4 688.4,1605.8 689.1,1606.5 689.7,1607.3 690.3,1607 690.9,1606.7 691.4,1606.9 692,1607.5 692.6,1606.6 693.2,1606.5 693.8,1606.5 694.4,1606.5 695,1606.5 695.6,1606.5 696.2,1606.5 696.8,1606.5 697.4,1607.4 698,1607.8 698.6,1607.1 699.2,1606.5 699.8,1606.5 700.4,1606.5 701,1606.8 701.6,1607.2 702.2,1607.7 702.8,1606.8 703.4,1608 704,1606.9 704.6,1606.5 705.2,1606.5 705.8,1606.2 706.4,1606.5 706.9,1607 707.5,1604.9 708.1,1606.6 708.7,1606.4 709.2,1605.7 709.8,1604.3 710.4,1605 711,1605 711.5,1604.2 712.1,1604.2 712.7,1602.2 713.3,1600.9 713.9,1602.7 714.4,1603 715,1602.4 715.6,1599.5 716.2,1601.3 716.7,1599.5 717.3,1595.9 717.8,1598.4 718.4,1597.8 719,1595.8 719.5,1593.8 720.2,1595.5 720.9,1601.9 721.5,1600.7 722,1601.4 722.6,1596.7 723.2,1593.8 723.7,1596.4 724.3,1599.7 724.8,1601.9 725.4,1603.3 726,1601.4 726.5,1600.6 727.1,1603.6 727.7,1601.9 728.3,1599.5 728.8,1599.5 729.4,1600.5 730,1602.1 730.6,1599.5 731.2,1600.8 731.7,1601.9 732.3,1601.7 732.9,1596.8 733.5,1594.2 734,1594.1 734.6,1596.4 735.2,1591.5 735.8,1591.5 736.4,1595.5 737,1599.5 737.6,1600.5 738.1,1597.5 738.7,1592.6 739.2,1593.3 739.8,1592.6 740.4,1596 741,1597 741.5,1597.2 742.1,1597.2 742.7,1595.4 743.3,1597.2 743.8,1595 744.4,1595.3 745,1590.3 745.6,1593 746.1,1591.2 746.7,1590.3 747.3,1590.3 747.9,1593.5 748.5,1597.6 749,1597.2 749.6,1594.1 750.2,1595.2 750.8,1593 751.3,1590.3 751.9,1589.7 752.5,1581.8 753.1,1578.8 753.6,1578.8 754.2,1583.8 754.8,1579.5 755.4,1584.1 756,1585.7 756.5,1584 757.1,1583.6 757.7,1579.4 758.3,1576.5 758.8,1574 759.4,1576.9 760,1574.5 760.6,1572.5 761.1,1574.7 761.7,1571.9 762.3,1572.9 762.9,1575.6 763.5,1571.9 764,1576.5 764.6,1575.9 765.2,1564.9 765.8,1566.9 766.3,1564.9 766.9,1568.2 767.5,1569.9 768.1,1569 768.6,1574.2 769.2,1570.9 769.8,1572.9 770.4,1564.7 770.9,1566.6 771.5,1568.2 772.1,1562.6 772.7,1558 773.3,1559.5 773.8,1560.6 774.4,1558 775,1539.6 775.6,1531.2 776.3,1525.7 776.8,1534.7 777.3,1529.5 777.9,1544.2 778.4,1533.5 779,1531.1 779.6,1527 780.2,1523.4 780.8,1522.1 781.3,1518.1 781.9,1503 782.5,1500.4 783.1,1493.6 783.6,1484.7 784.2,1480.6 784.8,1477.3 785.4,1477.3 785.9,1486.6 786.5,1484.1 787.1,1493.4 787.7,1486.4 788.2,1481.9 788.9,1464.7 789.5,1448.5 790.1,1440.4 790.6,1450.6 791.2,1440.4 791.8,1440.4 792.3,1443.1 792.9,1442.7 793.5,1420.9 794.1,1403.8 794.7,1382.7 795.3,1407.7 795.9,1405.3 796.4,1408.7 797,1426.5 797.6,1415.1 798.1,1406.3 798.6,1382.7 799.2,1367.2 799.7,1350.8 800.2,1348.1 800.9,1333.6 801.6,1322.7 802.2,1329.3 802.7,1321.7 803.2,1308.9 803.8,1308.5 804.3,1299.7 804.9,1299.7 805.5,1289.2 806.1,1275.7 806.7,1258.1 807.3,1261.6 807.9,1285.8 808.4,1273.6 809,1290.4 809.6,1285.8 810.2,1302.9 810.7,1299.8 811.3,1285.8 811.9,1258.1 812.5,1263.9 813,1259.9 813.6,1258.1 814.2,1229.9 814.9,1256.4 815.5,1225.8 816,1248.7 816.6,1227.9 817.2,1256.2 817.8,1265.1 818.3,1263.2 818.9,1262.8 819.4,1262.7 820,1265.1 820.5,1262.7 821.2,1252.9 821.8,1230.9 822.4,1223.5 823,1226.3 823.5,1241.5 824.1,1248.6 824.7,1253.5 825.3,1253.5 825.9,1267.2 826.4,1282.8 827,1274.3 827.5,1276.9 828.1,1278.4 828.6,1295 829.2,1293.8 829.7,1306.6 830.2,1288.1 830.9,1285.4 831.6,1269.7 832.2,1298.7 832.7,1306.4 833.2,1327.3 833.8,1340.5 834.4,1345.8 835,1355.9 835.5,1371.2 836.1,1366.4 836.7,1350.4 837.3,1354.9 837.9,1356.4 838.5,1359.6 839.1,1359.6 839.6,1359.6 840.2,1373.5 840.7,1382.4 841.2,1408 841.8,1412.7 842.4,1413.3 843,1412.7 843.6,1424.2 844.2,1423.1 844.8,1421.9 845.3,1421.9 845.9,1429.8 846.5,1438.1 847.1,1433.5 847.6,1433.5 848.2,1443.4 848.8,1450.2 849.4,1456.5 850,1468.4 850.5,1473.1 851.1,1473.3 851.7,1488.8 852.2,1502.1 852.8,1503.1 853.3,1500.4 853.9,1502.3 854.5,1498 855.1,1502.1 855.7,1503.3 856.3,1498 856.9,1510.1 857.5,1518.1 858,1519.2 858.6,1521.1 859.2,1528.8 859.8,1532.6 860.3,1533.1 860.9,1539.6 861.5,1552.1 862.1,1540.6 862.6,1541.6 863.2,1544.2 863.8,1547.1 864.4,1549.8 865,1556.5 865.5,1553.4 866.1,1553.4 866.7,1553.4 867.3,1557.6 867.8,1553.4 868.4,1562.8 869,1564.9 869.6,1564.9 870.1,1568.4 870.7,1564.9 871.3,1564.9 871.9,1569.5 872.4,1574.7 873,1580.4 873.6,1585.7 874.2,1581.6 874.8,1575.9 875.3,1567.4 875.9,1562.6 876.5,1565.8 877.1,1571.4 877.6,1572.9 878.2,1578.8 878.8,1580.3 879.4,1576.5 879.9,1576.5 880.5,1576.5 881.1,1574.2 881.7,1564.5 882.3,1567 882.8,1558.6 883.4,1564.5 884,1558 884.6,1568.2 885.1,1571.5 885.7,1576.6 886.3,1585.7 886.9,1583.1 887.4,1579.3 888,1572.8 888.6,1569.9 889.2,1564.8 889.7,1560.3 890.3,1553.4 890.9,1551.2 891.5,1539.2 892.1,1543.7 892.6,1540 893.2,1530.3 893.8,1528.5 894.4,1524.2 894.9,1523.4 895.5,1523.4 896.1,1531.8 896.7,1539.3 897.2,1544.3 897.8,1544.2 898.4,1543.6 899,1532.2 899.6,1535.7 900.1,1530.9 900.7,1527.8 901.3,1525.7 901.9,1532.3 902.4,1527.2 903,1530.5 903.6,1523.4 904.2,1528.1 904.7,1523.4 905.3,1522.3 905.9,1519.6 906.5,1517.5 907,1511.9 907.6,1515.9 908.2,1511.9 908.8,1512.3 909.4,1513.4 909.9,1521.7 910.5,1511.9 911.1,1516.8 911.7,1514.2 912.2,1510.6 912.8,1514.3 913.4,1512.8 914,1509 914.5,1505 915.1,1505 915.7,1508.4 916.3,1505.2 916.9,1516 917.4,1514.2 918,1514.4 918.6,1500.4 919.2,1500.4 919.7,1505.8 920.3,1500.4 920.9,1500.4 921.5,1515.4 922,1512.5 922.6,1520 923.2,1530.3 923.8,1535.8 924.4,1539.5 924.9,1539.2 925.5,1539.6 926.1,1543.7 926.7,1541.1 927.2,1522.3 927.8,1521.6 928.4,1524.9 929,1521.1 929.5,1526.5 930.1,1539.9 930.7,1537.1 931.3,1544.2 931.8,1544.2 932.4,1547.8 933,1544.2 933.6,1544.2 934.2,1544.2 934.7,1544.2 935.3,1551 935.9,1552.1 936.5,1551.1 937,1555.4 937.6,1565.1 938.2,1564.9 938.8,1564.9 939.3,1567.7 939.9,1566.9 940.5,1568.6 941.1,1564.9 941.7,1567.2 942.2,1573 942.8,1574.6 943.4,1570.2 944,1582.4 944.5,1581.3 945.1,1585.7 945.7,1585.8 946.3,1585.7 946.8,1583.4 947.4,1583.4 948,1586 948.6,1583.4 949.1,1583.4 949.7,1583.4 950.3,1583.4 950.9,1583.4 951.5,1584.7 952,1583.4 952.6,1586.9 953.2,1588.6 953.8,1593.8 954.3,1596.6 954.9,1595.7 955.5,1599.5 956.1,1601.5 956.6,1603.2 957.2,1604 957.8,1602.6 958.4,1602.5 959,1604.2 959.5,1604.2 960.1,1604.2 960.7,1604.2 961.3,1604.2 961.8,1606 962.4,1606.1 963,1606.8 963.6,1605.3 964.1,1605.3 964.7,1605.7 965.3,1605.3 965.9,1606.3 966.4,1605.5 967,1606.8 967.6,1607.2 968.2,1606.9 968.2,1609.2"/></clipPath>
<g clip-path="url(#c8)">
<rect x="635.9" y="1156.2" width="216.9" height="453.5" fill="#ff8080"/>
<rect x="852.8" y="1156.2" width="236.7" height="453.5" fill="#ff4040"/>
<line x1="852.8" y1="1156.2" x2="852.8" y2="1609.7" stroke="#ff1010" stroke-width="1.6"/>
</g>
<polyline points="636.7,1606.9 637.3,1606.7 637.9,1606.5 638.5,1607.7 639.1,1606.5 639.7,1606.5 640.3,1607 640.9,1606.5 641.5,1606.6 642.1,1608.4 642.7,1607.1 643.3,1606.5 643.9,1607.1 644.5,1608.1 645.2,1606.5 645.8,1607.8 646.4,1607.1 647,1606.5 647.6,1606.9 648.2,1606.5 648.8,1606.5 649.4,1607.4 650,1606.5 650.6,1607 651.2,1606.5 651.8,1607.6 652.4,1607 653,1606.5 653.6,1606.5 654.2,1606.5 654.8,1607.8 655.4,1607.5 656,1607.5 656.6,1606.5 657.2,1606.6 657.8,1607 658.4,1607 659,1607.4 659.6,1606.5 660.2,1606.5 660.8,1606.9 661.4,1607 662.1,1606.5 662.7,1606.9 663.3,1607.8 663.9,1606.5 664.5,1606.5 665.1,1606.5 665.7,1606.6 666.3,1606.8 666.9,1606.8 667.5,1606.5 668.1,1606.5 668.7,1608 669.3,1607.1 669.9,1606.8 670.5,1606.5 671.1,1606.5 671.7,1607.4 672.3,1606.5 672.9,1607.4 673.5,1606.5 674.1,1607.2 674.7,1606.5 675.3,1606.5 675.9,1606.5 676.5,1606.5 677.1,1606.8 677.7,1606.5 678.4,1606.7 679,1606.5 679.6,1607.6 680.2,1606.5 680.8,1606.5 681.4,1606.5 682,1607.7 682.6,1606.7 683.2,1607.3 683.8,1606.5 684.4,1606.5 685,1607 685.6,1606.5 686.1,1605.2 686.7,1603.4 687.2,1603 687.8,1605.4 688.4,1605.8 689.1,1606.5 689.7,1607.3 690.3,1607 690.9,1606.7 691.4,1606.9 692,1607.5 692.6,1606.6 693.2,1606.5 693.8,1606.5 694.4,1606.5 695,1606.5 695.6,1606.5 696.2,1606.5 696.8,1606.5 697.4,1607.4 698,1607.8 698.6,1607.1 699.2,1606.5 699.8,1606.5 700.4,1606.5 701,1606.8 701.6,1607.2 702.2,1607.7 702.8,1606.8 703.4,1608 704,1606.9 704.6,1606.5 705.2,1606.5 705.8,1606.2 706.4,1606.5 706.9,1607 707.5,1604.9 708.1,1606.6 708.7,1606.4 709.2,1605.7 709.8,1604.3 710.4,1605 711,1605 711.5,1604.2 712.1,1604.2 712.7,1602.2 713.3,1600.9 713.9,1602.7 714.4,1603 715,1602.4 715.6,1599.5 716.2,1601.3 716.7,1599.5 717.3,1595.9 717.8,1598.4 718.4,1597.8 719,1595.8 719.5,1593.8 720.2,1595.5 720.9,1601.9 721.5,1600.7 722,1601.4 722.6,1596.7 723.2,1593.8 723.7,1596.4 724.3,1599.7 724.8,1601.9 725.4,1603.3 726,1601.4 726.5,1600.6 727.1,1603.6 727.7,1601.9 728.3,1599.5 728.8,1599.5 729.4,1600.5 730,1602.1 730.6,1599.5 731.2,1600.8 731.7,1601.9 732.3,1601.7 732.9,1596.8 733.5,1594.2 734,1594.1 734.6,1596.4 735.2,1591.5 735.8,1591.5 736.4,1595.5 737,1599.5 737.6,1600.5 738.1,1597.5 738.7,1592.6 739.2,1593.3 739.8,1592.6 740.4,1596 741,1597 741.5,1597.2 742.1,1597.2 742.7,1595.4 743.3,1597.2 743.8,1595 744.4,1595.3 745,1590.3 745.6,1593 746.1,1591.2 746.7,1590.3 747.3,1590.3 747.9,1593.5 748.5,1597.6 749,1597.2 749.6,1594.1 750.2,1595.2 750.8,1593 751.3,1590.3 751.9,1589.7 752.5,1581.8 753.1,1578.8 753.6,1578.8 754.2,1583.8 754.8,1579.5 755.4,1584.1 756,1585.7 756.5,1584 757.1,1583.6 757.7,1579.4 758.3,1576.5 758.8,1574 759.4,1576.9 760,1574.5 760.6,1572.5 761.1,1574.7 761.7,1571.9 762.3,1572.9 762.9,1575.6 763.5,1571.9 764,1576.5 764.6,1575.9 765.2,1564.9 765.8,1566.9 766.3,1564.9 766.9,1568.2 767.5,1569.9 768.1,1569 768.6,1574.2 769.2,1570.9 769.8,1572.9 770.4,1564.7 770.9,1566.6 771.5,1568.2 772.1,1562.6 772.7,1558 773.3,1559.5 773.8,1560.6 774.4,1558 775,1539.6 775.6,1531.2 776.3,1525.7 776.8,1534.7 777.3,1529.5 777.9,1544.2 778.4,1533.5 779,1531.1 779.6,1527 780.2,1523.4 780.8,1522.1 781.3,1518.1 781.9,1503 782.5,1500.4 783.1,1493.6 783.6,1484.7 784.2,1480.6 784.8,1477.3 785.4,1477.3 785.9,1486.6 786.5,1484.1 787.1,1493.4 787.7,1486.4 788.2,1481.9 788.9,1464.7 789.5,1448.5 790.1,1440.4 790.6,1450.6 791.2,1440.4 791.8,1440.4 792.3,1443.1 792.9,1442.7 793.5,1420.9 794.1,1403.8 794.7,1382.7 795.3,1407.7 795.9,1405.3 796.4,1408.7 797,1426.5 797.6,1415.1 798.1,1406.3 798.6,1382.7 799.2,1367.2 799.7,1350.8 800.2,1348.1 800.9,1333.6 801.6,1322.7 802.2,1329.3 802.7,1321.7 803.2,1308.9 803.8,1308.5 804.3,1299.7 804.9,1299.7 805.5,1289.2 806.1,1275.7 806.7,1258.1 807.3,1261.6 807.9,1285.8 808.4,1273.6 809,1290.4 809.6,1285.8 810.2,1302.9 810.7,1299.8 811.3,1285.8 811.9,1258.1 812.5,1263.9 813,1259.9 813.6,1258.1 814.2,1229.9 814.9,1256.4 815.5,1225.8 816,1248.7 816.6,1227.9 817.2,1256.2 817.8,1265.1 818.3,1263.2 818.9,1262.8 819.4,1262.7 820,1265.1 820.5,1262.7 821.2,1252.9 821.8,1230.9 822.4,1223.5 823,1226.3 823.5,1241.5 824.1,1248.6 824.7,1253.5 825.3,1253.5 825.9,1267.2 826.4,1282.8 827,1274.3 827.5,1276.9 828.1,1278.4 828.6,1295 829.2,1293.8 829.7,1306.6 830.2,1288.1 830.9,1285.4 831.6,1269.7 832.2,1298.7 832.7,1306.4 833.2,1327.3 833.8,1340.5 834.4,1345.8 835,1355.9 835.5,1371.2 836.1,1366.4 836.7,1350.4 837.3,1354.9 837.9,1356.4 838.5,1359.6 839.1,1359.6 839.6,1359.6 840.2,1373.5 840.7,1382.4 841.2,1408 841.8,1412.7 842.4,1413.3 843,1412.7 843.6,1424.2 844.2,1423.1 844.8,1421.9 845.3,1421.9 845.9,1429.8 846.5,1438.1 847.1,1433.5 847.6,1433.5 848.2,1443.4 848.8,1450.2 849.4,1456.5 850,1468.4 850.5,1473.1 851.1,1473.3 851.7,1488.8 852.2,1502.1 852.8,1503.1 853.3,1500.4 853.9,1502.3 854.5,1498 855.1,1502.1 855.7,1503.3 856.3,1498 856.9,1510.1 857.5,1518.1 858,1519.2 858.6,1521.1 859.2,1528.8 859.8,1532.6 860.3,1533.1 860.9,1539.6 861.5,1552.1 862.1,1540.6 862.6,1541.6 863.2,1544.2 863.8,1547.1 864.4,1549.8 865,1556.5 865.5,1553.4 866.1,1553.4 866.7,1553.4 867.3,1557.6 867.8,1553.4 868.4,1562.8 869,1564.9 869.6,1564.9 870.1,1568.4 870.7,1564.9 871.3,1564.9 871.9,1569.5 872.4,1574.7 873,1580.4 873.6,1585.7 874.2,1581.6 874.8,1575.9 875.3,1567.4 875.9,1562.6 876.5,1565.8 877.1,1571.4 877.6,1572.9 878.2,1578.8 878.8,1580.3 879.4,1576.5 879.9,1576.5 880.5,1576.5 881.1,1574.2 881.7,1564.5 882.3,1567 882.8,1558.6 883.4,1564.5 884,1558 884.6,1568.2 885.1,1571.5 885.7,1576.6 886.3,1585.7 886.9,1583.1 887.4,1579.3 888,1572.8 888.6,1569.9 889.2,1564.8 889.7,1560.3 890.3,1553.4 890.9,1551.2 891.5,1539.2 892.1,1543.7 892.6,1540 893.2,1530.3 893.8,1528.5 894.4,1524.2 894.9,1523.4 895.5,1523.4 896.1,1531.8 896.7,1539.3 897.2,1544.3 897.8,1544.2 898.4,1543.6 899,1532.2 899.6,1535.7 900.1,1530.9 900.7,1527.8 901.3,1525.7 901.9,1532.3 902.4,1527.2 903,1530.5 903.6,1523.4 904.2,1528.1 904.7,1523.4 905.3,1522.3 905.9,1519.6 906.5,1517.5 907,1511.9 907.6,1515.9 908.2,1511.9 908.8,1512.3 909.4,1513.4 909.9,1521.7 910.5,1511.9 911.1,1516.8 911.7,1514.2 912.2,1510.6 912.8,1514.3 913.4,1512.8 914,1509 914.5,1505 915.1,1505 915.7,1508.4 916.3,1505.2 916.9,1516 917.4,1514.2 918,1514.4 918.6,1500.4 919.2,1500.4 919.7,1505.8 920.3,1500.4 920.9,1500.4 921.5,1515.4 922,1512.5 922.6,1520 923.2,1530.3 923.8,1535.8 924.4,1539.5 924.9,1539.2 925.5,1539.6 926.1,1543.7 926.7,1541.1 927.2,1522.3 927.8,1521.6 928.4,1524.9 929,1521.1 929.5,1526.5 930.1,1539.9 930.7,1537.1 931.3,1544.2 931.8,1544.2 932.4,1547.8 933,1544.2 933.6,1544.2 934.2,1544.2 934.7,1544.2 935.3,1551 935.9,1552.1 936.5,1551.1 937,1555.4 937.6,1565.1 938.2,1564.9 938.8,1564.9 939.3,1567.7 939.9,1566.9 940.5,1568.6 941.1,1564.9 941.7,1567.2 942.2,1573 942.8,1574.6 943.4,1570.2 944,1582.4 944.5,1581.3 945.1,1585.7 945.7,1585.8 946.3,1585.7 946.8,1583.4 947.4,1583.4 948,1586 948.6,1583.4 949.1,1583.4 949.7,1583.4 950.3,1583.4 950.9,1583.4 951.5,1584.7 952,1583.4 952.6,1586.9 953.2,1588.6 953.8,1593.8 954.3,1596.6 954.9,1595.7 955.5,1599.5 956.1,1601.5 956.6,1603.2 957.2,1604 957.8,1602.6 958.4,1602.5 959,1604.2 959.5,1604.2 960.1,1604.2 960.7,1604.2 961.3,1604.2 961.8,1606 962.4,1606.1 963,1606.8 963.6,1605.3 964.1,1605.3 964.7,1605.7 965.3,1605.3 965.9,1606.3 966.4,1605.5 967,1606.8 967.6,1607.2 968.2,1606.9" fill="none" stroke="#ff0000" stroke-width="2.2" stroke-linejoin="round"/>
<rect x="635.9" y="1156.2" width="453.6" height="453.5" fill="none" stroke="#1e1e1e" stroke-width="1.9"/>
<path d="M624.7 1609.7H635.9 M628.3 1581.7H635.9 M628.3 1553.7H635.9 M628.3 1525.7H635.9 M628.3 1497.7H635.9 M624.7 1469.7H635.9 M628.3 1441.7H635.9 M628.3 1413.7H635.9 M628.3 1385.7H635.9 M628.3 1357.8H635.9 M624.7 1329.8H635.9 M628.3 1301.8H635.9 M628.3 1273.8H635.9 M628.3 1245.8H635.9 M628.3 1217.8H635.9 M624.7 1189.8H635.9 M628.3 1161.8H635.9 M635.9 1609.7V1621.2 M645.4 1609.7V1617.5 M660.6 1609.7V1617.5 M677.7 1609.7V1621.2 M695.1 1609.7V1617.5 M710.5 1609.7V1617.5 M723.4 1609.7V1617.5 M734.1 1609.7V1617.5 M743.2 1609.7V1617.5 M750.7 1609.7V1617.5 M757.7 1609.7V1617.5 M763.9 1609.7V1617.5 M768.8 1609.7V1617.5 M773.7 1609.7V1621.2 M806.4 1609.7V1617.5 M825.5 1609.7V1617.5 M839.1 1609.7V1617.5 M849.6 1609.7V1617.5 M858.2 1609.7V1617.5 M865.5 1609.7V1617.5 M871.8 1609.7V1617.5 M877.3 1609.7V1617.5 M882.3 1609.7V1621.2 M915 1609.7V1617.5 M934.1 1609.7V1617.5 M947.7 1609.7V1617.5 M958.2 1609.7V1617.5 M966.8 1609.7V1617.5 M974.1 1609.7V1617.5 M980.4 1609.7V1617.5 M985.9 1609.7V1617.5 M990.9 1609.7V1621.2 M1023.6 1609.7V1617.5 M1042.7 1609.7V1617.5 M1056.3 1609.7V1617.5 M1066.8 1609.7V1617.5 M1075.4 1609.7V1617.5 M1082.7 1609.7V1617.5 M1089.5 1609.7V1621.2" stroke="#1e1e1e" stroke-width="1.7" fill="none"/>
<text x="614.9" y="1609.7" transform="rotate(-90 614.9 1609.7)" text-anchor="middle" class="t">0</text>
<text x="614.9" y="1469.7" transform="rotate(-90 614.9 1469.7)" text-anchor="middle" class="t">100</text>
<text x="614.9" y="1329.8" transform="rotate(-90 614.9 1329.8)" text-anchor="middle" class="t">200</text>
<text x="614.9" y="1189.8" transform="rotate(-90 614.9 1189.8)" text-anchor="middle" class="t">300</text>
<text x="584.4" y="1382.4" transform="rotate(-90 584.4 1382.4)" text-anchor="middle" class="t">Count</text>
<text x="677.9" y="1647.7" text-anchor="middle" class="t">0</text>
<text x="771.3" y="1647.7" text-anchor="middle" class="t">10</text>
<text x="789.1" y="1639.3" text-anchor="middle" class="s">3</text>
<text x="879.9" y="1647.7" text-anchor="middle" class="t">10</text>
<text x="897.7" y="1639.3" text-anchor="middle" class="s">4</text>
<text x="988.5" y="1647.7" text-anchor="middle" class="t">10</text>
<text x="1006.3" y="1639.3" text-anchor="middle" class="s">5</text>
<text x="863.3" y="1677.2" text-anchor="middle" class="t">FITC-A</text>
<path d="M852.8 1230.2H1058.4 M852.8 1218.9V1241.5 M1058.4 1218.9V1241.5" stroke="#ff0000" stroke-width="2" fill="none"/>
<text x="851.6" y="1202.4" class="t r">P2(24.30%)</text>
<!-- panel 9 -->
<clipPath id="c9"><polygon points="1197,1607.5 1197,1606.5 1197.6,1606.5 1198.2,1606 1198.8,1606.6 1199.4,1607.2 1200,1606.2 1200.6,1606.9 1201.2,1606.1 1201.8,1606.7 1202.4,1606.9 1203,1606 1203.6,1607 1204.2,1606.5 1204.8,1606.9 1205.4,1606.4 1206,1606 1206.6,1606.5 1207.2,1607.3 1207.8,1606 1208.4,1606.7 1209,1606 1209.6,1606.6 1210.2,1607.2 1210.8,1606.2 1211.4,1606.5 1212,1606 1212.6,1606.6 1213.2,1606.5 1213.8,1606 1214.4,1606 1215,1606.5 1215.6,1606.6 1216.2,1606 1216.8,1606.3 1217.4,1606.9 1218,1606 1218.6,1606.6 1219.2,1606 1219.8,1606 1220.4,1606.6 1221,1606.2 1221.6,1607 1222.2,1606.3 1222.8,1606.4 1223.4,1606.5 1224,1606 1224.6,1606 1225.2,1606.3 1225.8,1606 1226.4,1606.5 1227,1606.1 1227.6,1606.7 1228.2,1607.2 1228.8,1606 1229.4,1606.6 1230,1606 1230.6,1606 1231.2,1606.6 1231.8,1606.4 1232.4,1606 1233,1606.9 1233.6,1606 1234.2,1606.8 1234.8,1607 1235.4,1606 1236,1606 1236.6,1606 1237.2,1606 1237.8,1606.5 1238.4,1606.1 1239,1606.3 1239.6,1606 1240.2,1606.6 1240.8,1606 1241.4,1606.1 1242,1606 1242.6,1606.3 1243.2,1606 1243.8,1607.1 1244.4,1606.4 1245,1606 1245.6,1606 1246.2,1606 1246.7,1606 1247.4,1606.5 1248,1604.5 1248.6,1606.1 1249.2,1604.9 1249.8,1607.5 1250.4,1604.2 1251.1,1605.4 1251.7,1604.8 1252.3,1604.2 1252.9,1604.2 1253.5,1605 1254.1,1604.2 1254.7,1604.2 1255.4,1604.3 1256,1604.2 1256.6,1604.4 1257.1,1604.3 1257.7,1606 1258.3,1605.7 1258.9,1603.3 1259.4,1603.6 1260,1603.5 1260.6,1603.1 1261.2,1603 1261.7,1603 1262.3,1603.5 1262.9,1603 1263.5,1603.8 1264.1,1603.1 1264.6,1603.2 1265.2,1604.4 1265.8,1605.9 1266.4,1603.8 1266.9,1606 1267.5,1605.3 1268.1,1605 1268.7,1604.4 1269.2,1603.2 1269.8,1603.5 1270.4,1602.6 1271,1601.9 1271.5,1602.5 1272.1,1601.9 1272.7,1599.7 1273.3,1601.2 1273.9,1602.6 1274.4,1599.5 1275,1601.9 1275.6,1599.5 1276.2,1599.5 1276.7,1599.5 1277.3,1600.5 1277.9,1602.7 1278.5,1600.3 1279,1601.8 1279.6,1603.6 1280.2,1604.2 1280.8,1602.1 1281.4,1601.6 1281.9,1600.7 1282.5,1601 1283.1,1602.1 1283.7,1599.5 1284.2,1602.9 1284.8,1599.2 1285.4,1596.1 1286,1601.4 1286.5,1596.7 1287.1,1596.1 1287.7,1596.1 1288.3,1596.1 1288.8,1596.5 1289.4,1597.3 1290,1596.1 1290.6,1596.3 1291.2,1596.2 1291.7,1597.4 1292.3,1597.5 1292.9,1596.1 1293.5,1593.9 1294,1594 1294.6,1595.5 1295.2,1593.4 1295.8,1590.3 1296.3,1591.2 1296.9,1590.3 1297.5,1590.3 1298.1,1591.8 1298.7,1596.8 1299.3,1599.5 1300,1596.2 1300.6,1595.1 1301.3,1591.5 1301.9,1583.4 1302.6,1583.4 1303.2,1586.1 1303.8,1583.4 1304.4,1590.5 1305,1588.7 1305.6,1590.3 1306.1,1590.3 1306.7,1590.3 1307.3,1591.2 1307.9,1590.3 1308.5,1590.3 1309,1590.3 1309.6,1590.3 1310.2,1591.4 1310.8,1590.3 1311.3,1590.3 1311.9,1590.4 1312.5,1585.5 1313.1,1583.8 1313.6,1583.4 1314.2,1587.7 1314.8,1583.7 1315.4,1583.4 1316,1588 1316.5,1586.7 1317.1,1589.6 1317.7,1581.3 1318.3,1584.6 1318.8,1585.4 1319.4,1581.1 1320,1580.9 1320.6,1578.1 1321.2,1579.9 1321.8,1574.2 1322.4,1574.2 1323,1574.8 1323.5,1582 1324.1,1575.3 1324.6,1580.8 1325.2,1581.1 1325.8,1575.8 1326.3,1578.2 1326.9,1575.9 1327.5,1571.9 1328.1,1573.6 1328.6,1576.2 1329.2,1574.7 1329.8,1577.3 1330.4,1574 1330.9,1578.8 1331.5,1572.5 1332.1,1560.3 1332.7,1554.5 1333.3,1552.7 1333.8,1547.8 1334.4,1541.9 1335,1550.7 1335.6,1553.9 1336.3,1553.4 1336.8,1553.3 1337.4,1556.3 1337.9,1551.1 1338.5,1557 1339,1551.1 1339.6,1545.7 1340.2,1551.7 1340.8,1546.9 1341.3,1545.1 1341.9,1546.9 1342.5,1544.9 1343.1,1544.6 1343.6,1541.9 1344.2,1538.9 1344.8,1543.2 1345.4,1526.5 1345.9,1525.7 1346.5,1526.4 1347.1,1521.1 1347.7,1521.1 1348.2,1521.1 1348.8,1510.4 1349.4,1509.1 1350,1498 1350.6,1498 1351.1,1498.6 1351.7,1490.4 1352.3,1495.6 1352.9,1477.3 1353.5,1472.1 1354.1,1450.4 1354.7,1447.3 1355.2,1454.9 1355.8,1462 1356.3,1465.7 1356.9,1459.6 1357.5,1442.7 1358.1,1440 1358.6,1419.8 1359.2,1411.6 1359.8,1401.2 1360.4,1406.7 1361,1419.8 1361.6,1433.5 1362.1,1404.3 1362.6,1368.9 1363.2,1379.4 1363.8,1379.3 1364.4,1368.9 1365,1394.9 1365.6,1385 1366.1,1361.4 1366.7,1355 1367.3,1348 1367.9,1347.6 1368.5,1341.2 1369.1,1339.9 1369.6,1340.4 1370.2,1334.3 1370.7,1324.7 1371.2,1313.5 1371.8,1313.5 1372.4,1321.6 1373,1291.2 1373.6,1290.4 1374.2,1259 1374.9,1261.3 1375.5,1242 1376,1247.4 1376.6,1270.2 1377.1,1257.9 1377.7,1267.8 1378.2,1265.1 1378.9,1236.8 1379.5,1239.5 1380.1,1230.5 1380.7,1230.5 1381.2,1232.1 1381.8,1234.2 1382.4,1237.4 1382.9,1239.4 1383.5,1232.8 1384,1232.8 1384.5,1248.7 1385.1,1253.1 1385.6,1272 1386.3,1272.1 1387,1258.1 1387.5,1254.9 1388.1,1239.7 1388.6,1221.2 1389.2,1245.2 1389.8,1265.1 1390.4,1268.2 1391,1258.1 1391.6,1258.1 1392.2,1258.1 1392.7,1271 1393.2,1269.7 1393.8,1269.7 1394.3,1269.7 1394.8,1281.2 1395.5,1284.8 1396.2,1308.9 1396.8,1322.9 1397.3,1308.9 1397.9,1324.3 1398.4,1333.7 1399,1327.3 1399.6,1332 1400.2,1348.4 1400.7,1346.2 1401.3,1357.3 1401.9,1373.1 1402.5,1369.2 1403,1388.8 1403.6,1385 1404.2,1385 1404.8,1401.2 1405.3,1387.8 1405.9,1389.6 1406.5,1400.1 1407.1,1405.7 1407.6,1423.6 1408.2,1433.5 1408.8,1433.5 1409.4,1443.8 1410,1445.3 1410.5,1452.7 1411.1,1450.5 1411.7,1454.2 1412.3,1458.7 1412.8,1464.6 1413.4,1484.9 1414,1488.8 1414.6,1488.4 1415.1,1485.8 1415.7,1498.1 1416.3,1495.8 1416.9,1486.4 1417.5,1484.2 1418,1490.2 1418.6,1489 1419.2,1497.6 1419.8,1500.4 1420.3,1505.4 1420.9,1500.6 1421.5,1509.1 1422.1,1508.1 1422.6,1509.6 1423.2,1518.8 1423.8,1526 1424.4,1530.8 1425,1544.8 1425.5,1544.2 1426.1,1547.5 1426.7,1549.4 1427.3,1550.6 1427.8,1544.2 1428.4,1559.3 1429,1555.7 1429.6,1563.3 1430.1,1561.3 1430.7,1559.7 1431.3,1563.6 1431.9,1569.4 1432.4,1567.2 1433,1573.5 1433.6,1577.1 1434.2,1573.5 1434.8,1571.3 1435.3,1581.2 1435.9,1581.1 1436.5,1582.2 1437.1,1580.2 1437.6,1580.2 1438.2,1571.9 1438.8,1573.9 1439.4,1571.9 1439.9,1570.8 1440.5,1568.5 1441.1,1567.5 1441.7,1564.9 1442.3,1565.3 1442.8,1569.1 1443.4,1574 1444,1576.5 1444.6,1573 1445.1,1572.8 1445.7,1575.5 1446.3,1571.9 1446.9,1576.5 1447.4,1571.9 1448,1573.5 1448.6,1561.5 1449.2,1563 1449.7,1558.3 1450.3,1561.5 1450.9,1558 1451.5,1558.1 1452.1,1561 1452.6,1552.2 1453.2,1550.2 1453.8,1550 1454.4,1546.5 1454.9,1545.7 1455.5,1541.6 1456.1,1540.9 1456.7,1538.3 1457.2,1539.1 1457.8,1536 1458.4,1534.7 1459,1530.3 1459.6,1516.9 1460.2,1520.5 1460.8,1517.6 1461.3,1506.7 1461.9,1504.2 1462.5,1508 1463.1,1500.4 1463.7,1520.6 1464.3,1513.1 1464.9,1528.7 1465.4,1535 1466,1525.5 1466.5,1525.9 1467.1,1524.3 1467.6,1521.7 1468.2,1516.5 1468.8,1509.2 1469.4,1513.4 1469.9,1504.5 1470.5,1502.7 1471.1,1511.5 1471.7,1517.8 1472.2,1516.8 1472.8,1530.3 1473.4,1533.9 1474,1522 1474.5,1522.7 1475.1,1516.5 1475.7,1509.8 1476.3,1500.5 1476.9,1499.9 1477.4,1498 1478,1510.6 1478.6,1518.3 1479.2,1543.1 1479.7,1553.4 1480.3,1550.1 1480.9,1545.3 1481.5,1535 1482,1535 1482.6,1527.5 1483.2,1519.1 1483.8,1520.2 1484.4,1514.2 1485,1522.1 1485.6,1525.5 1486.2,1535 1486.7,1545.7 1487.3,1561.2 1487.8,1567.2 1488.4,1562.7 1489,1555.1 1489.5,1544.1 1490.1,1535 1490.7,1557.8 1491.2,1564.1 1491.7,1571.9 1492.3,1557.6 1493,1543.9 1493.6,1530.3 1494.2,1531 1494.7,1536.4 1495.3,1542.7 1495.9,1554 1496.5,1547.7 1497,1553.4 1497.6,1554.4 1498.2,1558.1 1498.8,1553.9 1499.3,1559.1 1499.9,1563.4 1500.5,1562.6 1501.1,1562.2 1501.7,1558 1502.2,1558.5 1502.8,1558 1503.4,1565.4 1504,1571.4 1504.5,1580.9 1505.1,1588 1505.7,1588.6 1506.3,1588.6 1506.8,1589 1507.4,1591.1 1508,1593.2 1508.6,1593.2 1509.1,1594.9 1509.7,1592.6 1510.3,1592.6 1510.9,1594.1 1511.5,1593.1 1512,1597.1 1512.6,1595.8 1513.2,1592.6 1513.8,1595.2 1514.3,1592.6 1514.9,1594.1 1515.5,1590.3 1516.1,1595.2 1516.6,1590.3 1517.2,1591.8 1517.8,1590.3 1518.4,1592.9 1519,1598.3 1519.5,1596.8 1520.1,1598.7 1520.7,1599.7 1521.3,1604.2 1521.8,1605.7 1522.4,1604.3 1523,1605.6 1523.6,1604.3 1524.1,1605.7 1524.7,1605.1 1525.3,1605.7 1525.9,1605.3 1526.4,1605.5 1527,1606.3 1527.6,1605.2 1528.2,1605.3 1528.8,1605.3 1529.3,1605.6 1529.9,1605.8 1530.5,1605.6 1531.1,1605.9 1531.6,1606.3 1532.2,1605.3 1532.8,1606 1533.4,1606.6 1533.9,1606.1 1534.5,1606 1535.1,1606.5 1535.1,1607.5"/></clipPath>
<g clip-path="url(#c9)">
<rect x="1196.2" y="1154.5" width="191.7" height="453.5" fill="#ff8080"/>
<rect x="1387.9" y="1154.5" width="261.9" height="453.5" fill="#ff4040"/>
<line x1="1387.9" y1="1154.5" x2="1387.9" y2="1608" stroke="#ff1010" stroke-width="1.6"/>
</g>
<polyline points="1197,1606.5 1197.6,1606.5 1198.2,1606 1198.8,1606.6 1199.4,1607.2 1200,1606.2 1200.6,1606.9 1201.2,1606.1 1201.8,1606.7 1202.4,1606.9 1203,1606 1203.6,1607 1204.2,1606.5 1204.8,1606.9 1205.4,1606.4 1206,1606 1206.6,1606.5 1207.2,1607.3 1207.8,1606 1208.4,1606.7 1209,1606 1209.6,1606.6 1210.2,1607.2 1210.8,1606.2 1211.4,1606.5 1212,1606 1212.6,1606.6 1213.2,1606.5 1213.8,1606 1214.4,1606 1215,1606.5 1215.6,1606.6 1216.2,1606 1216.8,1606.3 1217.4,1606.9 1218,1606 1218.6,1606.6 1219.2,1606 1219.8,1606 1220.4,1606.6 1221,1606.2 1221.6,1607 1222.2,1606.3 1222.8,1606.4 1223.4,1606.5 1224,1606 1224.6,1606 1225.2,1606.3 1225.8,1606 1226.4,1606.5 1227,1606.1 1227.6,1606.7 1228.2,1607.2 1228.8,1606 1229.4,1606.6 1230,1606 1230.6,1606 1231.2,1606.6 1231.8,1606.4 1232.4,1606 1233,1606.9 1233.6,1606 1234.2,1606.8 1234.8,1607 1235.4,1606 1236,1606 1236.6,1606 1237.2,1606 1237.8,1606.5 1238.4,1606.1 1239,1606.3 1239.6,1606 1240.2,1606.6 1240.8,1606 1241.4,1606.1 1242,1606 1242.6,1606.3 1243.2,1606 1243.8,1607.1 1244.4,1606.4 1245,1606 1245.6,1606 1246.2,1606 1246.7,1606 1247.4,1606.5 1248,1604.5 1248.6,1606.1 1249.2,1604.9 1249.8,1607.5 1250.4,1604.2 1251.1,1605.4 1251.7,1604.8 1252.3,1604.2 1252.9,1604.2 1253.5,1605 1254.1,1604.2 1254.7,1604.2 1255.4,1604.3 1256,1604.2 1256.6,1604.4 1257.1,1604.3 1257.7,1606 1258.3,1605.7 1258.9,1603.3 1259.4,1603.6 1260,1603.5 1260.6,1603.1 1261.2,1603 1261.7,1603 1262.3,1603.5 1262.9,1603 1263.5,1603.8 1264.1,1603.1 1264.6,1603.2 1265.2,1604.4 1265.8,1605.9 1266.4,1603.8 1266.9,1606 1267.5,1605.3 1268.1,1605 1268.7,1604.4 1269.2,1603.2 1269.8,1603.5 1270.4,1602.6 1271,1601.9 1271.5,1602.5 1272.1,1601.9 1272.7,1599.7 1273.3,1601.2 1273.9,1602.6 1274.4,1599.5 1275,1601.9 1275.6,1599.5 1276.2,1599.5 1276.7,1599.5 1277.3,1600.5 1277.9,1602.7 1278.5,1600.3 1279,1601.8 1279.6,1603.6 1280.2,1604.2 1280.8,1602.1 1281.4,1601.6 1281.9,1600.7 1282.5,1601 1283.1,1602.1 1283.7,1599.5 1284.2,1602.9 1284.8,1599.2 1285.4,1596.1 1286,1601.4 1286.5,1596.7 1287.1,1596.1 1287.7,1596.1 1288.3,1596.1 1288.8,1596.5 1289.4,1597.3 1290,1596.1 1290.6,1596.3 1291.2,1596.2 1291.7,1597.4 1292.3,1597.5 1292.9,1596.1 1293.5,1593.9 1294,1594 1294.6,1595.5 1295.2,1593.4 1295.8,1590.3 1296.3,1591.2 1296.9,1590.3 1297.5,1590.3 1298.1,1591.8 1298.7,1596.8 1299.3,1599.5 1300,1596.2 1300.6,1595.1 1301.3,1591.5 1301.9,1583.4 1302.6,1583.4 1303.2,1586.1 1303.8,1583.4 1304.4,1590.5 1305,1588.7 1305.6,1590.3 1306.1,1590.3 1306.7,1590.3 1307.3,1591.2 1307.9,1590.3 1308.5,1590.3 1309,1590.3 1309.6,1590.3 1310.2,1591.4 1310.8,1590.3 1311.3,1590.3 1311.9,1590.4 1312.5,1585.5 1313.1,1583.8 1313.6,1583.4 1314.2,1587.7 1314.8,1583.7 1315.4,1583.4 1316,1588 1316.5,1586.7 1317.1,1589.6 1317.7,1581.3 1318.3,1584.6 1318.8,1585.4 1319.4,1581.1 1320,1580.9 1320.6,1578.1 1321.2,1579.9 1321.8,1574.2 1322.4,1574.2 1323,1574.8 1323.5,1582 1324.1,1575.3 1324.6,1580.8 1325.2,1581.1 1325.8,1575.8 1326.3,1578.2 1326.9,1575.9 1327.5,1571.9 1328.1,1573.6 1328.6,1576.2 1329.2,1574.7 1329.8,1577.3 1330.4,1574 1330.9,1578.8 1331.5,1572.5 1332.1,1560.3 1332.7,1554.5 1333.3,1552.7 1333.8,1547.8 1334.4,1541.9 1335,1550.7 1335.6,1553.9 1336.3,1553.4 1336.8,1553.3 1337.4,1556.3 1337.9,1551.1 1338.5,1557 1339,1551.1 1339.6,1545.7 1340.2,1551.7 1340.8,1546.9 1341.3,1545.1 1341.9,1546.9 1342.5,1544.9 1343.1,1544.6 1343.6,1541.9 1344.2,1538.9 1344.8,1543.2 1345.4,1526.5 1345.9,1525.7 1346.5,1526.4 1347.1,1521.1 1347.7,1521.1 1348.2,1521.1 1348.8,1510.4 1349.4,1509.1 1350,1498 1350.6,1498 1351.1,1498.6 1351.7,1490.4 1352.3,1495.6 1352.9,1477.3 1353.5,1472.1 1354.1,1450.4 1354.7,1447.3 1355.2,1454.9 1355.8,1462 1356.3,1465.7 1356.9,1459.6 1357.5,1442.7 1358.1,1440 1358.6,1419.8 1359.2,1411.6 1359.8,1401.2 1360.4,1406.7 1361,1419.8 1361.6,1433.5 1362.1,1404.3 1362.6,1368.9 1363.2,1379.4 1363.8,1379.3 1364.4,1368.9 1365,1394.9 1365.6,1385 1366.1,1361.4 1366.7,1355 1367.3,1348 1367.9,1347.6 1368.5,1341.2 1369.1,1339.9 1369.6,1340.4 1370.2,1334.3 1370.7,1324.7 1371.2,1313.5 1371.8,1313.5 1372.4,1321.6 1373,1291.2 1373.6,1290.4 1374.2,1259 1374.9,1261.3 1375.5,1242 1376,1247.4 1376.6,1270.2 1377.1,1257.9 1377.7,1267.8 1378.2,1265.1 1378.9,1236.8 1379.5,1239.5 1380.1,1230.5 1380.7,1230.5 1381.2,1232.1 1381.8,1234.2 1382.4,1237.4 1382.9,1239.4 1383.5,1232.8 1384,1232.8 1384.5,1248.7 1385.1,1253.1 1385.6,1272 1386.3,1272.1 1387,1258.1 1387.5,1254.9 1388.1,1239.7 1388.6,1221.2 1389.2,1245.2 1389.8,1265.1 1390.4,1268.2 1391,1258.1 1391.6,1258.1 1392.2,1258.1 1392.7,1271 1393.2,1269.7 1393.8,1269.7 1394.3,1269.7 1394.8,1281.2 1395.5,1284.8 1396.2,1308.9 1396.8,1322.9 1397.3,1308.9 1397.9,1324.3 1398.4,1333.7 1399,1327.3 1399.6,1332 1400.2,1348.4 1400.7,1346.2 1401.3,1357.3 1401.9,1373.1 1402.5,1369.2 1403,1388.8 1403.6,1385 1404.2,1385 1404.8,1401.2 1405.3,1387.8 1405.9,1389.6 1406.5,1400.1 1407.1,1405.7 1407.6,1423.6 1408.2,1433.5 1408.8,1433.5 1409.4,1443.8 1410,1445.3 1410.5,1452.7 1411.1,1450.5 1411.7,1454.2 1412.3,1458.7 1412.8,1464.6 1413.4,1484.9 1414,1488.8 1414.6,1488.4 1415.1,1485.8 1415.7,1498.1 1416.3,1495.8 1416.9,1486.4 1417.5,1484.2 1418,1490.2 1418.6,1489 1419.2,1497.6 1419.8,1500.4 1420.3,1505.4 1420.9,1500.6 1421.5,1509.1 1422.1,1508.1 1422.6,1509.6 1423.2,1518.8 1423.8,1526 1424.4,1530.8 1425,1544.8 1425.5,1544.2 1426.1,1547.5 1426.7,1549.4 1427.3,1550.6 1427.8,1544.2 1428.4,1559.3 1429,1555.7 1429.6,1563.3 1430.1,1561.3 1430.7,1559.7 1431.3,1563.6 1431.9,1569.4 1432.4,1567.2 1433,1573.5 1433.6,1577.1 1434.2,1573.5 1434.8,1571.3 1435.3,1581.2 1435.9,1581.1 1436.5,1582.2 1437.1,1580.2 1437.6,1580.2 1438.2,1571.9 1438.8,1573.9 1439.4,1571.9 1439.9,1570.8 1440.5,1568.5 1441.1,1567.5 1441.7,1564.9 1442.3,1565.3 1442.8,1569.1 1443.4,1574 1444,1576.5 1444.6,1573 1445.1,1572.8 1445.7,1575.5 1446.3,1571.9 1446.9,1576.5 1447.4,1571.9 1448,1573.5 1448.6,1561.5 1449.2,1563 1449.7,1558.3 1450.3,1561.5 1450.9,1558 1451.5,1558.1 1452.1,1561 1452.6,1552.2 1453.2,1550.2 1453.8,1550 1454.4,1546.5 1454.9,1545.7 1455.5,1541.6 1456.1,1540.9 1456.7,1538.3 1457.2,1539.1 1457.8,1536 1458.4,1534.7 1459,1530.3 1459.6,1516.9 1460.2,1520.5 1460.8,1517.6 1461.3,1506.7 1461.9,1504.2 1462.5,1508 1463.1,1500.4 1463.7,1520.6 1464.3,1513.1 1464.9,1528.7 1465.4,1535 1466,1525.5 1466.5,1525.9 1467.1,1524.3 1467.6,1521.7 1468.2,1516.5 1468.8,1509.2 1469.4,1513.4 1469.9,1504.5 1470.5,1502.7 1471.1,1511.5 1471.7,1517.8 1472.2,1516.8 1472.8,1530.3 1473.4,1533.9 1474,1522 1474.5,1522.7 1475.1,1516.5 1475.7,1509.8 1476.3,1500.5 1476.9,1499.9 1477.4,1498 1478,1510.6 1478.6,1518.3 1479.2,1543.1 1479.7,1553.4 1480.3,1550.1 1480.9,1545.3 1481.5,1535 1482,1535 1482.6,1527.5 1483.2,1519.1 1483.8,1520.2 1484.4,1514.2 1485,1522.1 1485.6,1525.5 1486.2,1535 1486.7,1545.7 1487.3,1561.2 1487.8,1567.2 1488.4,1562.7 1489,1555.1 1489.5,1544.1 1490.1,1535 1490.7,1557.8 1491.2,1564.1 1491.7,1571.9 1492.3,1557.6 1493,1543.9 1493.6,1530.3 1494.2,1531 1494.7,1536.4 1495.3,1542.7 1495.9,1554 1496.5,1547.7 1497,1553.4 1497.6,1554.4 1498.2,1558.1 1498.8,1553.9 1499.3,1559.1 1499.9,1563.4 1500.5,1562.6 1501.1,1562.2 1501.7,1558 1502.2,1558.5 1502.8,1558 1503.4,1565.4 1504,1571.4 1504.5,1580.9 1505.1,1588 1505.7,1588.6 1506.3,1588.6 1506.8,1589 1507.4,1591.1 1508,1593.2 1508.6,1593.2 1509.1,1594.9 1509.7,1592.6 1510.3,1592.6 1510.9,1594.1 1511.5,1593.1 1512,1597.1 1512.6,1595.8 1513.2,1592.6 1513.8,1595.2 1514.3,1592.6 1514.9,1594.1 1515.5,1590.3 1516.1,1595.2 1516.6,1590.3 1517.2,1591.8 1517.8,1590.3 1518.4,1592.9 1519,1598.3 1519.5,1596.8 1520.1,1598.7 1520.7,1599.7 1521.3,1604.2 1521.8,1605.7 1522.4,1604.3 1523,1605.6 1523.6,1604.3 1524.1,1605.7 1524.7,1605.1 1525.3,1605.7 1525.9,1605.3 1526.4,1605.5 1527,1606.3 1527.6,1605.2 1528.2,1605.3 1528.8,1605.3 1529.3,1605.6 1529.9,1605.8 1530.5,1605.6 1531.1,1605.9 1531.6,1606.3 1532.2,1605.3 1532.8,1606 1533.4,1606.6 1533.9,1606.1 1534.5,1606 1535.1,1606.5" fill="none" stroke="#ff0000" stroke-width="2.2" stroke-linejoin="round"/>
<rect x="1196.2" y="1154.5" width="453.6" height="453.5" fill="none" stroke="#1e1e1e" stroke-width="1.9"/>
<path d="M1185 1608H1196.2 M1188.6 1582.2H1196.2 M1188.6 1556.4H1196.2 M1188.6 1530.6H1196.2 M1188.6 1504.8H1196.2 M1185 1479H1196.2 M1188.6 1453.2H1196.2 M1188.6 1427.4H1196.2 M1188.6 1401.6H1196.2 M1188.6 1375.8H1196.2 M1185 1350H1196.2 M1188.6 1324.2H1196.2 M1188.6 1298.4H1196.2 M1188.6 1272.6H1196.2 M1188.6 1246.8H1196.2 M1185 1221H1196.2 M1188.6 1195.2H1196.2 M1188.6 1169.4H1196.2 M1196.2 1608V1619.5 M1205.7 1608V1615.8 M1220.9 1608V1615.8 M1238 1608V1619.5 M1255.4 1608V1615.8 M1270.8 1608V1615.8 M1283.7 1608V1615.8 M1294.4 1608V1615.8 M1303.5 1608V1615.8 M1311 1608V1615.8 M1318 1608V1615.8 M1324.2 1608V1615.8 M1329.1 1608V1615.8 M1334 1608V1619.5 M1366.7 1608V1615.8 M1385.8 1608V1615.8 M1399.4 1608V1615.8 M1409.9 1608V1615.8 M1418.5 1608V1615.8 M1425.8 1608V1615.8 M1432.1 1608V1615.8 M1437.6 1608V1615.8 M1442.6 1608V1619.5 M1475.3 1608V1615.8 M1494.4 1608V1615.8 M1508 1608V1615.8 M1518.5 1608V1615.8 M1527.1 1608V1615.8 M1534.4 1608V1615.8 M1540.7 1608V1615.8 M1546.2 1608V1615.8 M1551.2 1608V1619.5 M1583.9 1608V1615.8 M1603 1608V1615.8 M1616.6 1608V1615.8 M1627.1 1608V1615.8 M1635.7 1608V1615.8 M1643 1608V1615.8 M1649.8 1608V1619.5" stroke="#1e1e1e" stroke-width="1.7" fill="none"/>
<text x="1175.2" y="1608" transform="rotate(-90 1175.2 1608)" text-anchor="middle" class="t">0</text>
<text x="1175.2" y="1479" transform="rotate(-90 1175.2 1479)" text-anchor="middle" class="t">100</text>
<text x="1175.2" y="1350" transform="rotate(-90 1175.2 1350)" text-anchor="middle" class="t">200</text>
<text x="1175.2" y="1221" transform="rotate(-90 1175.2 1221)" text-anchor="middle" class="t">300</text>
<text x="1144.7" y="1380.7" transform="rotate(-90 1144.7 1380.7)" text-anchor="middle" class="t">Count</text>
<text x="1238.2" y="1646" text-anchor="middle" class="t">0</text>
<text x="1331.6" y="1646" text-anchor="middle" class="t">10</text>
<text x="1349.4" y="1637.6" text-anchor="middle" class="s">3</text>
<text x="1440.2" y="1646" text-anchor="middle" class="t">10</text>
<text x="1458" y="1637.6" text-anchor="middle" class="s">4</text>
<text x="1548.8" y="1646" text-anchor="middle" class="t">10</text>
<text x="1566.6" y="1637.6" text-anchor="middle" class="s">5</text>
<text x="1423.6" y="1675.5" text-anchor="middle" class="t">FITC-A</text>
<path d="M1413.4 1228.6H1618.8 M1413.4 1217.3V1239.9 M1618.8 1217.3V1239.9" stroke="#ff0000" stroke-width="2" fill="none"/>
<text x="1412.2" y="1200.8" class="t r">P2(65.19%)</text>
<text x="1663" y="290.5" class="h">6 h</text>
<text x="1663.4" y="858.8" class="h">12 h</text>
<text x="1663" y="1418" class="h">24 h</text>
<text transform="translate(247.4 1720.8) scale(1 1.04)" class="b">IFN-γ</text>
<text transform="translate(731.1 1717.5) scale(1 1.04)" class="b">Doxorubicin</text>
<text transform="translate(1220.3 1719.3) scale(1 1.04)" class="b">IFN-γ/Doxorubicin</text>
</svg></body></html>
